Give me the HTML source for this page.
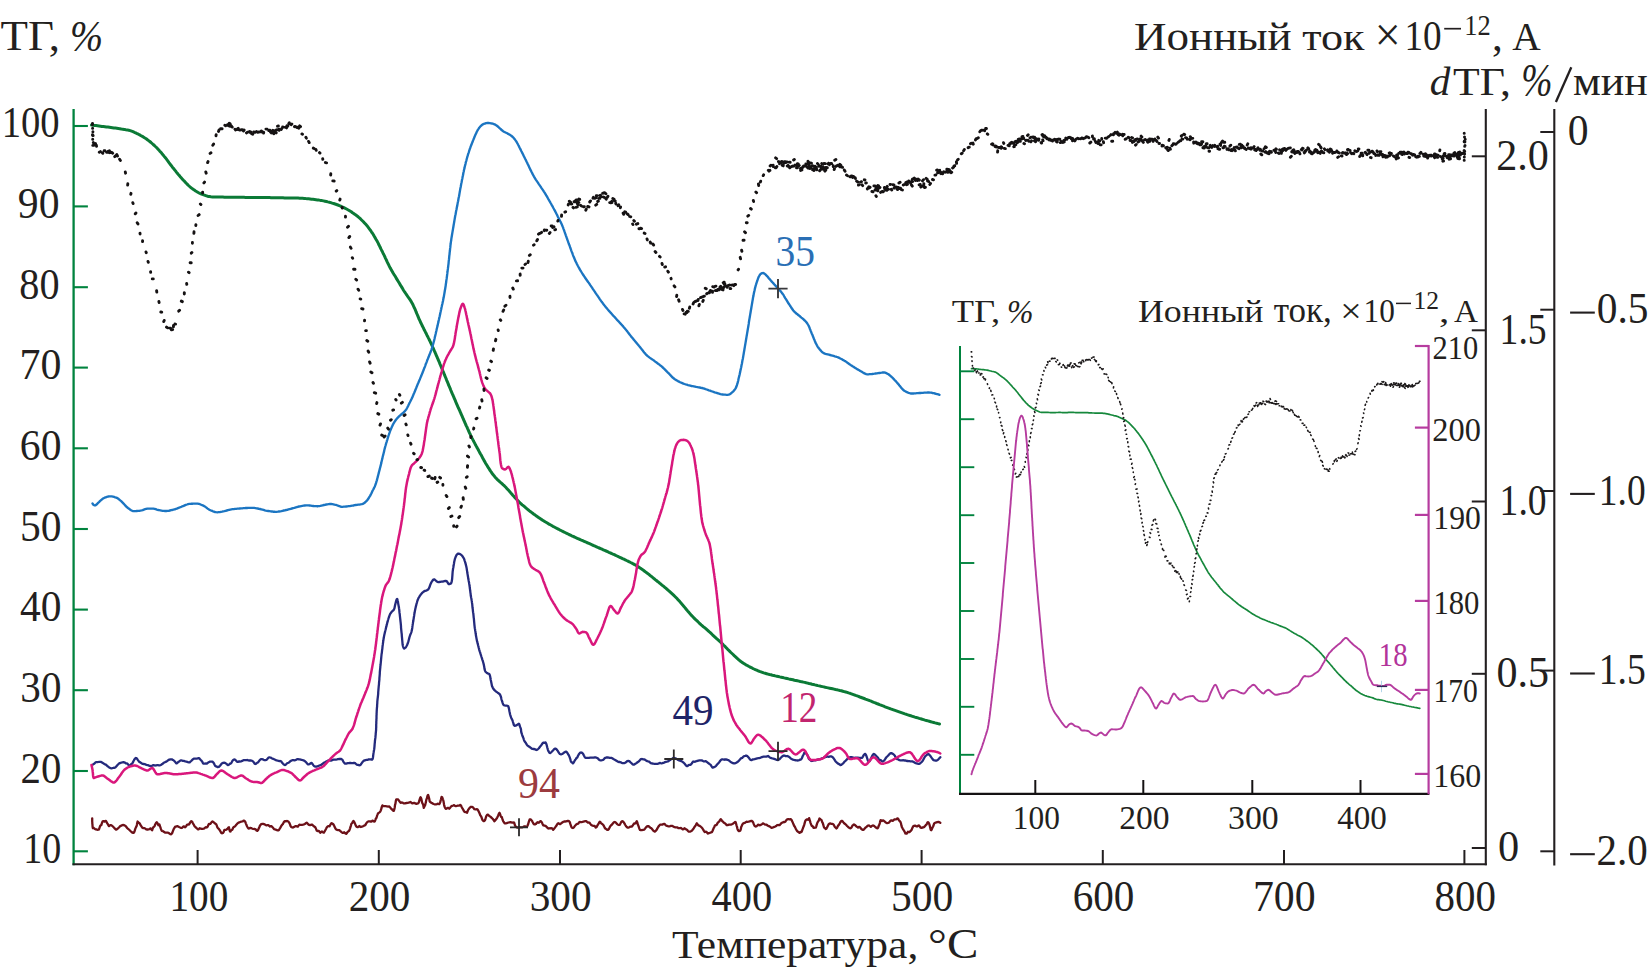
<!DOCTYPE html>
<html><head><meta charset="utf-8"><title>TG</title>
<style>html,body{margin:0;padding:0;background:#fff;}body{width:1649px;height:971px;overflow:hidden;font-family:"Liberation Serif",serif;}svg{display:block;}</style>
</head><body>
<svg width="1649" height="971" viewBox="0 0 1649 971" font-family="'Liberation Serif', serif">
<rect width="1649" height="971" fill="#ffffff"/>
<path d="M91.5 125.1L93 125.2L94.5 125.4L96 125.6L97.5 125.8L99 126L100.5 126.2L101.9 126.4L103.4 126.6L104.9 126.8L106.4 127L107.9 127.1L109.4 127.3L110.9 127.5L112.4 127.7L113.9 127.9L115.4 128.1L116.8 128.3L118.3 128.5L119.8 128.7L121.3 129L122.8 129.2L124.3 129.4L125.8 129.7L127.3 129.9L128.7 130.2L130.2 130.6L131.6 131.1L133 131.6L134.3 132.3L135.7 132.9L137.1 133.6L138.4 134.2L139.7 134.9L141.1 135.7L142.4 136.4L143.7 137.2L144.9 138L146.2 138.8L147.4 139.7L148.6 140.6L149.8 141.5L151 142.5L152.1 143.5L153.2 144.5L154.4 145.5L155.4 146.5L156.5 147.5L157.5 148.6L158.6 149.7L159.6 150.9L160.6 152L161.6 153.1L162.5 154.3L163.5 155.4L164.4 156.6L165.4 157.8L166.3 158.9L167.2 160.1L168.1 161.3L169 162.6L169.9 163.8L170.8 165L171.7 166.2L172.6 167.4L173.6 168.5L174.5 169.7L175.5 170.9L176.4 172.1L177.3 173.2L178.3 174.4L179.3 175.5L180.2 176.7L181.2 177.8L182.2 178.9L183.2 180L184.3 181.1L185.3 182.2L186.3 183.3L187.4 184.4L188.5 185.5L189.6 186.5L190.7 187.5L191.9 188.4L193.1 189.3L194.3 190.1L195.6 191L196.9 191.7L198.2 192.5L199.5 193.2L200.9 193.8L202.3 194.4L203.7 194.9L205.1 195.4L206.5 195.9L208 196.4L209.4 196.6L210.9 196.8L212.4 196.9L213.9 197L215.4 197L216.9 197.1L218.4 197.1L219.9 197.1L221.4 197.1L222.9 197.1L224.4 197.2L225.9 197.2L227.4 197.2L228.9 197.2L230.5 197.2L232 197.2L233.5 197.2L235 197.3L236.5 197.3L238 197.3L239.5 197.3L241 197.3L242.5 197.3L244 197.3L245.5 197.4L247 197.4L248.5 197.4L250 197.4L251.5 197.4L253 197.4L254.5 197.4L256 197.5L257.5 197.5L259 197.5L260.5 197.5L262 197.5L263.5 197.5L265 197.6L266.5 197.6L268 197.6L269.5 197.6L271 197.7L272.5 197.7L274 197.7L275.5 197.7L277 197.7L278.5 197.8L280 197.8L281.5 197.8L283 197.8L284.5 197.9L286 197.9L287.6 197.9L289.1 197.9L290.6 198L292.1 198L293.6 198L295.1 198.1L296.6 198.1L298.1 198.1L299.6 198.2L301.1 198.2L302.6 198.3L304.1 198.4L305.6 198.6L307.1 198.7L308.6 198.8L310.1 199L311.6 199.2L313 199.3L314.5 199.5L316 199.7L317.5 199.9L319 200.1L320.5 200.4L322 200.6L323.5 200.9L324.9 201.2L326.4 201.5L327.8 201.9L329.3 202.2L330.8 202.6L332.2 203.1L333.6 203.5L335.1 204L336.5 204.5L337.9 205L339.3 205.6L340.7 206.2L342 206.8L343.4 207.4L344.8 208.1L346.1 208.8L347.4 209.5L348.7 210.2L350 211L351.3 211.8L352.5 212.7L353.7 213.5L355 214.4L356.2 215.3L357.4 216.2L358.5 217.2L359.7 218.2L360.8 219.2L361.8 220.2L362.9 221.3L364 222.4L365 223.5L366 224.6L367 225.7L367.9 226.9L368.8 228.1L369.7 229.3L370.6 230.5L371.4 231.8L372.3 233L373.1 234.3L373.9 235.6L374.6 236.9L375.4 238.2L376.1 239.5L376.9 240.8L377.6 242.1L378.3 243.4L378.9 244.8L379.6 246.1L380.3 247.5L380.9 248.8L381.6 250.2L382.3 251.5L382.9 252.9L383.6 254.2L384.3 255.6L384.9 256.9L385.5 258.3L386.2 259.7L386.8 261L387.4 262.4L388.1 263.7L388.8 265.1L389.4 266.4L390.1 267.8L390.9 269.1L391.6 270.4L392.4 271.7L393.1 273L393.9 274.3L394.7 275.5L395.5 276.8L396.2 278.1L397 279.4L397.8 280.7L398.6 282L399.4 283.3L400.1 284.6L400.9 285.8L401.7 287.1L402.5 288.4L403.2 289.7L404 291L404.8 292.2L405.7 293.5L406.5 294.7L407.4 296L408.2 297.2L409.1 298.4L410 299.7L410.8 300.9L411.6 302.2L412.3 303.5L413 304.8L413.6 306.2L414.2 307.5L414.9 308.9L415.5 310.3L416 311.7L416.6 313.1L417.2 314.5L417.8 315.9L418.4 317.3L418.9 318.7L419.6 320L420.2 321.4L420.8 322.8L421.5 324.1L422.1 325.5L422.8 326.8L423.5 328.2L424.1 329.5L424.8 330.8L425.5 332.2L426.2 333.5L426.8 334.9L427.5 336.2L428.2 337.6L428.9 338.9L429.5 340.3L430.2 341.6L430.8 343L431.5 344.3L432.1 345.7L432.7 347.1L433.3 348.4L433.9 349.8L434.5 351.2L435.1 352.5L435.7 353.9L436.3 355.3L436.9 356.7L437.5 358.1L438.1 359.5L438.7 360.8L439.3 362.2L439.8 363.6L440.4 365L441 366.4L441.6 367.8L442.2 369.2L442.7 370.5L443.3 371.9L443.9 373.3L444.4 374.7L445 376.1L445.6 377.5L446.2 378.9L446.7 380.3L447.3 381.7L447.9 383.1L448.4 384.5L449 385.8L449.6 387.2L450.2 388.6L450.7 390L451.3 391.4L451.9 392.8L452.5 394.2L453.1 395.5L453.7 396.9L454.3 398.3L454.9 399.7L455.5 401.1L456 402.4L456.6 403.8L457.2 405.2L457.8 406.6L458.4 408L459.1 409.3L459.7 410.7L460.3 412.1L460.9 413.5L461.5 414.8L462.1 416.2L462.7 417.6L463.3 419L463.9 420.3L464.5 421.7L465.1 423.1L465.7 424.5L466.3 425.8L467 427.2L467.6 428.6L468.2 429.9L468.8 431.3L469.4 432.7L470.1 434L470.7 435.4L471.4 436.7L472 438.1L472.7 439.4L473.4 440.8L474.1 442.1L474.8 443.4L475.5 444.8L476.2 446.1L476.9 447.4L477.7 448.7L478.4 450L479.1 451.4L479.8 452.7L480.5 454L481.3 455.3L482 456.6L482.7 458L483.4 459.3L484.1 460.6L484.9 461.9L485.6 463.2L486.4 464.5L487.2 465.8L488 467.1L488.8 468.3L489.6 469.6L490.4 470.9L491.3 472.1L492.1 473.3L493 474.6L494 475.7L494.9 476.9L495.9 478L496.9 479.1L498 480.1L499.1 481.1L500.2 482.1L501.4 483.1L502.5 484.1L503.6 485.2L504.7 486.2L505.8 487.3L506.8 488.4L507.8 489.5L508.8 490.6L509.8 491.7L510.8 492.9L511.8 494L512.8 495.2L513.8 496.3L514.8 497.4L515.8 498.5L516.8 499.6L517.8 500.7L518.9 501.7L520 502.8L521.1 503.8L522.2 504.8L523.3 505.7L524.5 506.7L525.6 507.7L526.8 508.7L528 509.6L529.1 510.6L530.3 511.5L531.5 512.4L532.7 513.3L533.9 514.2L535.2 515.1L536.4 516L537.6 516.9L538.9 517.7L540.1 518.5L541.3 519.4L542.6 520.2L543.9 521L545.1 521.8L546.4 522.5L547.7 523.3L549 524.1L550.3 524.8L551.6 525.5L552.9 526.3L554.3 527L555.6 527.7L556.9 528.4L558.3 529.1L559.6 529.8L561 530.5L562.3 531.2L563.6 531.8L565 532.5L566.3 533.2L567.7 533.8L569 534.5L570.4 535.1L571.7 535.8L573.1 536.4L574.5 537L575.8 537.7L577.2 538.3L578.6 538.9L580 539.5L581.3 540.1L582.7 540.7L584.1 541.3L585.5 541.9L586.8 542.5L588.2 543.1L589.6 543.7L591 544.3L592.3 545L593.7 545.6L595.1 546.2L596.5 546.8L597.8 547.4L599.2 548L600.6 548.6L602 549.2L603.3 549.8L604.7 550.4L606.1 551L607.5 551.6L608.8 552.3L610.2 552.9L611.6 553.5L612.9 554.1L614.3 554.7L615.7 555.4L617 556L618.4 556.7L619.8 557.3L621.1 557.9L622.5 558.6L623.9 559.2L625.2 559.8L626.6 560.5L627.9 561.1L629.3 561.8L630.6 562.5L632 563.2L633.3 563.9L634.6 564.6L635.9 565.3L637.2 566.1L638.4 566.9L639.7 567.7L640.9 568.5L642.2 569.4L643.4 570.3L644.6 571.2L645.8 572.1L647 573L648.2 573.9L649.4 574.8L650.6 575.8L651.7 576.7L652.9 577.7L654.1 578.6L655.2 579.6L656.4 580.5L657.6 581.5L658.8 582.4L659.9 583.4L661.1 584.3L662.3 585.3L663.4 586.2L664.6 587.2L665.8 588.1L666.9 589.1L668 590.1L669.2 591.1L670.3 592.1L671.4 593.1L672.5 594.1L673.6 595.1L674.7 596.2L675.7 597.2L676.8 598.3L677.8 599.4L678.8 600.5L679.8 601.6L680.8 602.8L681.8 603.9L682.7 605.1L683.7 606.2L684.7 607.4L685.6 608.5L686.6 609.7L687.6 610.9L688.6 612L689.5 613.1L690.5 614.3L691.5 615.4L692.6 616.5L693.6 617.6L694.6 618.6L695.7 619.7L696.8 620.7L697.9 621.7L699 622.8L700.1 623.8L701.2 624.8L702.4 625.8L703.5 626.8L704.6 627.7L705.8 628.7L706.9 629.7L708 630.7L709.1 631.7L710.3 632.7L711.4 633.7L712.5 634.8L713.6 635.8L714.7 636.8L715.8 637.8L716.9 638.8L718.1 639.8L719.2 640.8L720.3 641.8L721.3 642.9L722.4 643.9L723.5 645L724.6 646L725.6 647.1L726.7 648.2L727.7 649.3L728.8 650.3L729.8 651.4L730.9 652.5L732 653.5L733.1 654.5L734.2 655.6L735.3 656.6L736.4 657.6L737.5 658.7L738.6 659.7L739.8 660.6L740.9 661.5L742.1 662.4L743.4 663.2L744.7 664L745.9 664.8L747.3 665.5L748.6 666.3L749.9 667L751.3 667.6L752.6 668.3L754 669L755.3 669.6L756.7 670.2L758.1 670.8L759.5 671.4L760.9 671.9L762.3 672.4L763.7 672.9L765.2 673.3L766.6 673.7L768 674.1L769.5 674.5L771 674.8L772.4 675.2L773.9 675.5L775.3 675.9L776.8 676.2L778.3 676.5L779.8 676.9L781.2 677.2L782.7 677.5L784.2 677.9L785.7 678.2L787.1 678.5L788.6 678.9L790 679.2L791.5 679.5L793 679.8L794.4 680.2L795.9 680.5L797.4 680.8L798.9 681.1L800.3 681.5L801.8 681.8L803.3 682.1L804.7 682.4L806.2 682.8L807.6 683.1L809.1 683.5L810.6 683.8L812 684.2L813.5 684.5L815 684.9L816.4 685.2L817.9 685.6L819.3 685.9L820.8 686.3L822.3 686.6L823.7 686.9L825.2 687.3L826.7 687.6L828.1 687.9L829.6 688.2L831.1 688.5L832.6 688.8L834 689.1L835.5 689.5L837 689.8L838.4 690.1L839.9 690.5L841.4 690.8L842.8 691.2L844.2 691.6L845.7 692L847.1 692.4L848.5 692.9L850 693.3L851.4 693.8L852.8 694.3L854.2 694.8L855.6 695.4L857.1 695.9L858.5 696.4L859.9 697L861.3 697.5L862.7 698L864.1 698.5L865.5 699.1L866.9 699.6L868.3 700.1L869.7 700.7L871.1 701.2L872.5 701.8L873.9 702.4L875.3 702.9L876.7 703.5L878.1 704L879.5 704.6L880.9 705.1L882.3 705.7L883.7 706.2L885.1 706.8L886.5 707.3L887.9 707.8L889.3 708.3L890.7 708.9L892.1 709.4L893.5 709.9L895 710.4L896.4 710.9L897.8 711.4L899.2 711.9L900.6 712.4L902.1 712.9L903.5 713.4L904.9 713.9L906.3 714.3L907.8 714.8L909.2 715.3L910.6 715.7L912 716.2L913.5 716.6L914.9 717.1L916.3 717.5L917.8 717.9L919.2 718.4L920.7 718.8L922.1 719.2L923.5 719.6L925 720.1L926.4 720.5L927.9 720.9L929.3 721.3L930.8 721.7L932.2 722.1L933.7 722.5L935.1 722.9L936.6 723.2L938 723.6L939.5 724" fill="none" stroke="#0b7a36" stroke-width="3.0" stroke-linejoin="round" stroke-linecap="round"/>
<path d="M92.5 503.5L93.4 504.7L94.4 505.4L95.3 505.4L96.2 504.8L97.2 503.8L98.1 502.9L99 502.1L99.9 501.2L100.8 500.4L101.7 499.6L102.6 498.8L103.6 498.2L104.6 497.7L105.7 497.3L106.9 496.9L108.1 496.5L109.3 496.3L110.5 496.3L111.7 496.4L112.9 496.6L114.1 496.9L115.2 497.3L116.3 497.6L117.4 498.1L118.3 498.8L119.3 499.6L120.2 500.4L121.2 501.2L122.1 502.1L122.9 502.9L123.8 503.8L124.6 504.7L125.4 505.6L126.2 506.5L127.1 507.3L128 508L129 508.7L130 509.5L131.1 510.2L132.2 510.8L133.3 511.1L134.4 511.2L135.6 511.1L136.8 511L138 510.9L139.2 510.8L140.4 510.6L141.6 510.4L142.7 510.1L143.9 509.6L145.1 509.2L146.2 508.9L147.4 508.6L148.6 508.6L149.8 508.6L151 508.6L152.2 508.6L153.4 508.6L154.5 508.8L155.7 509.2L156.8 509.6L158 510L159.2 510.2L160.3 510.4L161.5 510.6L162.7 510.8L163.9 510.9L165.1 511L166.3 511L167.5 510.9L168.7 510.8L169.9 510.5L171.1 510.2L172.3 510L173.4 509.6L174.6 509.3L175.7 509L176.8 508.6L178 508.1L179.1 507.7L180.2 507.2L181.3 506.8L182.4 506.3L183.6 505.9L184.7 505.4L185.8 504.9L187 504.5L188.1 504.1L189.3 503.9L190.4 503.8L191.6 503.7L192.8 503.7L194.1 503.6L195.3 503.6L196.5 503.6L197.6 503.6L198.8 503.9L200 504.2L201.1 504.7L202.2 505.2L203.3 505.6L204.4 506.2L205.4 506.9L206.4 507.6L207.3 508.4L208.3 509.1L209.3 509.7L210.4 510.2L211.5 510.7L212.7 511.2L213.8 511.7L215 512L216.1 512.2L217.3 512.3L218.5 512.2L219.7 512.1L220.9 511.8L222.1 511.6L223.2 511.3L224.4 511.1L225.6 510.8L226.8 510.5L227.9 510.2L229.1 509.9L230.3 509.6L231.4 509.4L232.6 509.2L233.8 509.1L235 508.9L236.2 508.8L237.4 508.7L238.6 508.6L239.8 508.5L241 508.4L242.2 508.3L243.4 508.2L244.6 508.1L245.8 508L247 508L248.2 507.9L249.4 507.9L250.6 507.8L251.8 507.8L253 507.8L254.2 507.9L255.4 508.1L256.6 508.3L257.8 508.5L258.9 508.8L260.1 509L261.3 509.3L262.4 509.6L263.6 509.9L264.8 510.3L265.9 510.6L267.1 510.8L268.3 511L269.5 511.2L270.7 511.4L271.9 511.5L273.1 511.7L274.3 511.7L275.5 511.8L276.7 511.8L277.8 511.7L279 511.5L280.2 511.3L281.4 511.1L282.6 510.8L283.8 510.5L284.9 510.3L286.1 510L287.3 509.8L288.4 509.4L289.6 509.1L290.8 508.8L291.9 508.5L293.1 508.2L294.2 507.9L295.4 507.5L296.6 507.2L297.7 506.8L298.9 506.5L300 506.3L301.2 506.1L302.4 505.9L303.6 505.7L304.8 505.5L306 505.4L307.2 505.3L308.4 505.3L309.6 505.5L310.8 505.7L312 505.9L313.2 506L314.4 506.1L315.6 506.1L316.8 506.2L318 506.2L319.1 506.1L320.3 505.9L321.5 505.6L322.7 505.3L323.9 505L325 504.8L326.2 504.5L327.4 504.3L328.6 504.1L329.8 504L331 504L332.2 504.2L333.4 504.4L334.5 504.7L335.7 504.9L336.9 505.2L338 505.7L339.2 506.1L340.3 506.5L341.5 506.8L342.6 506.8L343.8 506.7L345 506.6L346.2 506.5L347.4 506.4L348.6 506.2L349.8 506.1L351 505.9L352.2 505.7L353.4 505.5L354.6 505.2L355.8 505L357 504.9L358.2 504.7L359.4 504.6L360.6 504.4L361.8 504.2L362.8 503.9L363.9 503.3L364.9 502.5L365.8 501.7L366.6 500.9L367.4 500L368.1 499L368.8 498L369.4 496.9L370.1 495.9L370.6 494.9L371.2 493.8L371.7 492.7L372.2 491.6L372.7 490.5L373.3 489.5L373.8 488.4L374.4 487.3L374.9 486.2L375.3 485.1L375.7 484L376.1 482.9L376.4 481.7L376.8 480.6L377.1 479.4L377.4 478.3L377.7 477.1L378 475.9L378.3 474.8L378.6 473.6L378.9 472.4L379.2 471.2L379.5 470.1L379.8 468.9L380.1 467.7L380.4 466.6L380.7 465.4L381 464.2L381.3 463.1L381.5 461.9L381.8 460.7L382.1 459.5L382.4 458.4L382.6 457.2L382.9 456L383.2 454.9L383.5 453.7L383.8 452.5L384.1 451.4L384.3 450.2L384.6 449L384.9 447.9L385.2 446.7L385.6 445.5L385.9 444.4L386.2 443.2L386.6 442.1L386.9 440.9L387.3 439.8L387.6 438.6L388 437.5L388.3 436.3L388.7 435.2L389.1 434L389.5 432.9L389.9 431.7L390.3 430.6L390.8 429.5L391.2 428.4L391.7 427.3L392.2 426.2L392.7 425.1L393.2 424.1L393.8 423L394.5 422L395.1 421L395.8 420L396.6 419L397.3 418.1L398.1 417.3L399 416.4L399.9 415.6L400.8 414.8L401.7 414L402.7 413.3L403.5 412.5L404.4 411.6L405.2 410.7L406 409.8L406.6 408.8L407.2 407.7L407.7 406.7L408.3 405.6L408.8 404.5L409.3 403.4L409.9 402.3L410.4 401.3L410.9 400.2L411.5 399.1L412 398L412.5 396.9L413 395.8L413.4 394.7L413.9 393.6L414.4 392.5L414.8 391.4L415.3 390.3L415.7 389.2L416.2 388L416.6 386.9L417.1 385.8L417.5 384.7L418 383.6L418.5 382.5L418.9 381.4L419.4 380.3L419.9 379.2L420.3 378.1L420.8 376.9L421.3 375.8L421.7 374.7L422.2 373.6L422.6 372.5L423 371.4L423.5 370.3L423.9 369.1L424.3 368L424.8 366.9L425.2 365.8L425.6 364.6L426 363.5L426.5 362.4L426.9 361.3L427.3 360.1L427.8 359L428.2 357.9L428.7 356.8L429.1 355.7L429.6 354.6L430 353.4L430.5 352.3L430.9 351.2L431.3 350.1L431.7 348.9L432.1 347.8L432.4 346.7L432.7 345.5L433.1 344.3L433.4 343.2L433.7 342L434 340.9L434.3 339.7L434.6 338.5L434.8 337.4L435.1 336.2L435.4 335L435.7 333.8L435.9 332.7L436.2 331.5L436.5 330.3L436.7 329.1L437 328L437.3 326.8L437.6 325.6L437.8 324.5L438.1 323.3L438.4 322.1L438.6 320.9L438.9 319.8L439.1 318.6L439.4 317.4L439.7 316.2L439.9 315.1L440.2 313.9L440.4 312.7L440.7 311.5L440.9 310.4L441.2 309.2L441.4 308L441.7 306.8L441.9 305.7L442.2 304.5L442.5 303.3L442.7 302.1L443 301L443.2 299.8L443.4 298.6L443.7 297.4L443.9 296.3L444.1 295.1L444.3 293.9L444.5 292.7L444.7 291.5L444.9 290.3L445.1 289.2L445.3 288L445.5 286.8L445.7 285.6L445.8 284.4L446 283.2L446.2 282L446.3 280.8L446.5 279.6L446.7 278.4L446.8 277.3L447 276.1L447.1 274.9L447.3 273.7L447.4 272.5L447.6 271.3L447.7 270.1L447.9 268.9L448 267.7L448.2 266.5L448.3 265.3L448.5 264.1L448.6 262.9L448.7 261.7L448.8 260.5L449 259.4L449.1 258.2L449.2 257L449.3 255.8L449.5 254.6L449.6 253.4L449.7 252.2L449.9 251L450 249.8L450.1 248.6L450.3 247.4L450.4 246.2L450.5 245L450.7 243.8L450.8 242.6L451 241.4L451.2 240.3L451.3 239.1L451.5 237.9L451.7 236.7L451.9 235.5L452.1 234.3L452.3 233.1L452.5 231.9L452.7 230.8L452.9 229.6L453.1 228.4L453.3 227.2L453.5 226L453.7 224.8L453.9 223.6L454.1 222.5L454.3 221.3L454.5 220.1L454.7 218.9L454.9 217.7L455.1 216.5L455.3 215.4L455.6 214.2L455.8 213L456 211.8L456.2 210.6L456.5 209.5L456.7 208.3L456.9 207.1L457.2 205.9L457.4 204.7L457.6 203.6L457.8 202.4L458.1 201.2L458.3 200L458.5 198.8L458.7 197.6L459 196.5L459.2 195.3L459.4 194.1L459.6 192.9L459.8 191.7L460 190.6L460.2 189.4L460.4 188.2L460.7 187L460.9 185.8L461.1 184.6L461.3 183.5L461.6 182.3L461.8 181.1L462 179.9L462.3 178.7L462.5 177.6L462.7 176.4L463 175.2L463.2 174L463.4 172.8L463.7 171.7L463.9 170.5L464.2 169.3L464.5 168.1L464.7 167L465 165.8L465.3 164.6L465.6 163.5L465.8 162.3L466.2 161.1L466.5 160L466.8 158.8L467.1 157.7L467.4 156.5L467.8 155.4L468.1 154.2L468.5 153.1L468.9 151.9L469.2 150.8L469.6 149.6L470 148.5L470.4 147.4L470.8 146.2L471.3 145.1L471.7 144L472.1 142.9L472.6 141.8L473 140.6L473.5 139.5L473.9 138.4L474.4 137.3L474.8 136.2L475.3 135.1L475.8 134L476.3 132.9L476.8 131.8L477.4 130.7L478 129.7L478.7 128.7L479.3 127.7L480.1 126.8L481 125.8L481.9 125L482.9 124.3L483.9 123.9L485 123.5L486.2 123.2L487.4 123L488.6 123L489.8 123.1L491 123.3L492.2 123.5L493.4 123.9L494.5 124.3L495.6 124.9L496.6 125.5L497.5 126.2L498.4 127L499.3 127.9L500.2 128.7L501.1 129.5L502 130.3L502.9 131L503.9 131.7L505 132.2L506.1 132.8L507.2 133.3L508.2 133.9L509.3 134.5L510.3 135.1L511.3 135.8L512.2 136.5L513.1 137.3L513.9 138.2L514.7 139.2L515.4 140.2L516.1 141.1L516.7 142.1L517.3 143.2L517.9 144.3L518.4 145.3L519 146.4L519.5 147.5L520.1 148.6L520.6 149.6L521.1 150.7L521.7 151.8L522.2 152.9L522.8 153.9L523.3 155L523.8 156.1L524.4 157.2L524.9 158.2L525.4 159.3L526 160.4L526.5 161.5L527 162.5L527.5 163.6L528.1 164.7L528.6 165.8L529.1 166.9L529.6 168L530.1 169.1L530.6 170.2L531.2 171.2L531.7 172.3L532.3 173.4L532.8 174.4L533.4 175.5L534 176.6L534.6 177.6L535.2 178.6L535.8 179.6L536.5 180.6L537.2 181.6L537.9 182.6L538.5 183.6L539.2 184.6L539.9 185.6L540.6 186.6L541.2 187.6L541.9 188.6L542.6 189.6L543.3 190.6L543.9 191.6L544.6 192.6L545.2 193.6L545.8 194.6L546.4 195.7L547 196.7L547.6 197.7L548.2 198.8L548.8 199.8L549.4 200.9L550 201.9L550.6 203L551.2 204L551.8 205.1L552.4 206.1L553 207.2L553.5 208.2L554.1 209.3L554.7 210.3L555.2 211.4L555.8 212.5L556.3 213.5L556.9 214.6L557.4 215.7L557.9 216.8L558.5 217.8L559 218.9L559.6 220L560.1 221.1L560.7 222.1L561.2 223.2L561.7 224.3L562.2 225.4L562.6 226.5L563.1 227.6L563.5 228.8L563.9 229.9L564.3 231L564.7 232.2L565.1 233.3L565.5 234.4L565.9 235.6L566.3 236.7L566.7 237.8L567.1 239L567.5 240.1L567.9 241.2L568.3 242.3L568.7 243.5L569.1 244.6L569.6 245.7L570 246.9L570.4 248L570.8 249.1L571.2 250.3L571.6 251.4L572.1 252.5L572.5 253.6L572.9 254.8L573.3 255.9L573.8 257L574.2 258.1L574.7 259.2L575.1 260.3L575.6 261.4L576.2 262.5L576.7 263.6L577.3 264.7L577.8 265.7L578.4 266.8L579 267.8L579.5 268.9L580.1 269.9L580.8 271L581.4 272L582 273L582.6 274L583.3 275L584 276L584.6 277L585.3 278L586 279L586.7 280L587.4 281L588.1 282L588.8 282.9L589.5 283.9L590.1 284.9L590.8 285.9L591.5 286.9L592.2 287.9L592.8 288.9L593.5 289.9L594.2 290.9L594.9 291.9L595.5 292.9L596.2 293.9L596.9 294.9L597.6 295.8L598.3 296.8L599 297.8L599.6 298.8L600.3 299.8L601 300.8L601.7 301.8L602.4 302.7L603.1 303.7L603.9 304.7L604.6 305.6L605.3 306.5L606.1 307.5L606.9 308.4L607.6 309.3L608.4 310.2L609.2 311.1L610 312L610.8 312.9L611.6 313.8L612.4 314.7L613.2 315.6L614.1 316.5L614.9 317.4L615.7 318.3L616.5 319.2L617.3 320.1L618.1 320.9L618.9 321.8L619.7 322.7L620.6 323.6L621.4 324.5L622.2 325.4L623 326.2L623.8 327.2L624.6 328.1L625.3 329L626.1 329.9L626.8 330.9L627.6 331.8L628.3 332.8L629 333.7L629.8 334.7L630.5 335.6L631.2 336.6L632 337.5L632.8 338.4L633.5 339.4L634.3 340.3L635.1 341.2L635.8 342.1L636.6 343L637.4 344L638.2 344.9L638.9 345.8L639.7 346.7L640.5 347.7L641.2 348.6L641.9 349.6L642.7 350.6L643.4 351.5L644.2 352.5L645 353.4L645.8 354.3L646.6 355.1L647.4 355.9L648.4 356.7L649.3 357.4L650.3 358.1L651.3 358.8L652.3 359.4L653.3 360.1L654.3 360.8L655.2 361.6L656.2 362.3L657.2 363L658.1 363.7L659.1 364.4L660 365.2L661 365.9L661.9 366.7L662.8 367.5L663.7 368.3L664.5 369.2L665.4 370L666.2 370.9L667 371.7L667.9 372.6L668.8 373.4L669.6 374.3L670.4 375.2L671.3 376.1L672.1 377L673 377.8L673.9 378.5L674.8 379.2L675.8 379.9L676.9 380.5L677.9 381.1L679 381.6L680.1 382.2L681.2 382.7L682.3 383.1L683.4 383.6L684.5 384L685.7 384.4L686.8 384.7L688 385.1L689.2 385.4L690.3 385.7L691.5 386L692.7 386.2L693.8 386.4L695 386.6L696.2 386.9L697.4 387.1L698.6 387.3L699.8 387.5L700.9 387.8L702.1 388L703.3 388.3L704.4 388.7L705.5 389.1L706.7 389.5L707.8 389.9L708.9 390.3L710.1 390.7L711.2 391.1L712.4 391.5L713.5 391.9L714.6 392.3L715.8 392.6L716.9 393L718.1 393.3L719.2 393.7L720.4 394.1L721.6 394.4L722.7 394.5L723.9 394.6L725.2 394.7L726.4 394.8L727.6 394.8L728.7 394.7L729.8 394.2L730.8 393.5L731.8 392.7L732.7 391.9L733.6 391.1L734.4 390.1L735.1 389.1L735.7 388.1L736.2 387.1L736.6 386L737 384.9L737.4 383.7L737.7 382.6L738 381.4L738.3 380.2L738.5 379L738.8 377.8L739.1 376.6L739.4 375.4L739.7 374.3L739.9 373.1L740.2 371.9L740.4 370.7L740.7 369.6L740.9 368.4L741.2 367.2L741.4 366L741.6 364.9L741.9 363.7L742.1 362.5L742.3 361.3L742.5 360.1L742.8 359L743 357.8L743.2 356.6L743.4 355.4L743.6 354.2L743.8 353L744 351.8L744.2 350.7L744.4 349.5L744.6 348.3L744.8 347.1L745 345.9L745.2 344.7L745.4 343.6L745.6 342.4L745.8 341.2L746 340L746.2 338.8L746.4 337.6L746.6 336.4L746.8 335.3L747 334.1L747.2 332.9L747.4 331.7L747.6 330.5L747.8 329.3L748 328.1L748.2 327L748.4 325.8L748.6 324.6L748.8 323.4L748.9 322.2L749.1 321L749.3 319.8L749.5 318.6L749.7 317.5L749.9 316.3L750.1 315.1L750.3 313.9L750.5 312.7L750.7 311.5L750.9 310.3L751.1 309.2L751.3 308L751.5 306.8L751.7 305.6L751.9 304.4L752.1 303.2L752.3 302L752.5 300.9L752.7 299.7L752.9 298.5L753.1 297.3L753.4 296.1L753.6 294.9L753.8 293.8L754 292.6L754.3 291.4L754.6 290.2L754.8 289.1L755.1 287.9L755.4 286.7L755.7 285.6L756.1 284.4L756.4 283.3L756.8 282.1L757.2 281L757.6 279.8L758 278.7L758.4 277.6L758.9 276.5L759.5 275.5L760.2 274.4L761.1 273.6L762.2 273.1L763.3 273L764.4 273.6L765.4 274.4L766.3 275.3L767.1 276.1L767.9 277L768.6 278L769.4 278.9L770.2 279.8L771 280.7L771.8 281.6L772.6 282.5L773.4 283.4L774.2 284.3L775.1 285.2L775.9 286.1L776.7 287L777.5 287.8L778.3 288.7L779.1 289.6L779.9 290.5L780.7 291.4L781.5 292.3L782.2 293.3L782.9 294.2L783.6 295.2L784.2 296.3L784.8 297.3L785.4 298.3L786.1 299.4L786.7 300.4L787.3 301.4L787.9 302.5L788.6 303.5L789.3 304.5L789.9 305.5L790.6 306.5L791.2 307.5L791.9 308.5L792.6 309.5L793.3 310.5L794.1 311.4L794.9 312.2L795.8 313L796.7 313.8L797.7 314.5L798.6 315.3L799.6 316L800.5 316.8L801.4 317.6L802.4 318.4L803.3 319.2L804.2 320L805.1 320.8L805.9 321.7L806.7 322.6L807.3 323.5L807.9 324.5L808.5 325.5L809 326.6L809.5 327.7L809.9 328.9L810.4 330L810.8 331.2L811.3 332.3L811.7 333.4L812.2 334.5L812.7 335.6L813.1 336.8L813.6 337.9L814 339L814.5 340.1L814.9 341.2L815.4 342.4L815.9 343.4L816.5 344.5L817 345.5L817.6 346.6L818.3 347.6L819.1 348.5L819.8 349.5L820.6 350.4L821.4 351.3L822.3 352.2L823.3 352.9L824.3 353.4L825.4 353.8L826.5 354.1L827.7 354.4L828.9 354.7L830.1 355L831.3 355.3L832.4 355.6L833.6 355.9L834.8 356.3L835.9 356.6L837 357L838.1 357.4L839.2 357.9L840.3 358.5L841.4 359L842.4 359.6L843.5 360.2L844.5 360.8L845.6 361.4L846.6 362.1L847.5 362.8L848.5 363.5L849.5 364.2L850.5 364.9L851.5 365.5L852.5 366.2L853.5 366.8L854.5 367.5L855.6 368.1L856.6 368.8L857.6 369.4L858.7 370L859.7 370.6L860.8 371.2L861.8 371.8L862.9 372.5L864 373.1L865.1 373.7L866.2 374.1L867.3 374.3L868.5 374.3L869.6 374.2L870.8 374.1L872 374L873.3 373.8L874.5 373.7L875.7 373.5L876.9 373.4L878.1 373.2L879.3 373L880.5 372.8L881.7 372.7L882.9 372.5L884 372.5L885.2 372.7L886.3 373.1L887.4 373.7L888.5 374.3L889.4 375L890.4 375.8L891.3 376.6L892.1 377.4L893 378.2L893.8 379.1L894.6 380L895.5 380.9L896.3 381.8L897.1 382.7L897.9 383.6L898.7 384.5L899.4 385.5L900.2 386.4L900.9 387.4L901.7 388.3L902.5 389.2L903.4 390L904.3 390.7L905.3 391.3L906.4 391.9L907.5 392.4L908.6 392.8L909.8 393.2L911 393.5L912.1 393.5L913.3 393.5L914.5 393.4L915.7 393.3L916.9 393.2L918.1 393.1L919.3 393L920.5 393L921.7 392.9L923 392.8L924.2 392.7L925.4 392.6L926.6 392.6L927.8 392.5L928.9 392.5L930.1 392.6L931.3 392.7L932.5 393L933.7 393.2L934.9 393.5L936 393.8L937.2 394.1L938.4 394.4L939.5 394.8" fill="none" stroke="#1b75c2" stroke-width="2.35" stroke-linejoin="round" stroke-linecap="round"/>
<path d="M92.2 765.2L93 764.5L93.7 763.9L94.5 763.4L95.2 762.7L96 762.1L96.8 762.1L97.6 762.2L98.3 762L99.1 761.8L99.9 761.8L100.7 761.9L101.5 762.2L102.3 762.6L103.2 763.2L104 763.8L104.8 764.2L105.6 764.6L106.4 765.1L107.3 766L108.1 766.6L108.9 767.2L109.8 767.8L110.6 768.2L111.4 768.3L112.3 768.2L113.1 768L113.8 767.7L114.6 767.8L115.3 767.5L116 766.7L116.8 765.9L117.5 765L118.3 764.2L119 763.5L119.8 763.1L120.7 762.8L121.6 762.5L122.5 762.3L123.3 762.2L124.2 762.4L125 762.7L125.8 763.3L126.7 763.4L127.5 763.8L128.3 764.7L129 765.4L129.8 765.5L130.4 764.9L131.1 764.2L131.7 764L132.3 763.4L132.9 762.4L133.4 761.3L134 760.2L134.6 759.2L135.2 758.4L135.8 758L136.4 758.2L137 758.7L137.6 759.6L138.3 760.6L138.9 761.4L139.6 762.1L140.4 762.6L141.2 763.1L142 763.6L142.9 763.9L143.8 764L144.7 764.1L145.6 764.5L146.4 764.9L147.3 765.1L148.2 765.2L149 765.6L149.9 765.9L150.8 766.2L151.7 766L152.6 765.4L153.5 765.1L154.4 765.4L155.4 765.5L156.3 765.3L157.2 765.1L158 765.2L158.9 765.3L159.8 765.3L160.6 765L161.5 764.6L162.3 764.1L163.1 763.4L163.9 762.7L164.8 762.3L165.6 761.9L166.4 761.4L167.3 760.9L168.1 760.3L169 759.7L169.8 759.5L170.6 759.4L171.4 759.4L172.2 759.5L172.9 759.9L173.6 760.4L174.3 760.9L175 761.7L175.7 762.7L176.4 763.4L177.1 763.1L177.9 762.4L178.7 761.7L179.5 761.2L180.3 760.6L181.2 760.3L182 760.5L182.8 760.8L183.7 760.9L184.6 761.2L185.4 761.5L186.3 761.7L187.2 761.9L188 762.2L188.9 762.4L189.7 762.3L190.4 761.7L191.2 761L191.9 760.2L192.6 759.4L193.4 758.9L194.1 758.7L195 758.6L195.9 758.6L196.8 758.6L197.7 758.4L198.5 758.1L199.2 758.1L199.9 759L200.5 759.7L201.1 760.3L201.7 761L202.3 761.7L202.9 763.1L203.5 763.7L204.3 763.7L205.1 763.6L205.9 763.5L206.9 763.6L207.8 762.9L208.7 762.2L209.7 761.7L210.5 761.6L211.3 761.6L212.1 761.6L212.8 761.9L213.4 762.6L214 763.5L214.6 764.8L215.2 765.9L215.8 766.3L216.5 766.4L217.1 766.9L217.8 767.2L218.6 767L219.3 766.5L220 765.7L220.8 764.7L221.6 763.7L222.4 763.1L223.2 762.8L224 762.7L224.8 762.9L225.7 763.3L226.5 763.9L227.4 764.8L228.2 765.1L228.9 764.7L229.7 764L230.3 763.5L231 763.3L231.7 762.3L232.3 761.1L233 760.1L233.7 759.6L234.5 759.5L235.3 759.9L236.1 760.7L237 761.6L237.9 761.9L238.7 761.4L239.6 761.5L240.4 761.5L241.3 761.3L242.1 760.9L243 760.4L243.8 760.2L244.7 760.2L245.6 760.2L246.5 760.1L247.4 760L248.3 760.3L249.3 760.5L250.2 760.5L251 760.5L251.8 760.7L252.5 761L253.2 761.6L253.9 762.5L254.6 763.7L255.3 764L256 763.8L256.7 763.1L257.4 762.6L258.1 762.4L258.8 761.4L259.5 760.4L260.3 759.5L261.1 759.2L261.9 759.2L262.8 759.4L263.7 759.8L264.6 760.1L265.5 760.2L266.3 760L267.1 759.3L267.8 758.4L268.6 757.5L269.3 757.3L270.1 757.5L270.9 757.7L271.7 758.2L272.6 758.6L273.4 758.9L274.2 759.3L275.1 759.7L275.9 760.1L276.8 760.4L277.8 760.7L278.7 760.9L279.5 761.2L280.3 761L281.1 761.3L281.7 762.1L282.4 763L283.1 763.8L283.7 764.4L284.4 764.9L285.1 765L285.7 764.7L286.4 764L287.1 763.3L287.8 763L288.5 762.7L289.3 762.3L290 761.5L290.8 760.9L291.7 760.5L292.5 760.2L293.4 760.1L294.4 760.3L295.3 760.2L296.2 759.7L297.1 759.2L298 759.1L298.9 759.3L299.8 759.4L300.7 759.6L301.6 759.8L302.5 760L303.3 760.3L304.1 760.6L304.9 761.2L305.6 761.8L306.3 762.6L307.1 763.5L307.8 764.3L308.6 764.4L309.5 764.2L310.4 763.5L311.2 762.9L311.9 763.1L312.6 764.1L313.3 765.1L313.9 765.9L314.6 766.4L315.3 766.5L316.2 766.6L317 766.5L317.9 766.2L318.8 765.8L319.8 765.4L320.7 765L321.6 764.6L322.4 764.1L323.2 763.3L324 762.8L324.8 762.3L325.5 761.9L326.3 761.4L327.1 761.1L327.9 760.7L328.7 760.4L329.6 760.4L330.5 760.5L331.4 760.6L332.3 760.1L333.2 759.7L334.1 759.6L335.1 759.7L336 759.7L336.9 759.5L337.8 759.2L338.7 759L339.6 759L340.4 758.9L341.2 759L341.9 759.4L342.6 760L343.2 761.3L343.9 762.5L344.6 763.2L345.3 763.7L346.1 763.6L347 763.3L347.8 763.1L348.8 763.1L349.7 763L350.6 763L351.5 763.1L352.4 763.2L353.3 763L354.2 762.9L355.1 763.2L356 764L356.8 764.7L357.7 764.9L358.5 765L359.2 765.3L359.9 765.2L360.6 764.7L361.2 764L361.8 763L362.5 762.1L363.2 761.3L363.9 760.7L364.7 760.4L365.6 760.1L366.5 759.9L367.4 759.8L368.3 759.5L369.3 759.3L370.4 759.4L371.3 759.5L372.1 759.6L372.4 759.3L372.7 758.7L372.9 757.8L373.1 756.6L373.2 755.3L373.4 754.1L373.5 753L373.7 752.2L373.8 751.4L373.9 750.6L374.1 749.9L374.2 749.2L374.3 748.3L374.4 747.3L374.5 746.3L374.6 744.9L374.7 743.7L374.8 742.9L374.9 742L374.9 741.2L375 740.5L375.1 739.7L375.2 739L375.3 738.3L375.4 737.7L375.5 736.4L375.6 735.3L375.7 734.6L375.7 733.8L375.8 732.8L375.9 731.9L376 730.9L376.1 729.8L376.1 729.6L376.1 728.6L376.2 727.7L376.2 726.7L376.2 725.7L376.2 724.7L376.3 723.7L376.3 722.7L376.3 721.6L376.4 720.6L376.4 719.4L376.5 718.3L376.5 717.1L376.5 715.9L376.6 714.6L376.6 713.4L376.7 712.2L376.7 711.2L376.8 710.2L376.8 709.4L376.9 708.7L376.9 708L377 707.3L377.1 706.3L377.1 705.3L377.2 704.2L377.3 703L377.3 701.9L377.4 700.8L377.5 699.8L377.6 698.9L377.7 698.1L377.8 697.3L377.9 696.5L378 695.6L378.1 694.7L378.2 693.6L378.2 692.5L378.3 691.3L378.4 690.1L378.5 688.9L378.6 687.8L378.7 686.7L378.8 685.7L378.9 684.8L379 684L379 683.1L379.1 682.2L379.2 681.3L379.3 680.3L379.4 679.3L379.4 678.3L379.5 677.2L379.6 676.1L379.7 674.9L379.8 673.7L379.8 672.6L379.9 671.4L380 670.3L380.1 669.3L380.2 668.4L380.3 667.6L380.3 666.8L380.4 666.1L380.5 665.3L380.6 664.5L380.7 663.5L380.8 662.5L380.9 661.4L381 660.3L381.1 659.2L381.2 658.1L381.3 657L381.4 656L381.5 655L381.6 654L381.8 653.1L381.9 652.1L382 651.2L382.1 650.1L382.3 649.1L382.4 648L382.5 646.9L382.6 645.8L382.8 644.7L382.9 643.6L383.1 642.5L383.2 641.4L383.4 640.3L383.5 639.3L383.7 638.3L383.9 637.3L384 636.4L384.2 635.5L384.4 634.6L384.6 633.7L384.8 632.8L385 631.9L385.2 631.1L385.4 630.2L385.7 629.3L385.9 628.3L386.1 627.4L386.4 626.4L386.6 625.4L386.9 624.4L387.1 623.4L387.4 622.4L387.7 621.4L387.9 620.4L388.2 619.5L388.5 618.5L388.8 617.5L389.2 616.5L389.5 615.5L389.9 614.6L390.4 613.6L391 612.8L391.6 611.9L392.3 611.2L393 610.6L393.7 609.9L394.1 609.2L394.4 608.4L394.6 607.5L394.8 606.6L395 605.6L395.2 604.6L395.5 603.5L395.8 602.3L396.1 601L396.5 599.8L396.8 599.1L397.1 598.9L397.4 599.4L397.6 600.3L397.9 601.5L398.1 602.8L398.3 604.1L398.5 605.2L398.7 606.2L398.9 607.2L399 608.2L399.2 609.3L399.3 610.4L399.4 611.6L399.5 612.7L399.7 613.8L399.8 614.9L399.9 615.9L400 616.8L400.1 617.7L400.2 618.6L400.3 619.5L400.4 620.4L400.5 621.3L400.6 622.2L400.7 623.2L400.8 624.2L400.9 625.2L401 626.3L401 627.3L401.1 628.4L401.2 629.4L401.3 630.4L401.4 631.4L401.5 632.3L401.6 633.2L401.7 634L401.8 634.9L401.8 635.7L401.9 636.6L402 637.6L402.1 638.6L402.2 639.8L402.3 641L402.4 642.2L402.5 643.4L402.6 644.5L402.8 645.5L403 646.3L403.3 647.2L403.7 648.1L404.2 648.5L405 648L405.8 647.3L406.3 646.5L406.7 645.8L407.1 645L407.4 644.2L407.8 643.3L408.1 642.4L408.4 641.4L408.7 640.3L409 639.1L409.3 637.9L409.6 636.8L409.9 635.8L410.2 635L410.5 634.3L410.8 633.6L411.1 632.9L411.4 632.1L411.6 631.1L411.9 630.1L412.1 628.9L412.3 627.7L412.4 626.5L412.6 625.4L412.7 624.4L412.9 623.5L413 622.7L413.1 621.9L413.3 621.1L413.4 620.3L413.5 619.4L413.7 618.5L413.8 617.5L414 616.5L414.2 615.4L414.3 614.3L414.5 613.3L414.7 612.3L414.8 611.4L415 610.4L415.2 609.5L415.4 608.6L415.6 607.7L415.8 606.7L416.1 605.7L416.3 604.7L416.6 603.6L416.9 602.6L417.2 601.5L417.5 600.5L417.9 599.5L418.3 598.6L418.8 597.6L419.4 596.7L420 595.7L420.6 594.8L421.3 593.9L422 593.1L422.8 592.3L423.6 591.7L424.3 591.2L425.1 590.9L426 590.6L426.8 590.3L427.6 589.9L428.3 589.3L428.9 588.4L429.4 587.2L429.9 586L430.3 584.7L430.8 583.6L431.3 582.5L431.8 581.7L432.4 580.8L433 580L433.6 579.5L434.2 579.3L434.9 579.7L435.7 580.5L436.5 581.3L437.4 581.9L438.3 582.1L439.2 582L440.3 581.9L441.3 581.7L442.2 581.6L443.3 581.5L444.3 581.2L445.3 581L446.2 581L446.9 581.3L447.5 582.3L448.1 583.4L448.8 584.1L449.7 584L450.7 583.6L451.1 583.2L451.3 582.7L451.6 582L451.8 581.2L451.9 580.3L452.1 579.3L452.2 578L452.3 576.7L452.4 575.3L452.5 573.9L452.6 572.5L452.7 571.3L452.9 570.1L453 569.1L453.2 568.1L453.4 567.2L453.5 566.3L453.7 565.3L453.8 564.4L454 563.5L454.1 562.6L454.3 561.6L454.5 560.7L454.7 559.8L454.9 558.9L455.2 558.1L455.5 557.3L455.8 556.5L456.2 555.7L456.8 554.7L457.6 553.9L458.3 553.6L459.1 553.7L460.1 554.1L460.9 554.7L461.7 555.3L462.3 556L462.9 556.9L463.5 557.8L464 558.8L464.4 559.8L464.7 560.8L465 561.7L465.2 562.5L465.5 563.3L465.7 564.1L465.9 564.9L466.1 565.7L466.3 566.6L466.5 567.5L466.7 568.5L466.8 569.5L467 570.6L467.2 571.7L467.3 572.8L467.5 573.9L467.7 575L467.9 576.2L468.1 577.3L468.2 578.3L468.4 579.3L468.6 580.2L468.7 581L468.9 581.9L469.1 582.8L469.2 583.7L469.4 584.7L469.5 585.8L469.7 586.9L469.8 588L470 589.2L470.1 590.3L470.3 591.5L470.4 592.6L470.6 593.7L470.7 594.8L470.8 595.8L471 596.7L471.1 597.5L471.3 598.3L471.4 598.9L471.5 599.5L471.6 600.2L471.8 601L471.9 601.9L472 602.9L472.2 604L472.3 605.2L472.4 606.4L472.5 607.5L472.7 608.7L472.8 609.7L472.9 610.7L473 611.6L473.1 612.4L473.3 613.3L473.4 614.3L473.5 615.3L473.6 616.4L473.7 617.6L473.9 618.8L474 620.1L474.1 621.3L474.2 622.4L474.3 623.5L474.4 624.6L474.5 625.5L474.6 626.5L474.7 627.4L474.8 628.2L475 629L475.1 629.9L475.2 630.7L475.4 631.5L475.5 632.4L475.6 633.3L475.8 634.3L475.9 635.3L476.1 636.3L476.3 637.4L476.5 638.4L476.7 639.4L476.9 640.4L477.1 641.4L477.4 642.4L477.6 643.4L477.9 644.4L478.1 645.3L478.4 646.3L478.6 647.3L478.9 648.3L479.1 649.3L479.4 650.3L479.7 651.3L480 652.2L480.3 653.2L480.6 654.2L480.9 655.1L481.2 656L481.5 657L481.8 657.9L482.1 658.8L482.4 659.8L482.7 660.7L483 661.7L483.3 662.8L483.6 663.9L483.9 665.1L484.1 666.2L484.3 667.3L484.4 668.3L484.6 669.1L484.8 669.9L485 670.7L485.3 671.3L485.8 672L486.6 672.7L487.5 673.3L488.6 673.7L489.3 674.1L489.7 674.8L490 675.8L490.2 676.8L490.4 677.8L490.5 678.8L490.7 679.8L490.9 680.6L491.1 681.5L491.3 682.5L491.5 683.5L491.7 684.5L491.9 685.6L492.2 686.6L492.7 687.6L493.2 688.5L493.8 689.4L494.5 690.1L495.2 690.8L496 691.5L496.9 692.1L497.7 692.7L498.6 693.3L499.5 694L500.1 694.8L500.5 695.8L500.9 696.8L501.2 697.9L501.4 699L501.7 700.1L502.1 701.1L502.4 702.1L502.7 703.1L503 704L503.4 704.7L503.9 705.2L504.6 705.4L505.6 705.6L506.6 705.7L507.7 705.8L508.2 706.2L508.6 707.2L508.9 708.4L509.2 709.8L509.4 711.2L509.7 712.4L509.9 713.5L510.1 714.5L510.4 715.4L510.7 716.3L511 717.2L511.3 718L511.7 718.9L512.2 719.8L512.6 720.7L512.9 721.8L513.3 723L513.6 724.3L514 725.3L514.5 725.8L515.2 725.8L516.2 725.4L517.2 724.8L518.2 724.1L518.9 723.7L519.2 724L519.5 724.9L519.8 725.9L520 726.8L520.4 727.5L520.7 728.4L521 729.3L521.1 731.2L521.3 732.4L521.5 733L521.7 733.5L522 734.3L522.2 735.1L522.5 736L522.8 736.8L523.2 737.6L523.5 738.4L523.8 739.5L524.2 740.7L524.7 741.5L525.1 742L525.6 742.7L526.2 743.7L526.8 744.7L527.3 745.4L528 745.9L528.6 746.4L529.3 746.7L530 747.3L530.9 747.9L531.7 748.6L532.6 748.9L533.5 749L534.3 749L535.1 749.4L535.9 749.8L536.7 750L537.4 749.6L538.1 749L538.9 748.2L539.6 747.3L540.3 746.4L541 745.5L541.7 744.6L542.3 743.6L543 742.9L543.6 742.7L544.1 742.6L544.7 742.9L545.2 742.5L545.6 742.4L546 743.2L546.4 744.2L546.8 745.5L547.2 747.2L547.6 748.6L547.9 749.8L548.3 750.9L548.8 751.8L549.2 752.5L549.7 752.9L550.2 753L550.8 752.6L551.5 752L552.2 751.3L553 750.5L553.7 749.6L554.5 748.9L555.2 748.7L555.9 748.7L556.5 749.3L557.2 750.2L557.9 751.2L558.6 752.3L559.2 753.2L559.9 754L560.6 754.3L561.4 754.3L562.1 754L562.9 753.5L563.8 752.8L564.6 752.3L565.4 751.9L566 751.7L566.6 751.9L567.1 752.5L567.6 753.3L568.1 754.3L568.6 754.9L569 755.6L569.4 756.6L569.8 757.6L570.2 758.8L570.6 760.3L571 761.6L571.5 762.2L571.9 762.2L572.4 762.9L572.9 763.4L573.4 762.9L573.9 762.1L574.5 761L575 760.2L575.6 759.3L576.1 758.5L576.7 758L577.3 757.4L577.9 756.1L578.5 754.9L579.1 753.9L579.7 753.2L580.3 752.7L580.9 752.5L581.5 752.6L582.1 752.9L582.7 753.4L583.3 754.2L583.9 755.5L584.6 756.8L585.2 757.7L585.9 757.9L586.6 757.9L587.4 757.9L588.2 757.9L589.1 757.8L590.1 757.7L591 757.7L591.9 757.7L592.9 757.7L593.8 757.7L594.7 757.4L595.5 757.4L596.3 757.7L597.2 758L598 758.5L598.8 759.5L599.6 760.1L600.5 760.3L601.3 760.3L602.1 760.2L602.9 760L603.8 759.4L604.6 758.3L605.4 757.8L606.3 757.5L607.1 757.5L607.9 757.5L608.8 757.6L609.6 757.8L610.5 757.9L611.3 757.8L612.2 758.3L613 758.8L613.8 759.3L614.7 759.7L615.6 760.2L616.4 760.7L617.3 761.3L618.2 761.9L619 762L619.9 762L620.8 762.3L621.7 762.9L622.5 763.1L623.4 763.1L624.2 763.1L625 762.9L625.9 762.3L626.7 761.6L627.5 761.1L628.2 760.9L629 761.1L629.8 761.6L630.5 762.3L631.3 763L632 763.7L632.7 764.3L633.5 764.6L634.2 764.5L635 764L635.7 763.6L636.4 763.1L637.2 762.5L637.9 762L638.7 761.5L639.4 760.7L640.1 759.9L640.9 759.2L641.7 759L642.5 759.1L643.3 759.3L644.1 759.4L644.9 759.7L645.7 760.3L646.6 760.9L647.4 761.2L648.2 761.4L649.1 761.6L649.9 762.3L650.8 763.1L651.7 763.4L652.6 763.5L653.5 763.7L654.3 763.8L655.2 763.9L656.1 763.9L657 763.9L657.9 763.8L658.8 763.4L659.7 762.9L660.6 763.2L661.5 763.4L662.4 763.2L663.3 762.9L664.2 762.6L665.1 762.1L666 761.8L666.9 761.7L667.7 761.5L668.5 761.1L669.2 760.5L670 760L670.7 759.5L671.4 759L672.1 758.7L672.9 758.2L673.7 757.9L674.6 758.1L675.4 758.3L676.3 758.8L677.2 759.4L678.1 760L679 760.3L679.8 760.7L680.6 760.8L681.4 761.1L682.1 761.6L682.8 762L683.5 762.6L684.2 763.3L684.9 764.1L685.6 764.9L686.3 765.7L687.1 766.2L687.8 765.8L688.6 765.1L689.3 764.9L690.1 764.9L690.9 764.5L691.7 763.5L692.4 762.5L693.2 761.5L694.1 761.7L694.9 761.8L695.7 761.4L696.6 761.2L697.4 760.9L698.4 760.6L699.3 760.4L700.2 760.4L701.2 760.4L702.1 760.5L703 761L703.9 761.4L704.8 761.3L705.6 761.2L706.4 761.5L707.1 762.2L707.9 762.8L708.6 763.3L709.3 763.9L710 764.4L710.7 764.9L711.3 765.9L712 766.9L712.7 767.7L713.4 767.5L714.1 767L714.7 766.8L715.4 766.4L716.1 765.8L716.7 765.1L717.3 764.3L718 763.6L718.6 762.9L719.3 762.2L719.9 761.2L720.6 760.3L721.3 759.7L722 759.4L722.7 759.3L723.5 759.5L724.2 759.8L725.1 759.4L725.9 759.3L726.8 759.6L727.6 759.9L728.5 760.2L729.4 760.9L730.3 761.6L731.2 762.2L732.1 762.7L733 763.2L733.8 763.4L734.6 763.4L735.4 763.2L736.2 762.8L737 762.3L737.7 761.8L738.5 761.1L739.3 760.3L740 759.4L740.8 758.5L741.5 758.1L742.2 757.9L743 757L743.7 756.4L744.4 756L745.2 755.8L745.9 755.6L746.6 755.7L747.3 756.1L747.9 756.7L748.6 757.5L749.3 758.4L749.9 759.3L750.7 760L751.4 760.2L752.2 759.7L753 759.4L753.8 759.3L754.6 759.2L755.5 758.9L756.4 758.6L757.3 758.3L758.2 758.2L759.1 758.1L760 757.9L760.9 757.5L761.8 757.2L762.7 756.9L763.6 756.7L764.5 756.7L765.4 756.7L766.3 756.7L767.1 756.3L768 756L768.9 756.7L769.8 757.5L770.6 757.8L771.5 758.2L772.4 758.5L773.3 758.7L774.1 758.9L775 759.2L775.8 759.5L776.6 759.8L777.4 760L778.2 760L778.9 759.6L779.7 759L780.4 758.2L781.1 757.5L781.8 756.8L782.5 756.2L783.3 755.7L784 755.5L784.8 755.7L785.6 756.1L786.4 756.2L787.2 756L788 756.3L788.9 756.8L789.7 757.4L790.6 758.3L791.4 758.9L792.3 759.3L793.1 759.6L794.1 759.9L795 760.1L796 760.4L797 760.4L797.9 760.5L798.8 760.3L799.6 759.9L800.3 759.6L800.9 759.5L801.4 759L801.9 758.1L802.4 757L802.8 755.8L803.3 755L803.7 754.2L804.1 753.2L804.6 752.5L805.1 752.3L805.6 752.7L806.1 753.4L806.6 754.2L807.1 754.9L807.7 755.6L808.2 757L808.7 758.5L809.3 759.3L809.9 759.6L810.5 760.2L811.2 760.8L811.8 761L812.6 760.8L813.4 760.5L814.3 760.1L815.2 760.4L816.1 760.1L817 759.8L818 759.5L818.9 759.4L819.9 759.3L820.8 759L821.6 758.5L822.5 758.1L823.4 757.8L824.3 757.4L825.2 757.1L826.1 756.9L827 756.7L827.9 756.7L828.7 756.8L829.5 756.6L830.3 756.4L831 756.4L831.8 756.7L832.5 757.1L833.1 757.8L833.8 758.6L834.5 759.6L835.1 760.6L835.7 761.5L836.4 762.2L837 762.8L837.7 763.3L838.3 763.8L839 764.1L839.7 764.5L840.4 765.1L841.1 764.9L841.8 764.5L842.5 763.9L843.2 763.2L843.9 762.4L844.6 761.6L845.3 761L846 760.4L846.8 759.5L847.5 758.7L848.3 758.1L849.1 757.6L849.8 757.3L850.7 757.1L851.5 757.1L852.4 757.3L853.4 757.7L854.3 757.8L855.2 757.7L856.2 757.6L857.1 757.6L858.1 757.7L858.9 757.8L859.8 757.8L860.6 757.8L861.4 757.9L862.1 757.8L862.9 756.6L863.6 755.3L864.3 754.4L864.9 754L865.4 754L865.9 754.8L866.4 755.9L866.8 757.1L867.2 758.4L867.6 759.7L868 760.7L868.5 761.3L868.9 761.5L869.4 761.3L869.9 760.7L870.4 759.8L870.9 758.8L871.4 757.6L871.9 756.4L872.5 755.5L873 754.6L873.6 754L874.3 754.1L874.9 754.6L875.6 755.3L876.3 756L877 756.7L877.8 757.5L878.5 758.7L879.3 760L880 760L880.7 760.1L881.5 760.9L882.2 761.5L882.9 761.4L883.6 761L884.3 760.4L885 759.4L885.7 758.2L886.5 757.1L887.2 756.5L887.9 755.8L888.6 755.1L889.3 754.3L890 753.6L890.7 753.2L891.4 753.1L892 753.4L892.7 753.8L893.4 754.2L894 754.8L894.7 755.5L895.3 756.6L896 758L896.6 758.9L897.3 759.2L898 759.3L898.8 759.8L899.6 760.1L900.4 760.3L901.3 760.3L902.2 760.3L903.1 760.2L904 760.3L905 760.5L905.9 760.7L906.8 761L907.7 761L908.6 761.1L909.5 761.2L910.4 761.3L911.3 761.4L912.3 761.4L913.2 761.8L914.1 762.3L915 762.8L915.8 763.1L916.7 763.4L917.5 763.7L918.3 763.8L919 763.9L919.7 763.7L920.4 763.1L921.1 762.5L921.7 761.9L922.4 761.2L923 760.3L923.6 759.1L924.2 758L924.8 757L925.4 756L926 755.6L926.6 755.1L927.3 754.5L927.9 754.1L928.6 754.2L929.2 754.7L929.9 755.4L930.6 756.3L931.2 757.2L931.9 758.2L932.6 759.1L933.3 759.9L934 760.3L934.7 760.4L935.3 760.5L936 760.6L936.7 760.5L937.4 760.2L938.2 759.6L938.9 758.8L939.6 758L940.3 757.2" fill="none" stroke="#242a7d" stroke-width="2.3" stroke-linejoin="round" stroke-linecap="round"/>
<path d="M91.5 765L91.7 766.1L92 767.2L92.2 768.2L92.4 769.3L92.6 770.4L92.7 771.7L92.9 773.1L93 774.6L93.1 775.9L93.3 777L93.5 777.7L93.8 778L94.4 777.8L95.5 777.4L96.8 776.9L98 776.5L99 776.2L100.1 775.9L101.2 775.6L102.3 775.5L103.3 775.6L104.2 776L105.1 776.7L106 777.4L106.9 778.2L107.9 778.9L108.8 779.5L109.8 780.3L110.7 781L111.7 781.7L112.6 782.2L113.5 782.5L114.4 782.4L115.2 781.9L115.9 781.2L116.7 780.2L117.4 779.2L118.2 778.1L118.9 777.2L119.6 776.3L120.2 775.4L120.9 774.5L121.5 773.5L122.1 772.6L122.8 771.7L123.5 770.8L124.2 770L125 769.3L125.8 768.7L126.7 768.1L127.7 767.5L128.7 767L129.7 766.6L130.8 766.3L131.9 766L133 765.7L134.1 765.6L135.1 765.5L136.2 765.7L137.2 766L138.2 766.5L139.2 767.1L140.2 767.6L141.2 768.1L142.2 768.6L143.3 769.1L144.3 769.6L145.4 770L146.4 770.4L147.4 770.5L148.4 770.3L149.4 769.6L150.4 768.8L151.3 768.2L152.2 768L152.9 768.4L153.7 769.3L154.3 770.4L155 771.7L155.7 772.8L156.4 773.7L157.2 774.3L158.1 774.3L159 774.2L160.1 774L161.2 773.7L162.3 773.5L163.5 773.3L164.7 773.1L165.8 773L166.9 773L168 773.2L169 773.3L170.1 773.6L171.2 773.8L172.3 774L173.4 774.2L174.5 774.3L175.6 774.3L176.7 774.3L177.8 774.2L178.9 774.1L180 774L181.1 773.9L182.2 773.8L183.3 773.7L184.4 773.6L185.5 773.5L186.6 773.3L187.7 773.2L188.8 773.1L189.9 772.9L191 772.8L192.1 772.7L193.2 772.6L194.2 772.5L195.3 772.5L196.4 772.6L197.5 772.8L198.5 773.1L199.6 773.4L200.6 773.8L201.7 774.2L202.8 774.6L203.8 774.9L204.9 775.3L205.9 775.7L207 776.2L208.1 776.7L209.2 777.2L210.2 777.5L211.2 777.8L212.2 778L213.1 777.9L213.9 777.4L214.7 776.6L215.5 775.6L216.3 774.7L217.1 773.9L218 773L218.8 772.1L219.7 771.3L220.5 770.7L221.4 770.5L222.3 770.7L223.2 771.1L224.2 771.7L225.1 772.5L226.1 773.2L227.1 773.9L228 774.5L229 775.1L230 775.7L231 776.4L231.9 777L232.9 777.5L233.9 777.9L234.9 778L235.9 777.8L237 777.4L238 776.8L239 776.2L240.1 775.8L241.1 775.5L242 775.6L243 776L243.9 776.7L244.8 777.4L245.8 778.2L246.7 778.8L247.7 779.4L248.6 780L249.6 780.6L250.6 781.2L251.6 781.6L252.6 781.8L253.7 781.9L254.8 781.9L255.9 781.9L257 782L258.1 782.2L259.2 782.5L260.3 782.9L261.3 783L262.2 782.8L263.1 782.1L263.9 781.2L264.7 780.3L265.5 779.5L266.3 778.7L267.1 778L267.9 777.2L268.8 776.5L269.6 775.8L270.5 775.2L271.4 774.6L272.4 774.1L273.4 773.6L274.4 773.2L275.5 772.7L276.5 772.3L277.5 771.8L278.5 771.3L279.5 770.8L280.5 770.4L281.6 770.1L282.6 770L283.7 770.1L284.8 770.3L285.9 770.7L286.9 771L288 771.3L289 771.8L290 772.3L291 772.8L291.9 773.4L292.7 774.1L293.4 774.9L294.2 775.7L295 776.5L295.8 777.3L296.7 778.1L297.5 779L298.4 779.8L299.3 780.3L300.2 780.5L301 780.1L301.8 779.4L302.6 778.4L303.5 777.5L304.3 776.7L305.1 776L306 775.3L306.8 774.5L307.6 773.8L308.5 773.2L309.4 772.6L310.4 772.1L311.4 771.6L312.4 771.2L313.4 770.7L314.4 770.3L315.4 769.8L316.5 769.4L317.5 769L318.6 768.6L319.6 768.2L320.6 767.8L321.6 767.3L322.5 766.8L323.4 766.2L324.2 765.5L325 764.7L325.8 763.9L326.5 763L327.3 762.2L328.1 761.4L328.8 760.6L329.6 759.8L330.3 759L331.1 758.2L331.9 757.4L332.6 756.7L333.4 755.9L334.2 755.1L335 754.4L335.8 753.6L336.7 753L337.7 752.3L338.6 751.7L339.5 751L340.2 750.3L340.8 749.4L341.3 748.5L341.8 747.5L342.3 746.4L342.8 745.4L343.3 744.4L343.8 743.4L344.2 742.4L344.7 741.4L345.1 740.4L345.6 739.4L346.1 738.4L346.6 737.5L347.1 736.5L347.6 735.5L348.1 734.5L348.6 733.6L349.2 732.7L350 731.8L350.7 731L351.5 730.2L352.2 729.3L352.7 728.4L353.1 727.4L353.5 726.4L353.9 725.4L354.2 724.4L354.5 723.3L354.8 722.2L355.1 721.1L355.4 720L355.7 718.9L356 717.9L356.4 716.8L356.7 715.8L357.1 714.7L357.4 713.7L357.7 712.7L358.1 711.6L358.4 710.6L358.8 709.5L359.1 708.5L359.5 707.4L359.9 706.4L360.2 705.4L360.6 704.3L361 703.3L361.5 702.3L361.9 701.3L362.3 700.3L362.7 699.3L363.2 698.2L363.6 697.2L364 696.2L364.4 695.2L364.8 694.2L365.2 693.1L365.7 692.1L366.1 691.1L366.5 690.1L366.9 689L367.3 688L367.7 687L368.1 685.9L368.4 684.9L368.7 683.9L369 682.8L369.3 681.7L369.5 680.7L369.8 679.6L370 678.5L370.2 677.4L370.4 676.4L370.6 675.3L370.8 674.2L371.1 673.1L371.3 672L371.5 670.9L371.7 669.9L371.9 668.8L372.1 667.7L372.3 666.6L372.5 665.5L372.7 664.4L372.9 663.4L373.1 662.3L373.3 661.2L373.5 660.1L373.7 659L373.9 657.9L374.1 656.9L374.2 655.8L374.4 654.7L374.6 653.6L374.8 652.5L374.9 651.4L375.1 650.3L375.3 649.2L375.4 648.2L375.5 647.1L375.7 646L375.8 644.9L376 643.8L376.1 642.7L376.2 641.6L376.4 640.5L376.5 639.4L376.6 638.3L376.8 637.2L376.9 636.1L377 635L377.1 633.9L377.3 632.9L377.4 631.8L377.5 630.7L377.7 629.6L377.8 628.5L377.9 627.4L378.1 626.3L378.2 625.2L378.3 624.1L378.5 623L378.6 621.9L378.7 620.8L378.9 619.7L379 618.6L379.1 617.6L379.3 616.5L379.4 615.4L379.6 614.3L379.7 613.2L379.9 612.1L380 611L380.1 609.9L380.3 608.8L380.4 607.7L380.6 606.6L380.7 605.5L380.9 604.5L381.1 603.4L381.2 602.3L381.4 601.2L381.6 600.1L381.8 599L382 598L382.2 596.9L382.5 595.8L382.8 594.7L383 593.7L383.3 592.6L383.6 591.5L384 590.5L384.3 589.4L384.6 588.4L385 587.3L385.4 586.3L385.8 585.3L386.4 584.4L387 583.5L387.8 582.6L388.4 581.7L388.9 580.8L389.3 579.8L389.7 578.8L390 577.7L390.3 576.7L390.6 575.6L390.9 574.5L391.2 573.4L391.4 572.3L391.7 571.3L392 570.2L392.2 569.1L392.5 568L392.7 567L393 565.9L393.2 564.8L393.4 563.7L393.6 562.7L393.9 561.6L394.1 560.5L394.3 559.4L394.5 558.3L394.7 557.3L395 556.2L395.2 555.1L395.4 554L395.6 552.9L395.8 551.9L396.1 550.8L396.3 549.7L396.5 548.6L396.7 547.6L396.9 546.5L397.1 545.4L397.4 544.3L397.6 543.2L397.8 542.2L398 541.1L398.2 540L398.4 538.9L398.6 537.8L398.8 536.7L399 535.7L399.3 534.6L399.5 533.5L399.7 532.4L399.9 531.3L400.1 530.3L400.3 529.2L400.5 528.1L400.7 527L400.9 525.9L401.1 524.8L401.3 523.8L401.4 522.7L401.6 521.6L401.8 520.5L402 519.4L402.1 518.3L402.3 517.2L402.4 516.1L402.6 515.1L402.8 514L402.9 512.9L403.1 511.8L403.2 510.7L403.4 509.6L403.5 508.5L403.7 507.4L403.8 506.3L404 505.2L404.1 504.2L404.2 503.1L404.4 502L404.5 500.9L404.6 499.8L404.7 498.7L404.9 497.6L405 496.5L405.1 495.4L405.2 494.3L405.3 493.2L405.5 492.1L405.6 491L405.7 489.9L405.9 488.8L406 487.7L406.2 486.7L406.4 485.6L406.6 484.5L406.8 483.4L407 482.3L407.2 481.3L407.5 480.2L407.7 479.1L408 478L408.2 477L408.5 475.9L408.8 474.8L409.1 473.8L409.3 472.7L409.6 471.6L409.9 470.5L410.2 469.4L410.5 468.3L410.9 467.3L411.3 466.4L411.8 465.5L412.6 464.7L413.4 463.9L414.3 463.2L415.1 462.4L415.9 461.7L416.7 460.9L417.5 460.1L418.2 459.3L418.9 458.5L419.6 457.6L420.2 456.6L420.8 455.7L421.3 454.7L421.8 453.7L422.1 452.7L422.4 451.7L422.7 450.6L422.9 449.6L423.1 448.5L423.3 447.4L423.5 446.3L423.7 445.2L423.9 444.1L424 443L424.2 441.9L424.4 440.8L424.6 439.7L424.7 438.6L424.9 437.5L425 436.4L425.2 435.3L425.3 434.2L425.5 433.1L425.6 432.1L425.8 431L425.9 429.9L426.1 428.8L426.2 427.7L426.4 426.6L426.6 425.5L426.7 424.4L426.9 423.4L427.1 422.3L427.4 421.2L427.6 420.1L427.9 419.1L428.2 418L428.5 416.9L428.8 415.9L429.1 414.8L429.4 413.8L429.7 412.7L430 411.6L430.3 410.6L430.6 409.5L431 408.5L431.3 407.4L431.7 406.4L432 405.4L432.4 404.3L432.8 403.3L433.1 402.2L433.5 401.2L433.8 400.1L434.2 399.1L434.5 398L434.8 397L435.1 395.9L435.4 394.9L435.7 393.8L436 392.7L436.2 391.7L436.5 390.6L436.8 389.6L437.1 388.5L437.4 387.4L437.6 386.4L437.9 385.3L438.2 384.2L438.5 383.2L438.8 382.1L439.1 381L439.4 380L439.6 378.9L439.9 377.9L440.2 376.8L440.5 375.7L440.8 374.7L441.1 373.6L441.4 372.5L441.7 371.5L442 370.4L442.3 369.4L442.6 368.3L442.9 367.3L443.3 366.2L443.6 365.2L443.9 364.1L444.3 363.1L444.7 362L445.1 361L445.5 360L446 359L446.4 358L446.9 357L447.4 356L447.9 355.1L448.5 354.1L449 353.2L449.6 352.2L450.1 351.2L450.7 350.3L451.3 349.3L451.9 348.4L452.5 347.4L452.9 346.5L453.3 345.5L453.6 344.4L453.9 343.4L454.1 342.3L454.3 341.3L454.5 340.2L454.7 339.1L454.9 338L455 336.9L455.2 335.8L455.4 334.7L455.5 333.6L455.7 332.5L455.9 331.4L456.1 330.3L456.3 329.2L456.5 328.1L456.7 327L456.8 326L457 324.9L457.2 323.8L457.4 322.7L457.6 321.6L457.8 320.5L458 319.5L458.2 318.4L458.4 317.3L458.7 316.2L458.9 315.1L459.1 314L459.3 312.9L459.6 311.9L459.8 310.8L460.1 309.7L460.4 308.7L460.8 307.6L461.3 306.3L461.8 305L462.3 304.1L462.8 303.8L463.3 304.2L463.8 305.1L464.2 306.4L464.6 307.7L465 308.9L465.3 310L465.5 311L465.8 312.1L466 313.2L466.2 314.3L466.5 315.3L466.7 316.4L466.9 317.5L467.1 318.6L467.4 319.7L467.6 320.7L467.8 321.8L468.1 322.9L468.3 324L468.5 325L468.8 326.1L469 327.2L469.3 328.3L469.5 329.3L469.7 330.4L470 331.5L470.2 332.6L470.4 333.6L470.7 334.7L470.9 335.8L471.1 336.9L471.3 337.9L471.5 339L471.8 340.1L472 341.2L472.2 342.3L472.4 343.3L472.6 344.4L472.9 345.5L473.1 346.6L473.3 347.7L473.5 348.7L473.8 349.8L474 350.9L474.3 352L474.5 353L474.8 354.1L475 355.2L475.3 356.2L475.6 357.3L475.8 358.4L476.1 359.4L476.4 360.5L476.7 361.6L477 362.6L477.3 363.7L477.6 364.7L477.9 365.8L478.1 366.9L478.4 367.9L478.7 369L479 370.1L479.3 371.1L479.6 372.2L479.8 373.3L480.1 374.4L480.3 375.5L480.6 376.5L480.8 377.6L481.1 378.7L481.4 379.8L481.7 380.8L482 381.9L482.3 382.9L482.7 383.9L483.1 384.9L483.5 385.9L484 386.9L484.6 387.9L485.2 388.8L485.9 389.6L486.7 390.4L487.5 391.1L488.4 391.9L489.2 392.6L490 393.3L490.6 394.2L491.1 395.2L491.5 396.2L491.8 397.3L492.1 398.4L492.3 399.4L492.6 400.5L492.8 401.6L492.9 402.6L493.1 403.7L493.3 404.8L493.4 405.9L493.6 407L493.7 408.1L493.9 409.2L494 410.3L494.2 411.4L494.3 412.5L494.4 413.6L494.6 414.7L494.8 415.8L494.9 416.9L495.1 418L495.2 419.1L495.3 420.2L495.5 421.2L495.6 422.3L495.8 423.4L495.9 424.5L496 425.6L496.2 426.7L496.3 427.8L496.5 428.9L496.6 430L496.7 431.1L496.9 432.2L497 433.3L497.2 434.3L497.3 435.4L497.5 436.5L497.6 437.6L497.7 438.7L497.9 439.8L498 440.9L498.2 442L498.3 443.1L498.4 444.2L498.6 445.3L498.7 446.4L498.9 447.5L499 448.5L499.2 449.6L499.3 450.7L499.5 451.8L499.6 452.9L499.8 454.1L499.9 455.3L500 456.5L500.1 457.7L500.2 459L500.3 460.2L500.5 461.4L500.6 462.6L500.8 463.7L501 464.8L501.2 465.7L501.4 466.6L501.7 467.4L502 468.1L502.8 468.7L504 469.3L505.1 469.5L506 469L506.9 468L507.7 467.1L508.4 466.8L509.1 467.4L509.7 468.6L510.2 469.8L510.6 470.8L511 471.8L511.3 472.9L511.6 473.9L511.9 475L512.2 476.1L512.4 477.1L512.7 478.2L513 479.3L513.2 480.3L513.5 481.4L513.7 482.5L514 483.6L514.2 484.6L514.4 485.7L514.7 486.8L514.9 487.9L515.1 489L515.3 490L515.5 491.1L515.7 492.2L515.9 493.3L516.1 494.4L516.3 495.4L516.5 496.5L516.7 497.6L516.9 498.7L517.1 499.8L517.3 500.9L517.5 501.9L517.7 503L517.9 504.1L518.1 505.2L518.3 506.3L518.4 507.4L518.6 508.5L518.8 509.5L519 510.6L519.2 511.7L519.4 512.8L519.6 513.9L519.8 515L520 516L520.1 517.1L520.3 518.2L520.5 519.3L520.7 520.4L520.9 521.5L521.1 522.6L521.3 523.6L521.5 524.7L521.7 525.8L521.9 526.9L522.1 528L522.3 529L522.5 530.1L522.7 531.2L522.9 532.3L523.2 533.4L523.4 534.4L523.6 535.5L523.8 536.6L524.1 537.7L524.3 538.8L524.5 539.8L524.7 540.9L525 542L525.2 543.1L525.4 544.1L525.6 545.2L525.9 546.3L526.1 547.4L526.3 548.5L526.5 549.5L526.7 550.6L526.9 551.7L527.1 552.8L527.4 553.9L527.6 554.9L527.8 556L528.1 557.1L528.3 558.2L528.6 559.2L528.9 560.4L529.1 561.5L529.4 562.6L529.8 563.7L530.2 564.7L530.6 565.6L531.1 566.4L531.8 567.2L532.7 567.9L533.6 568.6L534.6 569.2L535.5 569.8L536.5 570.4L537.6 570.9L538.5 571.5L539.3 572.1L540 572.9L540.5 573.7L541 574.6L541.5 575.6L541.9 576.7L542.3 577.8L542.7 578.9L543.1 580L543.4 581.1L543.8 582.1L544.3 583.1L544.7 584.2L545.1 585.2L545.4 586.2L545.8 587.3L546.2 588.3L546.6 589.3L547 590.4L547.4 591.4L547.8 592.4L548.3 593.4L548.7 594.4L549.2 595.4L549.7 596.3L550.2 597.3L550.7 598.3L551.3 599.3L551.8 600.2L552.4 601.2L553 602.1L553.5 603.1L554.1 604L554.7 604.9L555.2 605.9L555.8 606.8L556.4 607.8L556.9 608.7L557.5 609.7L558.1 610.6L558.7 611.6L559.3 612.5L559.9 613.4L560.6 614.3L561.3 615.1L562 616L562.7 616.8L563.5 617.5L564.3 618.3L565.1 619L566 619.7L566.9 620.4L567.8 621L568.7 621.5L569.7 622.1L570.7 622.6L571.6 623.2L572.4 623.9L573.2 624.7L573.9 625.5L574.5 626.4L575.2 627.3L575.8 628.3L576.5 629.2L577.1 630.4L577.6 631.6L578.2 632.6L578.9 633.3L579.6 633.5L580.5 633L581.5 632.3L582.6 631.8L583.7 631.9L584.9 632.1L585.8 632.3L586.5 632.8L587.2 633.6L587.7 634.6L588.2 635.7L588.7 636.9L589.2 638L589.8 639L590.3 640.1L590.9 641.4L591.5 642.6L592 643.7L592.6 644.4L593.2 644.8L593.8 644.6L594.4 644.1L594.9 643.2L595.5 642.1L596.1 640.9L596.7 639.6L597.3 638.5L597.8 637.5L598.3 636.5L598.8 635.5L599.3 634.5L599.8 633.5L600.2 632.5L600.7 631.5L601.1 630.5L601.6 629.5L602 628.5L602.4 627.5L602.8 626.5L603.2 625.4L603.5 624.4L603.9 623.4L604.3 622.3L604.6 621.3L605 620.2L605.3 619.2L605.7 618.1L606.1 617.1L606.5 616.1L606.9 615L607.3 613.7L607.7 612.4L608.1 611.1L608.5 609.8L608.9 608.6L609.3 607.5L609.8 606.7L610.3 606.2L610.8 606L611.4 606.4L612.1 607.2L612.8 608.3L613.5 609.4L614.3 610.3L615.1 611.3L615.9 612.3L616.7 613.1L617.4 613.5L618.1 613.3L618.6 612.6L619.2 611.6L619.7 610.4L620.2 609.1L620.8 607.9L621.3 606.9L621.8 606L622.3 605L622.8 604L623.3 603L623.9 602.1L624.4 601.1L625 600.2L625.7 599.3L626.4 598.5L627.1 597.6L627.8 596.8L628.5 595.9L629.2 595L629.9 594.2L630.6 593.3L631.3 592.4L631.8 591.5L632.2 590.5L632.5 589.5L632.9 588.5L633.2 587.4L633.4 586.4L633.7 585.3L633.9 584.2L634.1 583.1L634.3 582L634.5 580.9L634.8 579.8L635 578.7L635.2 577.6L635.4 576.5L635.6 575.4L635.8 574.3L636 573.2L636.2 572.1L636.3 571L636.5 569.9L636.7 568.8L636.8 567.7L637 566.7L637.2 565.6L637.4 564.5L637.7 563.4L637.9 562.4L638.2 561.3L638.5 560.3L638.9 559.3L639.4 558.2L639.9 557.2L640.4 556.3L641 555.4L641.7 554.6L642.6 553.9L643.5 553.2L644.3 552.5L645 551.7L645.5 550.8L646 549.8L646.5 548.8L647 547.8L647.4 546.8L647.8 545.7L648.3 544.7L648.7 543.6L649.2 542.6L649.6 541.6L650.1 540.6L650.6 539.6L651 538.6L651.5 537.6L652 536.6L652.4 535.6L652.8 534.6L653.3 533.6L653.7 532.6L654.1 531.6L654.5 530.5L654.9 529.5L655.2 528.5L655.6 527.4L656 526.4L656.4 525.3L656.7 524.3L657.1 523.3L657.4 522.2L657.8 521.2L658.2 520.2L658.5 519.1L658.9 518.1L659.2 517L659.6 516L659.9 514.9L660.3 513.9L660.6 512.8L661 511.8L661.3 510.7L661.6 509.7L662 508.6L662.3 507.6L662.6 506.5L662.9 505.5L663.2 504.4L663.5 503.4L663.8 502.3L664.1 501.3L664.4 500.2L664.7 499.1L665 498.1L665.3 497L665.6 496L665.9 494.9L666.3 493.8L666.6 492.8L666.9 491.7L667.2 490.7L667.4 489.6L667.7 488.5L668 487.5L668.2 486.4L668.4 485.3L668.7 484.2L668.9 483.2L669.1 482.1L669.3 481L669.4 479.9L669.6 478.8L669.8 477.7L670 476.6L670.1 475.6L670.3 474.5L670.5 473.4L670.6 472.3L670.8 471.2L671 470.1L671.2 469L671.3 467.9L671.5 466.9L671.7 465.8L671.9 464.7L672.1 463.6L672.2 462.5L672.4 461.4L672.6 460.3L672.8 459.2L673 458.1L673.1 457.1L673.3 456L673.5 454.9L673.8 453.8L674 452.7L674.2 451.7L674.5 450.6L674.7 449.5L675 448.5L675.4 447.4L675.7 446.4L676.1 445.4L676.6 444.4L677.1 443.4L677.8 442.4L678.5 441.6L679.3 440.9L680.3 440.3L681.3 440.1L682.4 439.9L683.5 439.8L684.6 439.9L685.7 440.2L686.7 440.6L687.7 441.2L688.4 442L689.1 442.8L689.7 443.7L690.2 444.8L690.7 445.8L691.1 446.8L691.6 447.8L692 448.8L692.4 449.9L692.7 450.9L693 452L693.3 453L693.5 454.1L693.8 455.2L694 456.2L694.2 457.3L694.4 458.4L694.6 459.5L694.7 460.6L694.9 461.7L695 462.8L695.2 463.9L695.4 465L695.5 466L695.7 467.1L695.8 468.2L696 469.3L696.2 470.4L696.3 471.5L696.5 472.6L696.7 473.7L696.8 474.8L697 475.8L697.1 476.9L697.3 478L697.4 479.1L697.6 480.2L697.7 481.3L697.9 482.4L698 483.5L698.1 484.6L698.3 485.7L698.4 486.8L698.5 487.9L698.6 489L698.7 490L698.8 491.1L698.9 492.2L699 493.3L699.1 494.4L699.2 495.5L699.3 496.6L699.4 497.7L699.5 498.8L699.6 499.9L699.7 501L699.8 502.1L699.9 503.2L700 504.3L700.1 505.4L700.3 506.5L700.4 507.6L700.5 508.7L700.6 509.8L700.7 510.9L700.8 512L700.9 513.1L701.1 514.2L701.2 515.3L701.3 516.4L701.5 517.5L701.6 518.5L701.8 519.6L702 520.7L702.1 521.8L702.4 522.9L702.6 523.9L702.9 525L703.2 526.1L703.5 527.1L703.8 528.2L704.1 529.2L704.4 530.3L704.8 531.3L705.1 532.4L705.5 533.4L705.8 534.5L706.3 535.5L706.7 536.5L707.2 537.5L707.6 538.5L708.1 539.5L708.5 540.6L708.9 541.6L709.3 542.6L709.5 543.7L709.8 544.7L710 545.8L710.2 546.9L710.4 547.9L710.6 549L710.8 550.1L710.9 551.2L711.1 552.3L711.2 553.4L711.4 554.5L711.5 555.6L711.7 556.7L711.8 557.8L711.9 558.9L712.1 560L712.2 561.1L712.4 562.2L712.5 563.3L712.7 564.3L712.9 565.4L713 566.5L713.2 567.6L713.4 568.7L713.5 569.8L713.7 570.9L713.8 572L714 573.1L714.2 574.1L714.3 575.2L714.5 576.3L714.6 577.4L714.8 578.5L714.9 579.6L715.1 580.7L715.2 581.8L715.4 582.9L715.5 584L715.7 585L715.8 586.1L716 587.2L716.1 588.3L716.2 589.4L716.4 590.5L716.5 591.6L716.6 592.7L716.7 593.8L716.9 594.9L717 596L717.1 597.1L717.2 598.2L717.3 599.3L717.5 600.4L717.6 601.4L717.7 602.5L717.8 603.6L717.9 604.7L718 605.8L718.2 606.9L718.3 608L718.4 609.1L718.5 610.2L718.6 611.3L718.7 612.4L718.8 613.5L719 614.6L719.1 615.7L719.2 616.8L719.3 617.9L719.4 619L719.5 620.1L719.6 621.2L719.7 622.3L719.8 623.4L719.9 624.4L720 625.5L720.2 626.6L720.3 627.7L720.4 628.8L720.5 629.9L720.6 631L720.7 632.1L720.8 633.2L720.9 634.3L721 635.4L721.1 636.5L721.2 637.6L721.3 638.7L721.4 639.8L721.5 640.9L721.6 642L721.7 643.1L721.8 644.2L721.9 645.3L722 646.4L722.1 647.5L722.3 648.6L722.4 649.7L722.5 650.8L722.6 651.8L722.7 652.9L722.8 654L722.9 655.1L723 656.2L723.1 657.3L723.2 658.4L723.3 659.5L723.4 660.6L723.5 661.7L723.7 662.8L723.8 663.9L723.9 665L724 666.1L724.1 667.2L724.2 668.3L724.3 669.4L724.4 670.5L724.6 671.6L724.7 672.7L724.8 673.8L724.9 674.9L725 675.9L725.1 677L725.2 678.1L725.3 679.2L725.4 680.3L725.6 681.4L725.7 682.5L725.8 683.6L725.9 684.7L726 685.8L726.2 686.9L726.3 688L726.4 689.1L726.6 690.2L726.7 691.3L726.8 692.4L727 693.4L727.2 694.5L727.3 695.6L727.5 696.7L727.7 697.8L727.9 698.9L728.1 700L728.3 701.1L728.5 702.1L728.7 703.2L728.9 704.3L729.1 705.4L729.4 706.4L729.6 707.5L729.9 708.6L730.1 709.7L730.4 710.7L730.7 711.8L731 712.9L731.3 713.9L731.6 715L732 716L732.4 717L732.8 718L733.2 719.1L733.7 720.1L734.2 721.1L734.7 722L735.2 723L735.8 723.9L736.3 724.9L737 725.8L737.6 726.7L738.3 727.6L739 728.4L739.7 729.3L740.3 730.2L741 731L741.7 731.9L742.4 732.7L743.1 733.6L743.8 734.4L744.5 735.3L745.2 736.2L745.9 737.2L746.5 738.4L747.2 739.6L747.8 740.7L748.4 741.8L749.1 742.6L749.7 743.2L750.3 743.5L751 743.3L751.6 742.7L752.2 741.7L752.9 740.6L753.5 739.4L754.2 738.4L754.9 737.5L755.7 736.5L756.5 735.6L757.3 734.9L758.2 734.7L759 734.9L759.9 735.3L760.8 735.9L761.7 736.7L762.7 737.5L763.6 738.4L764.4 739.3L765.3 740.1L766.1 740.8L766.8 741.7L767.5 742.5L768.2 743.5L768.9 744.4L769.6 745.3L770.3 746.2L771 747.1L771.7 747.9L772.5 748.6L773.3 749.3L774.2 749.8L775.1 750.3L776.1 750.8L777.2 751.2L778.3 751.6L779.4 751.9L780.5 752.1L781.5 752.2L782.5 752L783.5 751.5L784.5 750.8L785.5 750L786.5 749.4L787.4 748.9L788.4 748.8L789.3 749.1L790.2 749.8L791 750.7L791.9 751.6L792.8 752.6L793.6 753.4L794.5 754.1L795.4 754.4L796.3 754.3L797.3 753.8L798.2 753.1L799.2 752.3L800.2 751.4L801.1 750.6L802 750L802.9 749.7L803.7 749.8L804.4 750.3L805.1 751L805.8 752L806.4 753.2L807 754.4L807.7 755.7L808.3 756.9L809 758.1L809.7 759L810.4 759.7L811.2 760.1L812.1 760.1L813.1 760.1L814.1 760L815.3 759.9L816.5 759.8L817.7 759.6L818.8 759.5L819.9 759.3L820.9 759.1L821.9 758.8L822.8 758.4L823.7 757.8L824.5 757L825.3 756.2L826.1 755.4L827 754.5L827.8 753.7L828.6 752.9L829.5 752.2L830.4 751.6L831.4 751L832.4 750.4L833.4 749.8L834.4 749.3L835.5 748.8L836.5 748.3L837.5 748.1L838.5 747.9L839.5 748L840.4 748.3L841.4 748.9L842.3 749.6L843.2 750.4L844.1 751.2L844.9 752.1L845.6 752.9L846.3 753.8L846.9 755L847.5 756.2L848.1 757.3L848.7 758.2L849.4 758.9L850.1 759.1L851.1 759L852.1 758.9L853.3 758.6L854.5 758.4L855.6 758.3L856.7 758.2L857.6 758.4L858.6 758.9L859.5 759.7L860.3 760.6L861.2 761.6L862 762.6L862.9 763.5L863.7 764.2L864.5 764.7L865.4 764.8L866.2 764.5L867 763.9L867.9 763L868.7 762L869.5 760.9L870.3 759.9L871.1 758.9L871.9 758.1L872.7 757.5L873.6 757.3L874.4 757.5L875.3 758L876.1 758.8L877 759.7L877.8 760.7L878.7 761.7L879.6 762.5L880.5 763.3L881.4 763.7L882.4 763.8L883.3 763.7L884.4 763.4L885.4 763.1L886.5 762.7L887.6 762.3L888.7 761.8L889.7 761.3L890.7 760.9L891.7 760.5L892.7 760L893.7 759.4L894.6 758.9L895.6 758.3L896.5 757.8L897.5 757.2L898.4 756.6L899.4 756.1L900.4 755.6L901.4 755.2L902.4 754.7L903.5 754.2L904.6 753.6L905.7 753.2L906.7 752.7L907.7 752.4L908.7 752.2L909.6 752.2L910.4 752.5L911.3 753.2L912.1 754.1L912.8 755.2L913.6 756.3L914.3 757.5L915 758.6L915.8 759.6L916.5 760.4L917.2 760.9L918 761L918.7 760.7L919.4 760.1L920.1 759.3L920.8 758.2L921.4 757.1L922.2 756L922.9 755L923.7 754.1L924.5 753.4L925.4 752.8L926.4 752.3L927.5 751.7L928.5 751.3L929.6 751.1L930.6 751.1L931.7 751.1L932.7 751.2L933.8 751.3L934.9 751.4L935.9 751.7L937 752L938.1 752.4L939.2 752.9L940.3 753.5" fill="none" stroke="#d9177c" stroke-width="2.5" stroke-linejoin="round" stroke-linecap="round"/>
<path d="M92.2 818.3L92.2 819.4L92.2 820.4L92.2 821.4L92.3 822.4L92.3 823.3L92.4 824.2L92.5 825L92.5 825.9L92.6 826.6L92.7 827.4L92.9 828.1L93.4 827.7L94.2 828.4L95 829L95.8 829.4L96.5 829.4L97.1 829.7L97.7 829.8L98.3 829.7L98.9 829.5L99.5 827.8L100.1 826L100.7 825.4L101.3 825.2L101.9 823.2L102.6 821.3L103.2 821.2L103.8 821.2L104.5 821.6L105.2 821.1L105.9 820.9L106.6 822.1L107.3 823.4L108.1 824.7L108.8 826.1L109.6 825.8L110.3 825.1L111.1 825.1L111.9 825.7L112.7 826.3L113.6 827.2L114.4 828.1L115.2 828.9L116 829.6L116.8 829.3L117.6 828.8L118.4 828L119.2 827.2L120 826.3L120.8 825.9L121.6 825.5L122.4 825.1L123.1 825L123.9 825.1L124.7 825.5L125.6 826L126.4 827L127.2 828.1L128.1 828.8L128.9 829.5L129.7 830.3L130.4 831L131.2 831.7L131.9 832.3L132.5 832.7L133.1 832.9L133.6 832.8L134.1 832.4L134.5 831.5L134.9 830.2L135.3 828.7L135.6 828L135.9 827.5L136.2 826.8L136.6 826.1L136.9 824.8L137.2 823L137.6 821.5L138.1 822.1L138.5 822.7L139.1 822.9L139.6 823.4L140.2 824.4L140.9 825.7L141.6 826.7L142.2 827.6L143 828.1L143.7 828.2L144.5 828.1L145.3 828.7L146.2 829.4L147.1 829.5L148.1 829.5L149 829.3L149.9 828.8L150.7 828.4L151.5 829.8L152.2 830.2L152.8 828.2L153.4 827.1L154 826.7L154.6 826L155.1 824.7L155.7 823.5L156.2 822.7L156.8 822.3L157.3 822.9L157.9 824L158.4 825.3L158.9 824.6L159.4 824.5L159.9 825.9L160.4 827.3L160.9 828.9L161.5 830.4L162 830.9L162.7 831.2L163.4 831.4L164.2 832.1L165 832.6L165.9 832.6L166.9 832.7L167.8 832.7L168.7 833L169.5 833.6L170.3 834.2L171 834.3L171.6 833.9L172.2 833L172.8 831.4L173.4 829.8L174 828.6L174.6 827.6L175.2 826.7L175.9 826.6L176.6 826.4L177.4 826.2L178.2 826.5L179.1 827L180.1 827.5L181 827.8L181.9 828L182.8 827.2L183.6 826.3L184.4 826.6L185.2 827.3L186 826.5L186.8 825.1L187.6 824.6L188.3 824.5L189.1 824.4L189.8 823.2L190.5 821.9L191.1 821.2L191.8 821.3L192.3 822L192.9 823.3L193.4 824.2L193.9 824.9L194.3 825.8L194.8 826.4L195.3 826.7L195.7 827.4L196.3 827.9L196.8 828.3L197.5 829L198.2 829.4L199 828.9L199.8 828.2L200.8 828.7L201.7 828.9L202.7 828.8L203.6 828.6L204.5 828.3L205.3 827.5L206.1 827.2L206.8 827.5L207.6 826.7L208.3 825.1L209 823.8L209.7 824L210.4 823.8L211.1 822.8L211.8 822L212.5 821.5L213.1 821.8L213.8 822.4L214.4 822.9L215 823.5L215.6 823.9L216.2 824.2L216.8 825.6L217.4 827.4L217.9 828.1L218.5 828.6L219.1 829.3L219.7 830.2L220.3 831.2L220.9 832.3L221.6 833.2L222.2 833.3L222.9 833L223.7 831.8L224.4 829.9L225.2 829.8L226 829.8L226.7 829.4L227.3 828.9L227.9 828.2L228.4 827.5L228.9 827.3L229.2 828.5L229.5 830.1L229.8 831L230.1 831.6L230.5 831.5L230.9 830.6L231.4 830.2L231.9 830L232.4 829.4L232.9 828.3L233.4 827.3L234 826.8L234.6 826.6L235.3 826L236 825.1L236.8 824.2L237.6 823.3L238.5 822.6L239.4 822.3L240.3 822L241.2 821.7L242 821.5L242.8 821.3L243.5 820.7L244.2 820.7L244.8 821.1L245.4 822.1L245.9 823.6L246.5 825.1L247 826.2L247.6 827.3L248.2 828.2L248.8 828.6L249.5 828.3L250.3 827.9L251.2 828.1L252.1 828.5L253 828.8L253.9 829L254.8 829L255.7 829.4L256.5 830.5L257.3 830.8L258 830.2L258.6 828.8L259.3 827.2L259.9 825.7L260.5 824.9L261.1 824.2L261.8 824L262.5 823.9L263.2 823.9L264 824.1L264.8 824.5L265.7 825L266.5 825.4L267.4 825.2L268.3 825.1L269.2 825.9L270 826.5L270.8 826.2L271.6 826.2L272.5 827.2L273.3 828.1L274 829.1L274.8 829.3L275.6 829.5L276.3 829.9L277 830.2L277.7 830.4L278.4 830.4L279.1 829.8L279.7 828.7L280.4 827.6L281 826.5L281.6 825.4L282.2 824.7L282.8 824.2L283.4 823L284 821.9L284.6 821.1L285.2 821.1L285.8 821.3L286.4 821.1L287.1 821L287.7 821.2L288.3 821.6L288.9 822.3L289.4 823L290 824.4L290.6 826.1L291.3 827L291.9 827.3L292.6 827.5L293.2 827.4L293.9 827L294.7 826.6L295.4 826.1L296.2 826.2L297 826.5L297.9 826.5L298.7 825.3L299.5 824.7L300.4 824.8L301.2 824.8L302.1 824.8L303 824.7L303.9 824.4L304.8 824L305.7 823.3L306.7 822.7L307.6 823.5L308.4 824.4L309.2 824.9L310 825.1L310.8 824.8L311.6 824.6L312.3 824.7L313.1 825.6L313.8 826.3L314.6 826.8L315.3 827.3L316 828.9L316.8 830.7L317.5 831L318.2 831L318.9 830.9L319.6 831.8L320.3 832.7L321 832.3L321.8 831.5L322.5 831.7L323.2 832.6L323.9 832.6L324.6 831.5L325.3 830.2L326.1 828.7L326.8 827.3L327.5 826.7L328.2 826.1L328.9 826.2L329.6 826.3L330.2 825L330.9 823.8L331.6 823.1L332.2 823.5L332.9 824L333.5 824.5L334.1 825.6L334.7 827.1L335.4 828.5L336.1 829.4L336.9 829.8L337.6 830L338.5 830.1L339.3 830.2L340.1 830.9L341 831.6L341.8 832.3L342.6 832.9L343.4 832.8L344.2 832.3L344.9 833L345.6 833.5L346.2 833.9L346.8 833.3L347.3 832.2L347.8 831.7L348.3 831.4L348.8 831.1L349.2 830.5L349.7 829.4L350.1 828.3L350.5 826.9L351 825.3L351.4 823.8L351.9 823.3L352.4 822.7L352.9 821.6L353.4 820.9L354 821.6L354.6 822.7L355.2 824.1L355.8 825.6L356.5 826.7L357.2 827.1L357.9 827.2L358.6 826.6L359.3 826L360.1 826.7L360.9 827L361.8 826.7L362.6 826.4L363.5 826L364.4 825.5L365.3 825.1L366.1 823.6L367 822.3L367.8 821.7L368.7 821.3L369.7 821.4L370.6 821.5L371.6 821.5L372.5 820.6L373.3 821L374.1 821.6L374.8 821.4L375.3 820.1L375.7 818.8L376.1 818.4L376.5 817.8L376.8 816.7L377.1 815.6L377.4 814.9L377.7 814.1L378.1 813.4L378.5 813L379.1 812.6L379.7 812.1L380.3 811.5L380.7 810.6L381.1 809.5L381.5 808.2L381.9 806.5L382.4 805.4L383 805.9L383.8 806.2L384.7 806.2L385.8 806.2L386.7 806.3L387.6 806.5L388.5 806.6L389.3 806.4L390.2 807.4L391 808.5L391.7 809.3L392.4 809.8L393 810.3L393.4 810.9L393.8 810.8L394.1 810L394.4 808.9L394.7 807.5L394.9 805.8L395.1 804.5L395.4 803.9L395.6 802.5L395.9 800.6L396.2 799.6L396.6 799.4L397 799.3L397.6 799.3L398.2 799.6L399 800.7L399.8 801.9L400.6 802.9L401.5 802.5L402.3 802.6L403.2 803.1L404 803.4L404.9 803.4L405.8 803.1L406.7 803L407.6 802.9L408.6 802.6L409.5 802.3L410.4 802L411.3 802.7L412.2 803.4L413.2 803.1L414.1 802.9L415 803.2L415.8 803.7L416.5 803.9L417.1 803.7L417.7 803.5L418.2 803.2L418.7 802.6L419.2 801.2L419.6 799.5L420.1 798L420.5 797.3L420.9 797.8L421.3 798.7L421.7 800.4L422.1 802.6L422.5 803.5L422.8 803.9L423.2 804.9L423.5 806.6L423.8 807.9L424.2 807L424.5 805.9L424.8 805.7L425.1 805.3L425.3 804.4L425.6 803.3L425.9 802.1L426.1 800.8L426.4 799.6L426.7 798.7L426.9 798.5L427.2 797.1L427.5 795.9L427.8 795.2L428.1 795L428.4 795.7L428.7 796.8L429.1 798.2L429.4 799.8L429.7 801.5L430.1 801.9L430.5 802.1L430.9 802.5L431.4 802.9L432 803.1L432.8 803.6L433.7 804L434.8 804.3L435.9 804.4L436.9 804.1L437.7 803.7L438.4 803.8L438.9 804.2L439.4 804.1L439.8 803.3L440.2 802.4L440.6 800.7L441 799.2L441.3 797.9L441.6 796.9L442 797L442.3 797.6L442.6 798.1L442.8 798.9L443 799.6L443.3 800.4L443.5 801.3L443.7 802.5L443.9 803.6L444.1 805L444.4 806.2L444.7 807L445 807.6L445.3 808.1L445.7 808.8L446.1 808.8L446.7 808.4L447.5 807.9L448.3 808L449.2 808.7L450.2 807.7L451.2 806.3L452.2 805.9L453.2 805.5L454.1 805.1L455 805.8L455.9 806.1L456.8 805.9L457.6 805.7L458.4 805.6L459.2 805.7L459.8 805.2L460.4 804.9L461 805.6L461.5 806.7L462.1 807.8L462.6 808.6L463.1 809.5L463.6 810.5L464.2 811.4L464.7 812L465.3 812.2L465.9 812L466.5 812.4L467.1 812.7L467.7 811L468.3 809.6L469 808.7L469.6 807.9L470.3 807.3L471 806.8L471.8 806.8L472.6 807.1L473.5 808.1L474.4 809.2L475.3 809.4L476.2 809.3L477 809.1L477.6 809.5L478.2 810.6L478.8 811.8L479.3 812.8L479.8 813.9L480.2 815.1L480.7 815.8L481.1 816.5L481.5 817.1L481.9 818.5L482.4 819.8L482.8 820.4L483.2 820.8L483.6 821.1L484 821L484.5 820.9L484.9 820.4L485.3 819.5L485.7 818L486.2 816.4L486.6 815.6L487.1 814.9L487.5 814.6L488.1 814.7L488.6 815.2L489.3 816L490 816.4L490.7 816.9L491.4 817.6L492.2 818.4L492.9 819L493.6 820L494.3 821.2L494.9 820.8L495.5 820.1L496 819.2L496.6 818.6L497.1 817.8L497.6 816.7L498.1 815.7L498.6 814.4L499.1 813.2L499.5 812.8L500 813.9L500.4 815L500.8 816.2L501.2 816.9L501.5 816.8L501.9 817.3L502.3 818.7L502.7 820L503.1 820.9L503.5 821.7L504 822.5L504.5 823.1L505.1 823.4L505.8 823.3L506.6 823.1L507.5 822.8L508.5 822.5L509.4 822.3L510.4 822.1L511.3 822.3L512.1 822.7L512.8 822.5L513.5 822.5L514.2 822.7L514.9 825.1L515.6 826.4L516.3 827L517 827.5L517.7 827.7L518.5 827.4L519.3 827.2L520.1 827.3L521.1 827.3L522.1 827.3L523.1 827L524 826.5L525 826.4L525.8 826.7L526.5 826.9L527.1 826.5L527.5 825.7L528 824.6L528.4 823.2L528.8 821.9L529.2 820.6L529.6 819.6L530.1 819.3L530.6 819.4L531.2 820L532 820.8L532.7 822.2L533.5 823.6L534.3 824.4L535.1 824.3L535.9 824L536.6 823L537.4 822.2L538.1 822.5L538.8 822.8L539.5 821.9L540.2 821.2L540.9 821.2L541.5 822L542.1 822.9L542.7 824.3L543.3 825.3L543.9 825.5L544.6 825.6L545.3 825.8L546 826.3L546.8 827.1L547.6 827.9L548.4 828.5L549.3 828.3L550.1 828.2L550.9 828.3L551.7 828.2L552.4 828.6L553.2 829.8L553.9 829L554.6 828.1L555.3 827.2L556 826.2L556.7 825.3L557.5 823.9L558.2 823.2L558.9 823.6L559.7 824.1L560.5 824L561.4 823.2L562.3 822.5L563.2 821.8L564.2 821.5L565.1 821.5L566 821.4L566.9 821.1L567.7 820.9L568.5 820.9L569.2 821.3L569.8 822.2L570.4 824.2L571 825.8L571.6 827.4L572.2 827.8L572.9 828L573.5 827.7L574.2 827L574.8 826L575.5 825.3L576.2 824.5L576.8 824.1L577.5 823.8L578.3 823.6L579 822.5L579.8 821.9L580.7 822.1L581.6 822.1L582.5 821.9L583.4 821.6L584.4 821.4L585.3 821.2L586.2 821.1L587 821.9L587.9 822.6L588.7 822.5L589.5 822.7L590.3 823.9L591.1 824.9L591.9 825.3L592.7 825.6L593.5 825.8L594.2 825.8L594.9 826.2L595.6 827.5L596.3 827.4L596.9 826.5L597.5 825.3L598.1 824.4L598.7 823.4L599.2 822.5L599.8 821.7L600.3 822L600.9 822.9L601.5 823.6L602 823.8L602.5 824.2L603 824.7L603.5 825.3L604.1 826.3L604.6 827.6L605.1 828.4L605.7 828.7L606.3 829.1L606.9 829.6L607.5 829.9L608.2 829.8L608.9 829L609.6 827.6L610.3 826.2L611.1 825.3L611.8 824.8L612.6 823.8L613.3 822.9L614 822.2L614.8 822L615.5 822.3L616.2 823L616.9 823.9L617.6 824.5L618.3 824.8L619 825L619.7 824.8L620.3 823.8L620.9 822.7L621.5 821.7L622.2 821.2L622.8 821.3L623.4 821.9L624.1 822.9L624.7 823.9L625.3 825L625.9 826L626.6 826.9L627.2 827.4L627.9 827.7L628.6 827.6L629.3 827.2L630.1 826.7L630.9 826.7L631.7 826.7L632.5 825.8L633.3 824.6L634.1 823.5L634.9 823.6L635.6 823.2L636.2 822.1L636.8 821.2L637.4 822.7L637.8 824.5L638.3 825.5L638.7 826.7L639.1 827.9L639.5 829L640 829.9L640.5 830L641 830.2L641.7 830.1L642.4 830L643.2 829.8L644.1 829.7L645 828.7L646 827.3L647 826.4L647.9 826.1L648.8 826.2L649.7 827.2L650.5 827.9L651.2 828.1L651.8 828.7L652.4 829.4L653 830.2L653.6 830.9L654.3 831.4L654.9 831.6L655.6 831.1L656.3 830.3L657 829.2L657.7 827.8L658.3 826.8L659.1 825.7L659.8 824.9L660.5 824.7L661.2 824.6L661.9 824.6L662.6 824.5L663.4 824L664.1 823.8L664.8 824.1L665.5 825L666.3 825.7L667 825.9L667.8 826.2L668.5 826.3L669.3 826.3L670.1 826.1L671 825.8L671.9 825.9L672.8 826.2L673.7 826.7L674.6 827.2L675.5 827.4L676.5 827.4L677.4 827.3L678.3 828.2L679.2 828.2L680.1 828.1L680.9 828L681.8 828.7L682.7 829.4L683.6 829.1L684.4 828.3L685.3 828.8L686.1 829.4L687 829.8L687.8 830.8L688.5 831.5L689.3 831.6L690 831.6L690.7 831.4L691.3 831L692 830.5L692.6 829.8L693.2 829L693.8 828.1L694.4 827.1L695 826.3L695.7 825.3L696.3 824.1L696.9 823.3L697.6 824.3L698.3 825.4L699 825.6L699.7 825.9L700.4 826.4L701.1 827L701.8 827.6L702.5 828.5L703.2 829.6L703.9 830.9L704.6 832L705.3 831.9L706 831.7L706.7 832.1L707.4 833L708 833.5L708.7 833.3L709.3 833L710 832.8L710.6 832.5L711.2 832.3L711.9 832.1L712.5 831L713.1 829.5L713.7 828.1L714.3 826.9L714.9 825.6L715.6 825.2L716.2 825.2L716.8 824.7L717.4 823.2L718.1 822.4L718.7 821.9L719.4 821.3L720 820.1L720.7 819.1L721.4 819.8L722.1 821L722.9 821.6L723.6 822.4L724.4 822.9L725.1 823.5L725.9 824.1L726.7 825.2L727.5 825.2L728.3 824.9L729.1 824.6L729.9 824.7L730.8 824.6L731.6 824.3L732.5 824L733.3 823.4L734 822.8L734.6 822.4L735.2 821.9L735.7 822.2L736.1 823.7L736.5 825.3L737 826.8L737.3 828.3L737.7 829.6L738.1 830.4L738.5 830.9L739 831.1L739.4 830.9L739.9 830.9L740.3 830.6L740.8 829.2L741.2 827L741.7 826L742.1 825L742.6 824.2L743.1 823.5L743.7 823.1L744.3 823L744.9 822.8L745.7 822.2L746.6 821.7L747.5 821.8L748.5 821.7L749.5 821.4L750.4 821.1L751.2 820.9L751.9 821L752.5 821.4L753.1 822.4L753.6 823.7L754.2 825L754.7 826L755.3 826.4L755.9 826.5L756.6 826.2L757.3 825.5L758 824.7L758.8 824.9L759.7 825.3L760.5 825L761.3 824.7L762.1 824.1L762.9 823.4L763.6 823.6L764.3 824.1L765.1 824.7L765.8 824.7L766.5 824.7L767.3 825.4L768.1 825.8L768.9 826.1L769.7 826.5L770.6 827.1L771.5 827.8L772.5 827.7L773.4 827.3L774.3 826.9L775.3 826.5L776.2 826L777 825.2L777.9 825L778.7 825.1L779.6 825.1L780.4 824.3L781.2 823.2L782 822.8L782.9 822.4L783.7 822L784.5 822.1L785.2 821.8L786 820.6L786.7 819.7L787.4 819.3L788.1 819.1L788.8 819.1L789.4 819.3L790.1 819.4L790.7 819.2L791.3 819.7L791.9 820.7L792.5 821.9L793 823.1L793.6 824.5L794.1 825.7L794.7 826.5L795.2 827.6L795.7 828.6L796.2 829.5L796.7 830.4L797.2 831.2L797.7 831.6L798.2 831.6L798.7 832.3L799.2 832.8L799.7 832.8L800.2 832L800.6 831.9L801.1 832L801.6 832L802 830.8L802.4 829.6L802.9 828.3L803.3 827.2L803.8 826.1L804.2 824.9L804.6 823.4L805 821.9L805.5 820.5L805.9 820.1L806.4 819.8L806.8 819.5L807.3 819.4L807.7 819.4L808.2 819.8L808.7 819.3L809.1 818.2L809.6 819.7L810.1 821.4L810.6 823.1L811.1 824.4L811.6 825.7L812.1 826.2L812.6 826.1L813.1 826.9L813.5 827.9L814 827.9L814.5 827.7L814.9 827.6L815.3 827.7L815.8 827.6L816.2 826.6L816.6 825.1L817 823.8L817.4 822.7L817.8 821.9L818.2 821.3L818.7 820.8L819.1 819.5L819.5 818.5L819.9 818.7L820.3 819.3L820.7 819.5L821.1 819.7L821.5 820.1L821.9 821.2L822.3 822.4L822.7 822.8L823.1 824.1L823.6 825.9L824 827.2L824.4 827.8L824.9 828.1L825.4 828.7L825.8 829L826.4 828.7L826.9 827.8L827.4 826.7L828 825.5L828.6 824.4L829.2 823.8L829.8 823.5L830.5 823.5L831.1 823.8L831.9 823.8L832.6 823.8L833.4 824.4L834.2 825.7L834.9 827L835.7 827.8L836.4 828.5L837.1 827.9L837.7 826.4L838.2 825.5L838.8 825L839.3 824.2L839.8 823.3L840.3 822.2L840.9 821.4L841.5 820.9L842.1 821L842.7 821.5L843.4 822.4L844.1 823.3L844.8 823.8L845.5 824.3L846.2 825L846.9 825.8L847.7 826.5L848.4 827.3L849.2 827.8L849.9 828.2L850.7 828.3L851.5 827.5L852.4 825.7L853.2 825L854 824.4L854.8 824.9L855.6 825.6L856.4 826.4L857.3 826.9L858.1 827.6L858.9 827L859.7 826.9L860.6 828L861.4 829L862.2 829.6L863 829.9L863.9 829.4L864.7 828.5L865.6 827.5L866.5 826.8L867.3 826.1L868.2 825.6L869.1 825.5L869.9 826.2L870.8 826.9L871.6 826.2L872.4 825.6L873.2 825.5L874 825.8L874.8 826.5L875.5 827.2L876.3 827.7L877 828.2L877.6 828.3L878.1 827.6L878.5 826.5L879 825.2L879.4 824.5L879.8 823.1L880.2 821.3L880.6 820.2L881.1 820.3L881.6 820.6L882.1 821L882.8 820.4L883.6 820.7L884.5 821.4L885.4 822.2L886.3 822.8L887.1 823.2L888 823L888.8 822.7L889.7 821.8L890.5 820.8L891.4 820.3L892.3 820.8L893.1 820.6L893.9 819.8L894.7 819.4L895.4 819.3L896.1 819.4L896.8 818.9L897.4 818.3L897.9 818.5L898.5 819.4L899 820.4L899.5 820.8L900 821.4L900.5 822L901 823.5L901.4 825.4L901.9 827.2L902.4 828L902.8 828.8L903.3 829.5L903.8 830.4L904.3 831.2L904.9 832.3L905.4 833.5L906 833.7L906.6 833.7L907.3 832.8L908 831.7L908.7 832L909.4 832.2L910.2 831.4L911 830.6L911.7 829.7L912.5 827.6L913.3 826.2L914.2 825.9L915 825.7L915.8 825.9L916.6 826.4L917.4 826.4L918.2 825.6L919 825.5L919.9 826.6L920.7 827.7L921.5 827.9L922.2 827.5L923 827.5L923.7 827.2L924.4 826.7L925.1 825.9L925.7 825.2L926.4 824.6L927 823.6L927.5 822.5L928 822.1L928.4 822.4L928.8 823.1L929.2 823.8L929.5 824.7L929.8 825.9L930.1 827.1L930.4 828.6L930.8 829.9L931.2 830.3L931.7 829.5L932.1 828.4L932.6 827.3L933.1 826.5L933.7 824.8L934.3 823.3L934.9 822.8L935.6 822.7L936.4 822.4L937.3 822.1L938.3 821.9L939.3 822.2L940.3 822.8" fill="none" stroke="#6d1118" stroke-width="2.3" stroke-linejoin="round" stroke-linecap="round"/>
<path d="M92.5 123.4l-0.01 0.74M92.5 134.6l0.01 0.66M93.8 145.3l-1.03 0.07M96.3 145.1l0.23 1.22M99.3 152.3l1.08 -0.68M102.3 152.8l0.49 0.53M104.1 150.7l0.76 0.01M106.5 152.3l1.24 -0.06M108 151.3l1.40 -0.51M109.4 152.7l1.44 -0.38M112 152.5l0.69 0.72M115.2 156l-0.47 0.64M116.8 154.6l0.68 1.40M119.6 159.2l0.82 1.25M125.3 172l0.25 1.17M127.8 183.8l-0.15 1.28M131 193.3l-0.23 1.02M132.8 202.7l0.31 0.90M135.9 213l-0.65 0.84M137.2 222.7l0.81 1.31M140 233.2l0.07 0.78M142.6 240.7l-0.05 0.93M146 251.9l0.29 0.79M148 261.4l0.28 0.87M150.6 271.6l0.05 0.79M153.3 278.9l-1.04 -0.00M156.6 290.8l0.19 1.28M158.9 301.5l0.20 1.05M160.8 312l0.91 0.21M164.2 320.4l-0.45 1.18M166.5 327.1l0.80 0.64M169.7 328.1l0.94 0.09M171.4 329.9l1.24 -0.29M173.4 326.8l0.12 -1.35M175.6 324.1l-0.66 -0.05M178.7 311.1l0.88 -0.90M181.3 301.1l1.05 0.54M184.3 294l0.04 -1.41M186.8 284.4l-0.17 -1.03M189.1 272.7l-0.64 -0.50M190.1 262.7l1.12 0.09M191.3 253.1l0.59 -0.60M192.4 243.3l0.01 -0.87M193.9 233.3l0.12 -1.52M195.8 225.5l0.10 -0.88M198.1 215.5l1.06 -0.91M200.9 204.5l-0.54 -0.53M202.6 193.1l0.02 -0.99M203.9 182.9l0.67 -0.81M206.2 173.2l-0.40 -1.26M207.6 162.6l0.44 -0.97M210.1 153.4l0.87 -0.56M212.8 145.3l0.81 -1.31M216 135.7l0.15 -0.99M218.5 131.4l0.52 -1.41M220.6 128.6l1.51 0.15M224.8 125.2l0.96 0.59M227.7 124.6l0.70 1.21M229.2 123.3l0.88 0.52M230.1 126.3l0.74 -0.96M231.6 126.3l0.68 0.78M235 129.2l0.66 0.80M237.1 129.4l1.08 -1.08M238.9 129.6l1.01 0.50M241.5 129.8l0.68 -0.00M243.5 131.1l0.62 -1.06M246.4 132.9l1.02 -0.58M249 131.7l0.71 0.55M249.8 131.6l0.90 0.23M251.6 133.7l1.18 0.54M253.7 131.9l1.16 0.46M256.4 131.6l1.24 0.65M258.8 132l1.23 -0.10M261.4 131l0.81 1.02M263.7 132.3l-0.11 0.84M265.9 129.1l1.20 -0.01M268.8 130.6l1.13 -0.44M270.4 131.8l0.89 1.11M272.4 130.8l0.47 -0.47M273.3 133.4l0.63 0.40M274 131l1.27 0.28M275.3 132.3l0.97 0.58M275.9 130.2l1.45 -0.47M277.5 126.2l0.89 -0.17M279 130.4l0.21 -1.25M281.3 129.4l0.41 -0.80M282.6 127l1.11 0.08M285.6 127.3l0.90 0.57M286.9 125.8l0.83 0.47M288.8 123.6l0.50 -0.80M289.2 123.8l1.25 0.30M291.1 124.8l0.75 -0.80M294.5 126.7l0.61 -0.25M295.9 126.8l1.14 0.74M297.7 127.3l1.00 0.97M299.6 125.9l0.95 0.75M301.9 133.9l0.65 0.32M305.9 137.3l0.44 0.81M308.6 141.4l0.61 1.20M313.3 148.1l0.82 0.40M315.9 149.5l0.29 0.82M319.5 152.6l0.50 0.43M322.7 158.7l0.12 0.70M325.4 162.6l1.19 0.29M330.8 173.8l-0.13 1.17M332.8 180.9l1.38 0.12M336.2 191.1l0.67 -0.55M340.1 199.1l-0.29 0.94M342.1 207.3l0.18 0.80M345.5 216.3l-0.03 0.87M348.5 226.3l-0.96 0.92M349.7 236.5l-0.84 1.07M350.4 247.1l0.70 1.24M352.3 257.7l0.38 0.54M355 269.3l-1.40 -0.11M355.8 279.3l0.80 0.78M358 289.2l0.72 1.02M360.1 298.9l0.70 0.16M361.6 308.7l1.39 0.29M364.6 320.1l-0.08 0.75M366.4 330.6l-0.75 0.03M366.8 340.6l0.99 0.62M368.1 351.1l0.66 1.10M369.6 361.9l0.53 1.27M370.8 372l1.18 0.74M373 382.5l0.42 0.77M374.3 392.7l1.37 0.47M376.9 402.6l-0.27 0.98M377.8 413.6l1.03 0.52M380.5 423.9l-0.50 1.15M381.7 435.1l0.95 0.44M384.1 437l1.01 -1.00M388.5 429.1l-0.76 -0.94M390.5 420.2l0.75 -0.54M392.8 410.2l0.77 -0.30M396.1 400.1l-0.36 -0.60M399.4 394.5l0.45 0.79M402.4 402.4l-1.05 0.72M405.1 414.8l-1.02 0.69M405.9 424.1l0.36 0.72M407.8 434.9l0.22 0.71M410.6 443.2l0.38 0.94M413.6 453.3l0.57 0.50M417 459.8l0.59 -0.37M420.8 467.5l0.80 0.22M424.1 470.2l0.64 0.24M427.9 476.6l1.39 -0.56M431.6 478.1l0.62 0.28M435.1 477.5l-0.35 1.33M437.1 482.4l0.68 -0.35M439.7 477.4l0.86 0.61M442.9 484.5l0.01 0.84M446.2 495.5l0.73 1.07M449.3 507.6l-0.89 0.89M451.9 516l-1.06 0.54M453.7 525.6l0.03 0.74M456.5 526.9l0.59 -0.78M458.7 517.7l0.95 -1.23M460.9 507.3l0.51 -1.12M463.3 499.3l-0.19 -1.51M465.8 488.3l-0.58 -1.28M466.4 477.3l0.78 -0.57M467.4 467.2l0.18 -1.48M468.6 457l-1.15 -0.97M469.4 446.9l-0.51 -0.97M470.8 437.5l0.12 -1.12M473.6 429l0.22 -0.94M476.1 418.8l0.97 -0.59M479.5 408.1l0.27 -1.06M482 401l-0.24 -1.27M484 390.5l-0.09 -1.53M487.1 378.4l-1.02 -0.62M489.4 370.4l-0.67 -0.36M491.5 361.6l-0.68 -0.51M493.2 350.4l0.26 -1.42M495.5 340.8l0.35 -1.46M498.3 330.6l-0.19 -0.69M500.8 320.4l-0.53 -0.64M503 311.3l0.70 -1.35M504.9 306.2l1.07 -0.93M510 297.5l-0.05 -1.22M513.3 289.1l-0.56 -1.07M516.4 280.9l1.21 -0.09M520.2 275.3l-0.07 -1.32M521.8 268.1l1.26 0.00M525 264.5l0.53 -0.47M528 262.5l0.26 -1.33M529.4 255.4l0.90 -0.62M533.5 245.1l0.67 -0.43M536.8 240.8l0.71 -1.30M538.5 234.2l1.00 -0.79M540.5 233.2l1.12 -0.88M544.2 230.7l0.18 -0.73M545.9 230.3l0.92 -0.01M549.3 233.4l0.76 -0.80M551.1 226l0.96 -0.01M552.7 227.6l1.36 -0.75M554.8 229.8l0.77 -0.20M557.8 221.1l0.22 -0.69M561.5 216.4l0.13 -1.45M564.9 212.1l0.73 -0.36M568.2 204.9l0.43 -0.97M569.3 201.2l1.26 0.88M571.2 204l0.67 -0.09M573 207.4l0.53 0.46M574 201.8l1.23 0.06M575 200.8l0.79 -0.22M575.7 201.5l0.99 -0.57M575.9 207.3l1.45 -0.38M576.3 200l1.42 0.02M577.4 203.8l0.59 0.93M577.8 203.1l1.05 -0.68M578.9 199l0.81 0.37M580.6 205.3l0.81 0.76M583.4 206.8l0.97 -0.03M585.8 210.2l0.47 -1.04M587.7 206.5l1.35 0.41M589.7 202l0.81 -1.06M593 198.2l0.39 -0.87M595 198.3l1.16 -0.61M595.7 205.1l1.02 -0.73M596.3 195.6l0.91 0.04M597.7 201.4l0.68 -0.32M598.8 198.4l1.12 -0.08M599.8 195.6l0.65 -0.37M600.6 196.2l0.76 0.34M602.6 193.3l1.27 -0.48M603.6 197.1l0.68 0.21M604.8 192.7l1.10 1.04M605.6 198.4l0.64 0.85M607.2 197.5l0.76 -1.27M609.7 202.6l1.26 0.23M611.7 201.5l0.26 1.12M612.8 198.5l1.26 0.69M614.1 200.4l1.12 0.65M615.7 203.1l0.21 0.93M618.7 204.8l-0.67 0.97M620.6 206.9l-0.20 0.83M623.1 213.1l0.50 1.22M624.7 211.7l0.93 0.45M627 213.7l1.11 1.00M629.7 216.5l1.09 0.37M632.6 223.9l0.40 0.70M633.8 220.6l0.63 0.68M636.4 224.2l1.43 -0.61M638.9 228.7l0.91 0.00M640.5 228.2l1.13 0.39M644.2 233.1l0.85 0.37M647 238.9l0.30 1.04M650.2 242.1l0.42 0.98M652.9 244l0.77 1.01M655.1 251.5l0.84 0.97M659.5 256.4l0.67 0.60M662 263.5l0.30 1.06M664.7 267.1l0.86 -0.28M667.8 271.2l0.61 0.93M671 278.3l0.16 0.64M674.1 285.9l0.83 1.07M676.8 295.3l-0.22 1.25M678.6 299.8l0.50 1.45M682.5 309.4l0.42 1.09M684.1 313.9l1.19 0.30M686.2 312.3l0.80 0.26M687.3 311.3l1.03 0.09M689.4 308.3l0.32 -1.30M693.1 304l0.48 -1.24M694.9 301.6l1.26 -0.54M697.9 300.5l0.32 -1.02M698.9 305.8l0.46 -1.41M700.6 297.6l1.41 -0.63M702.8 301.4l0.50 -1.15M703.6 296.4l0.77 -0.28M705.2 288.2l1.06 0.63M706.7 293.8l0.89 -0.63M709.4 292.8l0.09 -0.89M709.8 291.8l0.62 -1.39M712.5 292.4l0.01 -1.18M712.7 286.7l1.43 0.37M714.9 286.4l1.06 -0.23M715.3 290.6l1.37 -0.36M717.2 290.6l0.69 -1.20M718.2 289.4l1.08 0.42M719.9 287.2l0.85 -0.90M721.1 288.7l0.45 -1.21M722.1 289.6l1.00 0.32M723 287.7l0.75 -0.17M723.2 282.7l1.04 -0.54M724.2 284.4l0.63 -0.51M725.7 286.1l1.51 -0.03M727.2 287.3l0.19 -0.73M728.6 285.3l0.81 -0.26M730.1 288.5l0.72 0.10M731.4 285.1l1.21 -0.03M733.9 285.6l-0.60 -0.58M734.9 284.5l0.79 0.03M738.1 269.9l0.42 -0.65M740.6 258.8l-0.40 -1.46M741.9 251.4l-0.29 -1.28M743 240.3l1.10 -0.10M745.5 232.7l-0.94 -0.97M746.3 222.7l0.95 0.04M747.8 216.1l0.89 -0.66M750.5 208.5l0.81 0.60M753.6 201.5l-0.28 -1.07M756.6 192.8l-0.74 -0.77M758.7 185.5l-0.29 -1.53M760.4 182l0.30 -0.88M763.2 175.6l0.40 -0.76M769 171.1l-0.72 -0.82M769.3 170.7l0.64 -0.33M770.1 166l0.72 -0.81M773.2 166.6l-0.04 -1.42M775.2 167.8l0.96 -0.59M775.6 157.9l1.01 0.72M776.1 167.8l0.78 -1.32M778.4 161.6l1.27 0.37M779.4 163.7l0.64 -0.51M780.2 162.1l0.89 0.48M781.8 162.4l0.01 -0.93M782.1 165.2l1.15 0.67M783.6 162.6l0.41 0.68M784.3 161.6l1.10 0.02M786 162.5l1.11 -0.60M787.2 165.9l0.76 0.45M788 165.3l0.68 0.87M789.2 162.1l1.00 0.13M789.7 167.8l1.05 -0.83M791.1 166.8l0.91 -0.44M792.6 166.2l1.26 -0.19M793.6 160l0.78 -0.51M795.1 165.1l0.80 0.33M796.5 167.9l0.93 -0.02M797.4 163.7l0.89 0.17M798.5 166.1l0.77 -0.64M800.5 168.4l0.14 0.87M800.6 170.4l1.35 -0.56M802.3 167.7l0.72 -0.52M802.8 166.9l0.67 -0.87M804.3 165.9l1.08 0.13M805.6 165.5l0.47 -0.49M805.8 164l1.50 -0.00M807.2 167.2l0.96 0.90M808 161.3l0.76 1.09M808.7 164.7l0.60 1.19M809.9 168.4l0.63 -0.65M810.7 163l0.83 0.10M812 166.1l0.71 -0.36M812.6 169.8l0.61 -0.84M813.9 169.1l0.14 1.38M814.4 166.3l0.91 0.33M815.3 166.4l0.97 0.98M816.8 169.8l-0.30 -1.10M817.5 163.5l0.50 0.70M818.8 165.5l0.12 0.78M819.6 170.8l0.90 -1.09M821 166.1l0.12 1.53M821.7 163.5l1.38 0.64M823.1 169.2l0.80 -0.38M823.4 167.3l1.36 0.52M824.1 163.5l1.42 0.13M824.9 171.2l0.86 -1.15M825.9 167.4l1.41 0.37M828.3 164l0.20 -0.73M829.3 164.6l0.69 -0.68M830.7 163.5l0.96 0.05M833.2 165.8l0.05 0.98M834.2 169.6l0.28 -0.74M834.7 160.2l1.23 -0.77M836 166.4l0.82 -0.72M836.5 166l1.13 -0.61M839.3 166.2l0.51 0.50M839.8 164.2l1.06 1.04M841.3 166.8l1.24 0.53M844.3 170.1l0.74 1.24M846.5 175.1l0.86 0.53M849.8 176.8l0.77 0.04M851.3 175.9l1.23 0.34M852.8 177.5l0.73 -1.05M855.2 177.7l0.24 0.75M856.6 181.1l1.23 0.88M858.4 185.1l0.83 -0.40M860.6 182l0.92 -0.34M862.1 184.9l0.58 0.70M864.3 179.8l0.70 0.17M865.7 183.1l0.68 -0.21M868.1 187.8l-0.74 1.12M868.8 186.8l0.51 1.06M869.2 187.9l0.96 -0.66M871.9 191.5l1.19 0.23M873.9 185.9l0.89 0.04M875.1 189.8l0.76 0.28M875.4 186.2l0.79 1.24M875.9 195.7l0.47 0.77M875.9 186.7l1.03 0.43M876.7 189.8l1.14 0.98M877.8 185.4l0.72 0.42M878.7 188.2l1.30 -0.78M880.6 192.4l0.71 -0.51M882.2 191.5l1.18 0.26M884.4 187.5l0.29 1.37M885.7 190.1l1.23 0.15M886.7 187.3l0.57 -0.90M887.9 189.2l0.64 0.19M890 184.5l0.64 -0.15M891.7 190.1l-0.48 -0.87M893 184.7l0.99 0.12M894 188.2l0.79 -1.08M896 186.9l0.95 0.21M897 189.1l0.57 0.44M897.4 187.7l1.04 -0.20M898.9 183.1l1.23 -0.76M899.5 188.6l1.10 -0.42M901.4 189.6l1.07 0.40M903.3 185.1l0.94 -0.53M905.8 182.7l0.82 -0.73M906.5 184.7l0.92 -0.38M908.8 182.1l-0.14 -1.05M910.6 183.2l-0.47 -0.93M911.4 184.9l0.90 1.27M912 180.4l0.59 1.10M912.5 179l1.23 -0.52M914.2 178l0.82 0.98M915.5 180.5l0.87 -0.84M917 179.2l0.48 1.40M918.2 179.1l1.17 0.99M919.1 184.8l1.22 -0.40M920.8 187.1l0.91 -0.57M922.5 180.9l0.98 -1.21M923.6 185.2l0.27 -1.41M924.5 187.5l0.89 -0.25M926.1 178.3l1.19 0.97M927.5 180.9l1.19 0.69M929.8 184.5l0.72 -1.09M932.5 179.5l1.02 0.34M934.9 175.1l0.91 -0.12M936.6 170.2l0.71 -0.17M937.6 172.9l1.18 -0.40M938.4 170.7l1.38 -0.37M940.8 173.7l0.36 -1.41M942.7 173.8l0.46 -1.21M943.7 171.7l0.77 0.40M945.7 172.1l0.62 -0.45M946.8 169.1l1.36 0.30M947.7 172.2l1.12 -0.17M948.4 169.9l0.98 -0.17M949.6 171.9l1.32 -0.08M951.2 172.8l0.53 -0.49M952.6 167.9l0.89 -0.56M954 165.9l0.74 -0.11M956.6 163.3l-0.22 -1.50M957.6 159.8l0.65 -0.57M961.3 153.8l0.88 -0.55M963.6 150.7l0.74 -1.15M968.1 147.7l1.17 -0.51M970.5 143.8l0.77 -0.48M973.3 144.2l-0.40 -1.13M975.4 139.9l0.67 -1.13M977.1 138.5l1.24 -0.70M979.8 131.8l0.70 -1.02M981.3 130.3l0.92 -0.07M983.7 130.2l1.05 0.48M985.6 128.4l0.85 0.11M987.3 133.9l0.52 0.43M991.6 144.3l0.92 -0.59M992.9 144.1l0.32 0.86M995.2 146.8l0.65 -0.70M995.8 146.1l1.21 0.91M997.7 150.8l-0.14 1.25M998.8 147.5l0.99 -0.14M1000 147.6l1.24 -0.88M1001.3 148.3l0.41 -1.15M1003.8 143.4l-0.29 -0.70M1004.2 148.4l1.13 0.22M1008 145.4l1.28 0.36M1009.7 143.7l0.93 -0.22M1011 142.6l0.67 -0.24M1012.6 143.2l0.96 -0.26M1013.7 146.7l0.68 -0.05M1014.5 145.3l1.35 -0.64M1015 141.6l1.40 -0.42M1017 142.1l0.67 0.44M1018.3 139.1l1.54 -0.17M1018.8 141.4l1.54 -0.09M1019.5 139.7l1.21 -0.37M1022 136.6l0.95 -0.20M1022.8 138.7l0.97 -0.36M1023.9 143.5l0.58 0.33M1025.6 140.5l0.71 -0.18M1028.2 134.7l-0.69 0.73M1028 140.2l0.75 1.10M1030 137.9l0.95 -0.71M1030.8 141.8l0.73 -0.94M1032 137.1l1.25 -0.15M1033.4 137.7l1.30 -0.39M1034.4 140.9l1.21 0.81M1035.3 139.7l1.25 0.20M1036.6 138.7l0.55 0.86M1038.7 140.4l0.19 -1.52M1041.1 142.6l0.50 0.48M1042 134.8l0.57 -0.36M1042.7 139.9l0.34 0.83M1042.8 136l1.13 -0.35M1043.8 136.9l0.96 -1.07M1045.3 137.2l0.83 -0.02M1046.8 138.7l0.71 -0.16M1048.8 139.7l0.73 -0.65M1050.4 140.3l0.64 -0.23M1052.7 140.3l-0.19 0.74M1053.8 139.7l0.79 -0.42M1054.6 140.1l1.28 -0.56M1056.6 141.8l0.70 0.19M1057.4 139.4l1.27 -0.37M1058.8 139.1l1.10 0.18M1060.2 142.6l1.23 -0.20M1061.3 141.4l1.21 0.72M1063 142.5l1.17 -0.48M1063.8 140.4l0.77 -0.16M1065.8 138.1l1.10 1.07M1068.4 137.5l1.17 -0.19M1069.8 137.5l1.37 0.34M1071.2 138.7l1.39 -0.19M1072.5 140.8l0.20 -0.80M1074.2 140.1l0.66 0.83M1075.7 139.6l0.58 -0.65M1077.7 138.2l1.16 0.64M1080.6 138.8l1.02 -0.70M1082.1 138l0.93 0.62M1084.2 138.3l1.14 -0.64M1086.4 136.7l1.46 0.47M1088.3 137.2l0.57 0.54M1089.8 143l1.09 -0.88M1092.4 135.9l0.08 1.01M1093.6 139.1l0.76 -0.35M1095.2 141l0.64 1.41M1097 142.4l1.05 0.03M1097.8 143.6l0.83 -0.00M1098.7 140.4l0.93 0.69M1100.1 144.7l1.08 0.16M1101.7 139.2l0.07 -0.81M1103.6 142.8l-0.21 -1.09M1105.3 138.1l1.30 0.24M1107.9 137.2l0.83 -0.66M1110.5 135.2l0.49 -0.62M1111.6 141.3l1.18 -0.06M1113.6 133.6l-0.18 1.31M1114.2 133.4l0.89 -1.08M1116.4 133.3l0.94 -1.15M1118.2 134.7l0.83 0.43M1119.1 133.9l1.24 0.60M1122.3 134.3l0.44 1.45M1123.5 134.5l0.68 -0.02M1125.2 139.3l0.91 -0.46M1128.2 137.2l0.98 0.62M1130 140.5l0.87 -0.03M1131.8 137.6l0.74 0.19M1132.4 142.4l0.91 -0.64M1133.5 141l0.47 0.61M1135.2 139.6l0.49 0.50M1135.5 145.1l0.68 -0.62M1136.6 139.2l0.83 -0.27M1138.1 142l0.89 -0.44M1139.3 140.6l1.26 -0.61M1139.9 139.1l1.06 0.33M1141.1 136.1l0.78 0.86M1142.1 140.5l0.43 0.90M1142.8 141.7l0.52 0.66M1144.6 139.7l0.72 -0.14M1147.2 141.2l0.61 1.11M1148 140l1.31 -0.29M1148.7 141.7l1.20 -0.26M1149.5 139l1.19 0.21M1151.6 139.1l0.79 0.03M1152.8 140.3l0.34 1.09M1154.8 138.9l0.10 0.98M1156 140.3l1.02 1.17M1157.8 137.1l0.70 0.95M1158.9 143.5l0.66 -0.01M1162.2 145.1l-0.18 0.89M1162.7 145.4l0.72 0.26M1165.7 147.8l0.88 -0.35M1166.7 148.5l0.65 -1.27M1167.8 150.1l0.50 0.41M1168.9 140.4l0.34 -0.94M1170 148.2l0.40 1.01M1171.8 145.8l1.02 -1.07M1173.3 143.7l1.54 0.20M1175.5 144.3l0.69 -0.20M1177.9 142.5l0.76 -0.63M1180.1 140.7l0.81 0.06M1181.3 136l0.74 -0.57M1182 139l0.84 0.10M1183.8 134.2l0.93 0.37M1185.5 137.7l0.94 0.28M1186.7 137.9l0.51 1.32M1189.5 139.3l0.65 0.47M1190.3 136.7l0.45 0.58M1191.8 138.3l1.03 0.03M1193.6 142l0.11 1.18M1195.9 142.1l0.70 1.14M1197.4 143.9l0.17 -0.87M1198 143.1l1.10 0.29M1200 144l-0.12 0.90M1201.1 144.6l0.48 -0.74M1201.6 141.6l1.31 0.14M1202.9 147.8l1.30 0.21M1203.8 146.7l1.29 -0.72M1205.7 147l0.19 -0.98M1206.2 143.8l0.96 -0.05M1207.7 147.7l1.26 0.09M1209 151.2l0.65 0.04M1210.2 145.4l0.74 0.89M1211.8 147.6l0.00 -1.21M1212.6 145.6l0.50 0.42M1214.8 145.3l-0.46 1.12M1216.7 146.7l1.00 -0.54M1218 148.8l1.02 0.51M1219.1 148.8l0.52 0.42M1220 144.2l0.67 1.19M1220.8 143.8l0.45 -1.13M1221.8 141.9l0.77 -0.81M1222.9 147.7l0.76 0.03M1223.9 142.4l0.85 -0.13M1224.3 146.3l0.91 0.10M1226.9 148.7l0.14 0.70M1228.3 148.8l0.41 0.96M1229.9 146.1l0.85 -0.93M1230.9 150.5l0.57 -1.06M1232.2 150.6l1.11 -0.76M1233.7 148.7l0.51 -1.21M1234.9 149.9l0.48 0.92M1235.8 147.1l1.38 -0.14M1237.7 148l1.38 0.63M1239.3 144.4l1.07 -0.23M1241 146.7l0.53 1.08M1241.9 145.1l0.11 0.85M1242.2 146.2l0.88 0.26M1244.4 148.4l0.22 -0.65M1245.4 148.9l0.71 0.64M1247.2 145l0.58 -1.23M1248.3 148.1l0.81 0.37M1249.2 148.3l1.32 0.68M1251 147.7l0.32 1.43M1254.1 146.6l-0.86 1.04M1254.7 149.9l1.37 0.66M1255.3 149.5l1.47 0.24M1257.9 147.7l0.55 1.17M1260.1 150.3l0.34 -0.93M1260.8 154l1.00 0.80M1262.1 150.8l0.76 0.28M1264.1 148.6l0.64 -0.45M1265.1 152.1l0.64 -0.51M1265.3 146.7l1.05 0.72M1266.4 152.5l1.12 0.49M1267.5 153.2l0.86 -0.83M1268.1 153l1.00 0.70M1269.5 151.3l0.98 0.62M1271 151.5l0.45 0.72M1273.9 150.2l0.58 0.52M1275.1 151l0.64 1.37M1275.9 148.8l0.49 0.53M1278.3 153l0.80 0.53M1279.6 149.8l1.02 0.85M1281.3 153.4l0.24 -1.11M1281.7 151.4l1.20 -0.92M1282.1 149.6l1.43 -0.01M1282.6 149l1.33 -0.51M1284.2 148.4l1.31 0.64M1285.9 150.4l0.64 -0.75M1288.2 148.3l-0.51 0.44M1289.2 148.1l1.17 -0.22M1290.4 157.2l0.94 -0.96M1291.7 151.8l0.82 0.19M1292.7 150.5l1.12 -0.77M1294 152.4l0.97 1.10M1295.8 151.8l1.16 -0.11M1297.3 152.5l0.75 -0.61M1298 151.4l1.11 0.55M1299.6 153l0.35 0.82M1301.3 149.6l0.79 0.49M1302.5 148.3l0.69 0.07M1304.2 152.3l0.23 0.61M1305.2 151.9l0.08 -0.86M1306.1 150.5l0.46 -0.58M1307.8 147.9l0.80 0.76M1309.6 150.7l-0.10 1.36M1311 153.2l0.10 -1.30M1311.4 153.6l0.84 0.25M1312.3 153.3l1.07 -0.57M1314 152.3l0.51 -0.41M1314.7 150.3l0.98 -0.84M1316.9 150.1l0.05 1.17M1317.7 152.6l0.90 -0.65M1318.6 144.4l0.57 0.38M1319.6 153l0.60 0.40M1320.5 146.7l0.70 1.25M1321.3 151.2l0.65 0.20M1323.1 152.6l0.74 0.11M1324.4 148.9l0.58 0.72M1327.5 149.8l0.30 1.25M1330 151.3l-0.59 0.91M1330.3 149l0.87 0.45M1331.3 150.3l0.58 0.83M1332.6 153.2l0.73 -1.01M1333.9 152.7l0.97 -0.21M1336.9 150.9l0.55 1.32M1337.7 157.4l0.79 -0.52M1338.2 152.4l1.17 0.57M1341.2 155.9l0.82 0.19M1342.4 153l0.41 -0.54M1344.4 153.2l0.72 -0.30M1346 153.1l1.15 -0.03M1346.5 154.5l1.06 -0.85M1347.5 149.7l0.79 -0.30M1349.1 150.2l0.98 0.22M1350.6 152.6l1.10 1.06M1353.2 153.2l0.60 0.56M1354.8 150.7l0.75 0.51M1356.9 151.5l1.07 -0.92M1358.3 148.9l0.68 0.03M1359.7 156.5l0.58 -1.07M1361.1 153.2l1.14 -0.01M1362.7 155l0.04 0.92M1365.2 152.2l0.41 0.90M1367.1 153.9l-0.08 0.78M1367.8 150.3l1.12 0.00M1369.1 153.3l0.75 -0.93M1370.5 157.5l0.64 0.23M1371.5 151.6l0.90 -0.41M1372.4 152.2l0.93 0.28M1374 153.6l0.66 0.08M1375.7 155.5l1.21 -0.48M1377 150.9l0.35 0.81M1378 155.3l0.78 -0.55M1379.1 155.3l0.37 -0.82M1379.9 151.8l1.05 -0.01M1381.4 154.5l1.21 -0.03M1382.9 156.6l0.71 -0.71M1384.4 155.5l1.37 0.12M1385.6 157.3l0.71 -0.24M1387.4 157.1l0.64 -1.08M1389.2 153l0.60 -0.27M1389.6 155.7l0.93 -0.94M1391.1 154.2l0.28 -0.79M1393.4 156l0.84 0.52M1395.7 157.5l0.57 1.41M1396.7 154.9l0.86 0.36M1397.7 157.1l0.79 0.89M1398.7 153.4l0.80 -0.27M1400.1 152.2l1.48 0.02M1401.7 154.3l0.80 0.19M1402.9 152.4l0.91 -0.42M1405.1 153.1l-0.58 1.00M1406.5 153.5l1.01 0.09M1407.9 152.2l1.01 0.27M1409 157.3l0.69 0.25M1410.6 153.7l0.73 0.01M1412.5 155.2l0.83 -0.19M1413.4 154.4l1.30 0.44M1415.6 156.7l0.70 -0.06M1416.6 157.2l1.25 -0.30M1417.5 157l0.95 -0.17M1418.1 156.2l1.33 0.15M1419.9 153.5l1.01 -1.13M1422.9 154.2l0.64 0.17M1423.8 156l1.38 0.46M1424.9 154.2l0.56 -0.45M1425.4 154l1.06 0.63M1427.4 156.8l0.19 1.31M1429.1 155.3l0.37 0.78M1430.9 155.1l0.56 0.84M1432.3 155.6l0.87 0.00M1434.3 157.1l0.50 0.63M1434.5 153.9l0.98 0.29M1435.5 155.4l0.75 0.92M1436.6 157.2l0.98 0.20M1437.4 154.9l0.74 0.42M1439.9 149.9l-0.17 0.94M1440.5 156.5l1.16 0.53M1442.2 158.7l0.93 -0.29M1442.8 161.2l0.74 -0.21M1443.5 155.7l1.09 -0.47M1444.2 153.7l0.72 -0.21M1445 155.8l0.85 0.13M1446.8 156.4l0.78 0.01M1447.2 157.7l1.30 -0.72M1448.6 154.7l1.17 0.03M1449.2 159.2l1.35 -0.45M1450.7 156.1l1.05 -0.18M1451.5 155l1.51 -0.03M1452.7 155.6l1.40 0.40M1454 153.2l0.76 -0.66M1455.9 155.3l0.56 -0.73M1456.5 154.8l0.46 -0.83M1457.3 157.2l1.16 -0.99M1457.8 158.5l1.21 0.04M1458.3 152.6l1.42 -0.63M1459.5 158.9l-0.28 -1.31M1459.4 154.7l1.02 0.20M1460.4 153.2l0.73 -0.01M1462.7 153.4l1.20 -0.53M1464.2 141.8l0.74 0.17" fill="none" stroke="#151213" stroke-width="2.9" stroke-linecap="round"/>
<path d="M92.3 124.5h0.01M92.6 128.2h0.01M92.9 131.8h0.01M93.1 135.6h0.01M92.7 139.2h0.01M93.3 142.6h0.01M95.5 143.4h0.01M1464.2 133.2h0.01M1464.5 136.9h0.01M1465.2 139.3h0.01M1464.3 141.3h0.01M1465 145.4h0.01M1464.7 146.3h0.01M1464.1 150.6h0.01M1464.7 151.2h0.01M1464.6 154.1h0.01M1464.3 157.1h0.01M1464.2 160.3h0.01" fill="none" stroke="#151213" stroke-width="3.0" stroke-linecap="round"/>
<path d="M971.5 368.7L972.7 368.7L973.9 368.8L975.1 368.8L976.3 368.9L977.5 369L978.7 369.2L979.9 369.3L981.1 369.5L982.3 369.6L983.5 369.7L984.7 369.8L985.9 370L987.1 370.1L988.3 370.4L989.5 370.7L990.7 371L991.8 371.3L993 371.5L994.1 371.8L995.2 372.1L996.2 372.6L997.3 373.3L998.3 374L999.3 374.8L1000.3 375.6L1001.2 376.3L1002.2 377L1003.1 377.6L1004.1 378.3L1005 379.1L1005.9 379.9L1006.8 380.7L1007.7 381.6L1008.6 382.5L1009.4 383.4L1010.2 384.3L1011.1 385.2L1011.9 386.1L1012.6 387L1013.4 387.8L1014.2 388.7L1015 389.5L1015.8 390.4L1016.5 391.3L1017.3 392.2L1018.1 393.2L1018.8 394.2L1019.6 395.2L1020.4 396.2L1021.1 397.1L1021.9 398.1L1022.7 399.1L1023.5 400.1L1024.3 401L1025.1 401.9L1025.9 402.8L1026.8 403.6L1027.6 404.5L1028.5 405.3L1029.4 406L1030.3 406.8L1031.3 407.5L1032.2 408.2L1033.2 408.8L1034.2 409.4L1035.3 410L1036.4 410.5L1037.5 411L1038.6 411.5L1039.7 412L1040.9 412.3L1042.1 412.4L1043.3 412.4L1044.4 412.4L1045.6 412.3L1046.8 412.4L1048 412.4L1049.2 412.5L1050.5 412.6L1051.7 412.6L1052.9 412.6L1054.1 412.6L1055.3 412.6L1056.5 412.5L1057.7 412.5L1058.9 412.4L1060.1 412.4L1061.3 412.5L1062.5 412.6L1063.7 412.6L1064.9 412.7L1066.1 412.7L1067.3 412.6L1068.6 412.4L1069.8 412.3L1071 412.3L1072.2 412.3L1073.4 412.4L1074.6 412.5L1075.8 412.6L1077 412.7L1078.2 412.7L1079.4 412.7L1080.6 412.7L1081.8 412.6L1083 412.6L1084.2 412.6L1085.4 412.6L1086.6 412.7L1087.8 412.7L1089 412.8L1090.2 412.8L1091.4 412.9L1092.6 413L1093.8 413L1095 413.1L1096.2 413.1L1097.4 413.1L1098.6 413.1L1099.8 413.1L1101 413.1L1102.2 413.2L1103.4 413.3L1104.6 413.4L1105.8 413.6L1107 413.8L1108.2 414.1L1109.4 414.4L1110.5 414.7L1111.7 415L1112.9 415.3L1114 415.6L1115.2 415.8L1116.4 416.1L1117.5 416.5L1118.6 416.9L1119.7 417.4L1120.8 417.9L1121.9 418.4L1123 418.9L1124.1 419.5L1125.2 420L1126.2 420.7L1127.1 421.4L1128.1 422.1L1129 422.9L1129.9 423.8L1130.7 424.7L1131.6 425.6L1132.4 426.5L1133.3 427.3L1134.1 428.2L1134.9 429.1L1135.6 430.1L1136.4 431L1137.1 431.9L1137.9 432.9L1138.6 433.8L1139.3 434.8L1140 435.7L1140.7 436.7L1141.4 437.7L1142.1 438.7L1142.8 439.7L1143.4 440.7L1144.1 441.7L1144.7 442.7L1145.3 443.8L1146 444.8L1146.5 445.8L1147.1 446.8L1147.7 447.9L1148.2 448.9L1148.8 450L1149.3 451L1149.9 452.1L1150.4 453.1L1150.9 454.2L1151.5 455.2L1152 456.3L1152.6 457.3L1153.1 458.4L1153.7 459.5L1154.2 460.5L1154.7 461.6L1155.3 462.7L1155.8 463.8L1156.4 464.9L1156.9 466L1157.4 467.1L1158 468.3L1158.5 469.4L1159 470.5L1159.5 471.7L1160.1 472.8L1160.6 473.9L1161.1 475L1161.6 476.2L1162.2 477.3L1162.7 478.4L1163.2 479.4L1163.7 480.5L1164.3 481.6L1164.8 482.6L1165.3 483.7L1165.8 484.7L1166.4 485.8L1166.9 486.8L1167.4 487.9L1168 489L1168.5 490.1L1169 491.2L1169.6 492.3L1170.1 493.4L1170.6 494.4L1171.2 495.5L1171.7 496.6L1172.3 497.6L1172.8 498.7L1173.3 499.7L1173.9 500.8L1174.4 501.8L1175 502.9L1175.5 503.9L1176.1 505L1176.6 506.1L1177.2 507.2L1177.7 508.3L1178.3 509.4L1178.8 510.5L1179.3 511.6L1179.9 512.7L1180.4 513.8L1180.9 514.9L1181.4 516L1181.9 517.1L1182.4 518.2L1182.9 519.3L1183.4 520.4L1183.9 521.4L1184.3 522.5L1184.8 523.6L1185.3 524.7L1185.7 525.8L1186.2 526.8L1186.7 527.9L1187.1 529L1187.6 530.1L1188.1 531.2L1188.5 532.3L1189 533.4L1189.5 534.5L1190 535.6L1190.4 536.7L1190.9 537.8L1191.3 538.9L1191.8 540L1192.2 541.1L1192.7 542.2L1193.2 543.4L1193.6 544.5L1194.1 545.6L1194.6 546.7L1195.1 547.8L1195.6 548.9L1196.1 550L1196.6 551.1L1197.1 552.2L1197.7 553.3L1198.2 554.4L1198.8 555.5L1199.4 556.5L1200 557.6L1200.6 558.7L1201.2 559.8L1201.7 560.8L1202.3 561.9L1202.9 563L1203.5 564L1204.1 565.1L1204.7 566.2L1205.2 567.2L1205.8 568.3L1206.4 569.3L1207 570.3L1207.6 571.4L1208.2 572.4L1208.9 573.4L1209.5 574.3L1210.2 575.3L1210.9 576.2L1211.6 577.2L1212.3 578.1L1213.1 579L1213.8 580L1214.6 580.9L1215.3 581.8L1216.1 582.7L1216.8 583.7L1217.6 584.6L1218.3 585.6L1219.1 586.6L1219.8 587.6L1220.6 588.5L1221.4 589.4L1222.2 590.3L1223 591.2L1223.8 592.1L1224.7 592.9L1225.6 593.7L1226.5 594.4L1227.4 595.2L1228.3 595.9L1229.3 596.7L1230.2 597.4L1231.1 598.2L1232.1 599L1233 599.8L1233.9 600.6L1234.9 601.4L1235.8 602.2L1236.8 603L1237.8 603.8L1238.7 604.6L1239.7 605.3L1240.7 606L1241.7 606.7L1242.6 607.3L1243.6 608L1244.6 608.6L1245.6 609.2L1246.6 609.8L1247.6 610.5L1248.6 611.2L1249.6 611.9L1250.6 612.6L1251.6 613.3L1252.6 613.9L1253.6 614.5L1254.6 615.1L1255.7 615.7L1256.7 616.2L1257.8 616.8L1258.9 617.3L1260 617.9L1261.1 618.4L1262.2 618.9L1263.3 619.4L1264.4 619.8L1265.5 620.3L1266.7 620.7L1267.8 621.2L1268.9 621.6L1270 622.1L1271.1 622.5L1272.3 622.9L1273.4 623.3L1274.5 623.7L1275.6 624L1276.8 624.5L1277.9 624.9L1279 625.4L1280.1 625.9L1281.3 626.4L1282.4 626.8L1283.5 627.2L1284.6 627.6L1285.6 628.1L1286.7 628.6L1287.8 629.3L1288.9 629.9L1289.9 630.6L1291 631.3L1292 631.9L1293.1 632.6L1294.1 633.2L1295.2 633.8L1296.2 634.3L1297.3 634.9L1298.3 635.4L1299.4 635.9L1300.4 636.5L1301.4 637.1L1302.4 637.7L1303.4 638.4L1304.4 639.1L1305.4 639.8L1306.3 640.5L1307.3 641.2L1308.2 641.9L1309.2 642.7L1310.1 643.4L1311 644.2L1312 644.9L1312.9 645.7L1313.8 646.5L1314.7 647.4L1315.6 648.2L1316.5 649L1317.4 649.8L1318.2 650.6L1319.1 651.4L1319.9 652.3L1320.7 653.1L1321.5 654L1322.3 655L1323.1 655.9L1323.9 656.9L1324.7 657.9L1325.5 658.9L1326.3 659.9L1327.1 660.8L1327.9 661.7L1328.7 662.5L1329.5 663.4L1330.2 664.3L1331 665.2L1331.8 666.1L1332.5 667L1333.3 668L1334.1 668.9L1334.9 669.9L1335.7 670.8L1336.5 671.7L1337.3 672.6L1338.1 673.5L1338.9 674.3L1339.7 675.1L1340.5 676L1341.4 676.8L1342.2 677.7L1343.1 678.6L1343.9 679.5L1344.8 680.3L1345.6 681.2L1346.5 682L1347.4 682.8L1348.3 683.5L1349.1 684.3L1350 685.1L1351 685.8L1351.9 686.7L1352.8 687.5L1353.7 688.3L1354.7 689.2L1355.6 690L1356.6 690.7L1357.6 691.4L1358.5 692.1L1359.5 692.7L1360.5 693.4L1361.6 693.9L1362.6 694.5L1363.7 695L1364.8 695.5L1366 695.9L1367.1 696.3L1368.2 696.6L1369.3 696.9L1370.5 697.2L1371.6 697.5L1372.8 697.9L1374 698.4L1375.1 698.9L1376.3 699.3L1377.5 699.6L1378.6 699.7L1379.8 699.8L1381 700L1382.1 700.2L1383.3 700.5L1384.5 700.8L1385.7 701.2L1386.8 701.5L1388 701.8L1389.2 702L1390.4 702.3L1391.5 702.5L1392.7 702.8L1393.9 703.1L1395.1 703.3L1396.2 703.6L1397.4 703.8L1398.6 704L1399.8 704.1L1401 704.3L1402.1 704.6L1403.3 704.9L1404.5 705.2L1405.7 705.5L1406.9 705.8L1408 706L1409.2 706.3L1410.4 706.5L1411.6 706.8L1412.7 707L1413.9 707.2L1415.1 707.5L1416.3 707.7L1417.4 707.9L1418.6 708.2L1419.8 708.4" fill="none" stroke="#16883c" stroke-width="1.7" stroke-linejoin="round" stroke-linecap="round"/>
<path d="M971.7 351.9l-0.50 -0.01M971.5 356.5l0.49 0.44M972 360.7l0.05 0.67M972.4 365.5l0.11 0.46M973.1 368.1l0.46 -0.04M975.3 369.9l-0.62 0.51M976.2 371.7l0.32 1.01M977.4 370.9l0.22 0.42M978.6 373l0.60 -0.01M980.2 374.9l0.45 0.12M980.9 373.6l1.02 0.20M983.3 376.8l-0.29 0.45M983.8 378.7l0.79 -0.13M985.5 379.2l-0.19 0.79M987.4 383.8l0.15 0.61M989.5 387.9l-0.18 0.42M990.8 390.4l0.19 1.01M991.9 395l0.85 -0.18M994.2 398.3l0.15 0.46M995 402.2l0.53 0.68M996.6 406.1l-0.03 0.78M997.2 409.2l0.51 0.37M998.6 412.5l-0.01 0.47M1000 417.5l-0.47 0.24M1000.8 422l-0.12 0.72M1001.3 425.5l0.75 0.58M1002.3 429.7l0.52 0.89M1003.7 432.8l-0.31 0.89M1004.7 436.5l-0.00 1.04M1005.8 440.7l0.27 0.86M1006.6 444.7l0.39 0.74M1008 449.2l0.15 0.60M1009.1 453.3l0.45 0.75M1011.1 457.4l-0.70 0.40M1011.8 460.4l-0.53 0.05M1013 464.7l-0.33 0.43M1013.9 468.9l0.58 0.63M1015.8 473.3l-0.57 0.64M1016.4 477.1l0.96 -0.28M1018.7 476.5l0.20 -0.59M1019.5 474.5l1.04 0.20M1021 472.6l0.14 -0.56M1022.8 469.6l0.50 -0.39M1024.6 467.2l-0.30 -0.74M1025.3 462.1l-0.04 -0.47M1026.3 457.7l-0.23 -0.47M1027 454.4l-0.04 -0.84M1027.9 450.1l-0.19 -1.01M1028.9 445.8l-0.70 -0.72M1029.3 441.6l0.04 -0.73M1030.3 437.7l-0.01 -1.02M1030.7 433.4l0.32 -0.90M1031.5 428.5l0.54 0.09M1032.3 424.7l0.49 -0.68M1033.3 420.5l0.16 -0.53M1034 416.3l-0.11 -0.52M1034.9 412.5l-0.35 -1.01M1035.3 407.9l0.72 -0.65M1036.6 403.7l-0.25 -0.47M1037.5 399.8l-0.22 -0.94M1038.5 395l-0.55 -0.61M1038.7 390l0.55 0.45M1040 386.6l0.48 -0.46M1040.7 383.5l0.53 -0.73M1041.8 380l-0.47 -0.94M1042.5 374.7l0.51 0.16M1044 371.2l-0.12 -0.72M1045.7 367.9l-0.35 -0.62M1046.7 365.1l0.83 -0.34M1048 362.7l-0.34 -0.91M1049.3 361.3l0.68 -0.18M1051.4 359l0.37 -0.69M1052.8 358.2l0.09 0.49M1054.3 358.4l0.79 -0.00M1055.8 361.5l0.49 0.44M1057.2 359.9l0.40 0.30M1058.4 364.6l0.98 -0.09M1059.8 363.1l0.22 0.43M1061.2 367.1l0.49 0.01M1062.9 365.1l0.37 -0.40M1064.4 365.9l0.32 0.48M1064.8 367.5l0.66 0.30M1066.4 368.1l0.64 -0.30M1067.4 365.9l0.29 -0.81M1068.3 366l0.49 -0.82M1068.7 366l1.02 0.18M1069.8 364.7l0.43 -0.63M1070.5 363.1l0.56 -0.20M1071.7 367.8l-0.05 -0.85M1072.5 365.7l0.41 0.23M1073.5 367.4l0.85 -0.56M1074.1 363.7l0.97 0.13M1074.6 364.1l0.56 0.23M1075.8 365.4l0.54 0.09M1077.3 366.4l1.01 0.11M1078.7 362.9l0.88 -0.49M1079.1 367l0.79 -0.37M1080.7 363.1l0.41 0.74M1081.2 361.8l0.41 0.95M1082.1 360.2l1.03 0.19M1083.4 361.8l0.43 -0.13M1085.7 360.6l-0.14 -0.60M1086.1 359.7l0.52 -0.05M1088 360.2l-0.01 -0.74M1088.8 359.5l0.89 -0.02M1090.1 359.9l0.22 0.41M1091.5 358.1l0.46 -0.01M1093.1 357.1l1.03 -0.13M1094.4 359.4l0.40 0.32M1095.4 360.7l0.34 0.61M1096.4 360.9l-0.12 0.74M1098.2 364.9l0.74 -0.53M1099.7 367.6l0.62 -0.14M1101.5 368.7l0.72 0.64M1103.2 368.8l-0.58 0.62M1104.1 373.9l0.93 0.13M1106.3 374.2l0.46 0.20M1108.1 377.3l0.13 0.47M1108.7 380.4l0.57 0.72M1110.4 381.8l0.42 0.28M1111.9 382.9l0.04 0.70M1113.6 386.9l-0.15 0.97M1114.8 391.1l0.48 0.38M1116.5 393.5l0.11 0.91M1117.8 397.5l0.27 0.91M1119.7 401.6l0.16 0.82M1120.4 403.9l0.34 0.76M1122 408.7l-0.19 0.54M1122.7 413l0.17 1.06M1123.7 417.7l-0.52 0.31M1124.5 420.8l-0.75 0.68M1124.9 425.1l0.29 1.02M1125.9 429.8l-0.66 0.60M1126.6 434.3l-0.52 0.01M1127.3 438.5l-0.59 0.24M1127.8 441.7l0.01 0.95M1128.2 446.5l0.57 0.39M1128.8 451.2l0.71 0.61M1129.9 455l-0.03 0.84M1130.3 459.3l0.86 -0.19M1132 463.3l-0.42 0.95M1132.3 467.7l0.36 0.62M1133.3 472l-0.02 0.54M1134.3 476.6l-0.56 0.77M1134.6 479.3l0.35 0.50M1135.2 484.3l0.25 -0.49M1137 488.9l-0.99 0.35M1137 493.4l0.62 0.04M1138 497.1l0.23 0.57M1138.9 501.2l-0.36 0.60M1139.4 505.2l0.13 0.91M1140.1 510.1l0.10 0.72M1140.9 513.6l-0.10 0.80M1141.1 518l0.66 0.75M1142.2 522.4l-0.22 0.55M1142.8 526.4l0.29 0.42M1143.4 530.6l0.32 0.52M1144 534.4l0.36 1.01M1145.1 539.4l-0.24 0.40M1145.9 542.6l-0.43 0.52M1146.8 545.4l0.32 -0.95M1147.4 542.4l0.43 -0.51M1150 537.4l-0.63 -0.28M1150 532.7l0.60 0.61M1151.2 529.4l0.73 0.15M1152 525.2l0.73 -0.52M1153.3 520.9l0.42 -0.96M1155.1 519.1l0.45 0.70M1156.8 523.9l-0.91 -0.33M1157.1 528.2l0.86 0.23M1157.8 532l0.79 -0.01M1159.2 535.4l-0.43 0.21M1159.8 539.8l0.45 0.43M1161.2 544.1l0.24 0.54M1162.5 548.6l-0.07 0.50M1163.3 550.2l0.47 0.32M1165.1 556.2l-0.11 0.96M1165.9 556l0.38 0.33M1167.1 560.9l0.81 -0.19M1169.3 563l-0.01 0.95M1170.9 563l-0.36 0.85M1172.2 565.5l0.34 0.47M1173.3 567.4l0.80 0.19M1174.8 571.1l0.95 -0.40M1176.4 571.4l-0.08 0.95M1177.9 571.9l-0.44 0.75M1179 573.7l0.19 0.44M1180.4 576.4l-0.03 1.07M1181 578.3l0.61 0.79M1183 580.7l0.18 0.54M1184 584.9l0.45 0.41M1185.6 590l0.82 0.38M1187.2 594.1l-0.71 0.50M1188.3 598.2l-0.77 0.71M1189.3 601.6l0.11 -0.53M1189.9 596.5l0.76 0.04M1190.6 592.3l0.24 -0.59M1191.3 588.4l-0.13 -0.94M1192.1 584.3l-0.32 -0.68M1192.2 579.8l0.47 -0.22M1192.9 576.3l0.25 -1.03M1193.8 571.6l-0.26 -0.41M1194.1 567l0.27 -0.45M1194.6 563.2l0.61 -0.71M1195.2 558.7l0.57 -0.73M1196.1 553.9l0.25 -0.48M1196.6 549.8l0.39 -0.88M1197.4 546l0.01 -0.73M1197.9 541.2l0.32 -0.45M1198.8 538.5l-0.31 -1.01M1199.8 534.6l-0.23 -0.62M1200.2 531.1l0.74 -0.72M1201.9 526.6l0.63 -0.34M1202.9 523.2l0.45 -0.69M1203.9 520.5l0.79 -0.43M1205.8 516.4l0.50 -0.10M1207.2 512.8l0.67 0.25M1208.6 508.9l-0.18 -0.81M1209.1 504.3l0.91 -0.32M1210.1 500.3l0.77 0.05M1211.6 495.6l-0.54 -0.05M1212.3 492.1l-0.17 -0.97M1213 487.1l-0.06 -0.48M1213.7 482.8l-0.46 -0.86M1213.8 478.4l0.47 -0.54M1214.9 474.3l1.00 -0.03M1215.9 473.1l0.91 -0.54M1217.6 470l0.59 -0.50M1219.9 465.6l0.13 -0.59M1221.8 462.1l0.42 -0.88M1223.5 460.2l0.38 -0.73M1224.3 457.3l0.31 -0.62M1225.3 454l0.73 -0.36M1228 449l0.30 -0.48M1228.9 445l0.89 -0.22M1230.7 442.2l0.32 -0.92M1232 438.2l0.56 -0.42M1233.5 434.2l0.60 -0.28M1234.8 432.4l0.39 -0.84M1236.4 427.9l0.52 -0.21M1238.3 425.6l-0.21 -0.63M1239.5 424.6l0.42 -0.36M1241.2 421.6l-0.12 -1.01M1242.4 422l0.05 -0.95M1243.4 419.2l0.56 -0.50M1244.8 417.5l0.69 0.00M1246.1 417.4l0.97 -0.42M1248 414.4l0.58 -0.35M1249 411.8l0.64 -0.01M1251.4 410.2l0.67 -0.31M1252.4 409.1l0.38 -0.64M1254.7 406.4l-0.71 -0.70M1255.2 405.7l0.64 -0.48M1256.2 403l0.52 -0.36M1257.7 406.5l-0.19 -1.06M1257.9 405.1l0.75 -0.17M1259.3 403.2l0.45 0.48M1260.2 402.8l0.55 0.09M1261 403.9l0.69 0.51M1261.7 404.2l0.37 -0.39M1262.3 403.2l0.49 0.02M1263 401.2l0.77 0.41M1264.6 404l0.88 0.55M1266.1 401.1l0.70 0.17M1266.9 402.1l0.64 -0.03M1267.5 401.5l1.00 0.15M1268.3 401.2l0.92 0.16M1269.2 402.8l1.05 -0.13M1270.1 398.6l0.36 0.93M1270.9 402.8l0.61 0.27M1271.6 402.7l0.58 -0.13M1272.5 403.2l0.75 0.09M1273.8 403.6l0.89 -0.08M1275 401.2l0.50 -0.38M1275.3 403.9l0.63 0.61M1275.6 400.9l0.92 0.55M1276.5 403.6l0.67 0.42M1277.9 403.8l0.78 0.02M1279.2 405.8l0.60 -0.06M1281.7 406.2l-0.36 0.49M1282.8 407l0.68 -0.51M1284.3 408.2l0.00 0.80M1285.2 409.1l0.58 0.17M1286.4 409l0.55 -0.21M1287.9 409.4l0.41 0.64M1289 411l1.00 -0.00M1290.9 409.5l0.19 0.51M1292.3 410.3l0.31 0.68M1293.1 412.3l0.18 0.41M1294.4 414.3l0.36 0.84M1295.9 415.7l0.56 0.40M1297.4 416.8l0.69 0.17M1298.5 416.4l0.61 0.66M1300.2 419.8l0.59 0.24M1302.2 423.4l0.88 -0.13M1303.8 425.2l0.95 -0.06M1306.2 427.1l0.28 0.50M1307.7 430.4l0.44 0.89M1309.3 432.3l0.87 0.10M1310.7 434.9l0.42 0.62M1312.6 439.1l0.77 0.38M1313.8 440.8l0.21 0.50M1315.3 445.8l0.10 0.60M1316.3 448.2l0.71 0.28M1318.1 451.6l0.11 0.96M1319.7 455.6l-0.36 0.99M1320.7 460.4l0.34 0.31M1322.1 461.3l0.32 0.98M1322.7 465.3l0.52 0.75M1324.4 468.7l0.56 0.22M1326.4 469.5l0.26 -0.54M1327.6 469.7l0.61 0.44M1328.2 471.1l1.02 0.08M1329.8 469.1l-0.13 -0.44M1332.9 464.1l0.26 -0.39M1334.4 461.6l-0.11 -1.06M1335.5 459.8l0.62 -0.83M1336.9 461.3l0.29 -0.72M1338.4 457.7l0.43 0.24M1340.3 458.4l0.96 -0.19M1341.2 457.2l0.32 0.57M1342.7 456.8l-0.11 -0.98M1343 457l0.80 -0.13M1344.9 457.9l0.18 -0.73M1345.6 455.1l0.35 -0.45M1347.1 456.5l-0.27 -0.69M1348.1 452.9l0.71 0.35M1349 455.1l0.74 -0.08M1350.7 453.8l0.50 -0.10M1351.7 453.8l0.55 0.14M1352.4 452.7l-0.00 -0.53M1353.4 454.1l0.78 0.40M1354.3 454.8l0.77 -0.06M1355.1 451.4l0.71 -0.32M1356.6 449.2l0.47 -0.48M1357.9 443.6l0.21 -0.77M1359.1 439.4l-0.48 -0.90M1359.3 435.7l0.02 -0.93M1359.9 430.8l0.51 -0.06M1361.1 426.4l-0.35 -0.59M1361.8 422.1l0.16 -0.81M1362.6 418l0.50 -0.39M1363.8 413.5l-0.27 -0.53M1364.5 409.6l0.18 -0.50M1365.2 405.3l0.29 -0.96M1366.8 402l-0.09 -0.44M1368.2 398l0.36 -0.46M1370.3 394.1l-0.20 -0.76M1372 391.2l-0.18 -0.71M1373.1 389.8l0.34 0.49M1374.7 386.8l0.43 -0.26M1376.7 385l0.17 -0.64M1378 383.9l-0.11 -0.50M1379.8 384l0.41 0.28M1380.7 383.6l0.63 -0.14M1381.4 383.8l0.76 0.50M1382 381.6l0.88 0.59M1383.5 381.9l0.33 -0.39M1384.2 384.4l0.75 0.31M1385.2 384.5l0.19 -0.54M1385.6 382.6l0.24 0.56M1386 385.4l0.87 -0.23M1386.7 384.5l0.51 0.48M1389.2 385.1l0.43 -0.56M1390.8 385.5l-0.33 0.76M1390.9 383.9l0.41 -0.25M1391.2 384.9l0.83 -0.55M1391.9 384.7l0.70 0.51M1393 387.2l0.40 -0.48M1393.6 383l0.48 -0.28M1393.8 384.5l0.80 0.17M1395.2 383.7l0.02 0.57M1395.5 384.6l0.18 0.42M1395.7 383.3l0.90 -0.18M1396.8 385.5l0.45 -0.24M1397.5 385l0.55 0.47M1398.8 384.4l-0.45 -0.91M1399.1 385.2l0.39 -0.58M1399.4 387.2l0.51 -0.54M1399.6 384.4l0.77 -0.35M1400.2 385l0.64 -0.07M1401 383.1l0.38 0.28M1401.3 385.3l0.61 0.19M1401.9 386.2l0.87 0.40M1403.2 385.1l0.67 0.18M1404.3 387.2l-0.47 -0.49M1404.3 384.4l0.51 -0.15M1404.9 388l0.25 0.44M1404.9 383.5l0.58 0.79M1405.5 384.7l0.36 0.51M1405.8 386.3l0.57 -0.46M1406.1 386.3l1.06 -0.12M1406.9 385.8l0.99 -0.02M1407.9 387.4l0.45 -0.24M1408.9 384.8l0.33 0.31M1409.1 385.8l1.02 -0.17M1410 386.3l0.68 0.44M1411 386.7l0.71 -0.15M1411.8 385.5l0.41 -0.92M1412.7 387l-0.00 -0.82M1413.1 385.5l0.22 0.72M1414.4 385.8l0.73 -0.75M1415.7 383.5l0.62 -0.08M1417 383.5l0.91 -0.20M1418.6 382.9l0.48 -0.31M1419.4 381.3l0.61 -0.11" fill="none" stroke="#1d1a1b" stroke-width="1.6" stroke-linecap="round"/>
<path d="M971.5 774.3L971.7 773.2L972 772.2L972.3 771.1L972.7 770.1L973.1 769L973.5 768L973.9 767L974.3 766L974.7 765L975.1 763.9L975.6 762.9L976 761.9L976.4 760.9L976.8 759.8L977.2 758.8L977.6 757.8L978 756.8L978.4 755.7L978.8 754.7L979.3 753.7L979.7 752.7L980.1 751.7L980.5 750.6L980.9 749.6L981.3 748.6L981.7 747.6L982 746.5L982.4 745.5L982.7 744.4L983.1 743.4L983.4 742.3L983.8 741.3L984.1 740.2L984.4 739.2L984.8 738.1L985.1 737.1L985.4 736L985.8 735L986.1 733.9L986.5 732.9L986.8 731.8L987.1 730.8L987.4 729.7L987.7 728.7L987.9 727.6L988.1 726.5L988.3 725.4L988.5 724.4L988.6 723.3L988.8 722.2L989 721.1L989.1 720L989.3 718.9L989.4 717.8L989.6 716.7L989.7 715.6L989.9 714.5L990 713.4L990.1 712.4L990.2 711.3L990.4 710.2L990.5 709.1L990.6 708L990.8 706.9L990.9 705.8L991 704.7L991.2 703.6L991.3 702.5L991.4 701.4L991.6 700.3L991.7 699.2L991.8 698.1L992 697L992.1 695.9L992.2 694.8L992.3 693.7L992.5 692.7L992.6 691.6L992.7 690.5L992.8 689.4L993 688.3L993.1 687.2L993.2 686.1L993.3 685L993.4 683.9L993.6 682.8L993.7 681.7L993.8 680.6L993.9 679.5L994 678.4L994.2 677.3L994.3 676.2L994.4 675.1L994.5 674L994.7 673L994.8 671.9L994.9 670.8L995 669.7L995.2 668.6L995.3 667.5L995.4 666.4L995.6 665.3L995.7 664.2L995.8 663.1L996 662L996.1 660.9L996.2 659.8L996.4 658.7L996.5 657.6L996.6 656.6L996.8 655.5L996.9 654.4L997 653.3L997.2 652.2L997.3 651.1L997.4 650L997.5 648.9L997.7 647.8L997.8 646.7L997.9 645.6L998.1 644.5L998.2 643.4L998.3 642.3L998.4 641.2L998.6 640.1L998.7 639.1L998.8 638L998.9 636.9L999 635.8L999.1 634.7L999.2 633.6L999.4 632.5L999.5 631.4L999.6 630.3L999.7 629.2L999.8 628.1L999.9 627L1000 625.9L1000.1 624.8L1000.2 623.7L1000.3 622.6L1000.4 621.5L1000.5 620.4L1000.6 619.3L1000.7 618.2L1000.8 617.1L1000.9 616L1001 614.9L1001.1 613.8L1001.2 612.7L1001.3 611.6L1001.4 610.6L1001.5 609.5L1001.6 608.4L1001.7 607.3L1001.8 606.2L1001.9 605.1L1002 604L1002.1 602.9L1002.2 601.8L1002.3 600.7L1002.4 599.6L1002.5 598.5L1002.6 597.4L1002.7 596.3L1002.8 595.2L1002.8 594.1L1002.9 593L1003 591.9L1003.1 590.8L1003.2 589.7L1003.3 588.6L1003.4 587.5L1003.5 586.4L1003.6 585.3L1003.7 584.2L1003.8 583.1L1003.9 582L1004 580.9L1004.1 579.8L1004.2 578.7L1004.3 577.6L1004.4 576.5L1004.5 575.5L1004.6 574.4L1004.7 573.3L1004.8 572.2L1004.9 571.1L1005 570L1005.1 568.9L1005.2 567.8L1005.2 566.7L1005.3 565.6L1005.4 564.5L1005.5 563.4L1005.6 562.3L1005.7 561.2L1005.8 560.1L1005.9 559L1006 557.9L1006.1 556.8L1006.2 555.7L1006.3 554.6L1006.4 553.5L1006.5 552.4L1006.6 551.3L1006.7 550.2L1006.8 549.1L1006.9 548L1007 546.9L1007.1 545.8L1007.2 544.7L1007.3 543.6L1007.4 542.5L1007.5 541.4L1007.6 540.3L1007.6 539.2L1007.7 538.2L1007.8 537.1L1007.9 536L1008 534.9L1008.1 533.8L1008.2 532.7L1008.3 531.6L1008.4 530.5L1008.5 529.4L1008.6 528.3L1008.7 527.2L1008.8 526.1L1008.9 525L1009 523.9L1009.1 522.8L1009.2 521.7L1009.2 520.6L1009.3 519.5L1009.4 518.4L1009.5 517.3L1009.6 516.2L1009.7 515.1L1009.8 514L1009.9 512.9L1010 511.8L1010 510.7L1010.1 509.6L1010.2 508.5L1010.3 507.4L1010.4 506.3L1010.5 505.2L1010.6 504.1L1010.7 503L1010.7 501.9L1010.8 500.8L1010.9 499.7L1011 498.6L1011.1 497.5L1011.2 496.4L1011.3 495.4L1011.3 494.3L1011.4 493.2L1011.5 492.1L1011.6 491L1011.7 489.9L1011.8 488.8L1011.9 487.7L1012 486.6L1012 485.5L1012.1 484.4L1012.2 483.3L1012.3 482.2L1012.4 481.1L1012.5 480L1012.6 478.9L1012.7 477.8L1012.8 476.7L1012.9 475.6L1013 474.5L1013.1 473.4L1013.2 472.3L1013.3 471.2L1013.4 470.1L1013.5 469L1013.6 467.9L1013.7 466.8L1013.8 465.7L1013.9 464.6L1014 463.5L1014.1 462.4L1014.2 461.3L1014.3 460.2L1014.4 459.1L1014.5 458.1L1014.6 457L1014.7 455.9L1014.8 454.8L1014.9 453.7L1015 452.6L1015.1 451.5L1015.2 450.4L1015.3 449.3L1015.4 448.2L1015.5 447.1L1015.6 446L1015.7 444.9L1015.8 443.8L1015.9 442.7L1016 441.6L1016.2 440.5L1016.3 439.4L1016.4 438.3L1016.5 437.2L1016.7 436.1L1016.8 435L1016.9 433.9L1017.1 432.9L1017.2 431.8L1017.4 430.7L1017.6 429.6L1017.7 428.5L1017.9 427.4L1018.1 426.3L1018.2 425.2L1018.4 424.1L1018.6 423L1018.9 422L1019.1 420.9L1019.4 419.8L1019.7 418.7L1020.2 417.4L1020.8 416.3L1021.3 415.6L1021.8 415.7L1022.4 416.5L1022.9 417.7L1023.3 419L1023.7 420.1L1024 421.1L1024.2 422.2L1024.5 423.3L1024.7 424.3L1024.9 425.4L1025.1 426.5L1025.2 427.6L1025.4 428.7L1025.5 429.8L1025.7 430.9L1025.8 432L1025.9 433.1L1026 434.2L1026.1 435.3L1026.2 436.4L1026.3 437.5L1026.4 438.6L1026.5 439.7L1026.6 440.8L1026.7 441.9L1026.8 443L1026.9 444.1L1027 445.2L1027 446.3L1027.1 447.4L1027.2 448.5L1027.3 449.5L1027.4 450.6L1027.5 451.7L1027.6 452.8L1027.7 453.9L1027.8 455L1027.9 456.1L1027.9 457.2L1028 458.3L1028.1 459.4L1028.2 460.5L1028.3 461.6L1028.4 462.7L1028.5 463.8L1028.6 464.9L1028.7 466L1028.8 467.1L1028.9 468.2L1028.9 469.3L1029 470.4L1029.1 471.5L1029.2 472.6L1029.3 473.7L1029.4 474.8L1029.5 475.9L1029.6 477L1029.7 478.1L1029.8 479.2L1029.9 480.3L1030 481.4L1030 482.5L1030.1 483.6L1030.2 484.7L1030.3 485.8L1030.4 486.9L1030.4 488L1030.5 489.1L1030.6 490.2L1030.6 491.3L1030.7 492.4L1030.8 493.5L1030.8 494.6L1030.9 495.7L1031 496.8L1031 497.9L1031.1 499L1031.1 500.1L1031.2 501.2L1031.3 502.3L1031.3 503.4L1031.4 504.5L1031.4 505.6L1031.5 506.7L1031.5 507.8L1031.6 508.9L1031.7 510L1031.7 511.1L1031.8 512.2L1031.8 513.3L1031.9 514.4L1032 515.4L1032 516.5L1032.1 517.6L1032.2 518.7L1032.2 519.8L1032.3 520.9L1032.4 522L1032.4 523.1L1032.5 524.2L1032.5 525.3L1032.6 526.4L1032.7 527.5L1032.7 528.6L1032.8 529.7L1032.9 530.8L1032.9 531.9L1033 533L1033.1 534.1L1033.1 535.2L1033.2 536.3L1033.3 537.4L1033.3 538.5L1033.4 539.6L1033.5 540.7L1033.6 541.8L1033.6 542.9L1033.7 544L1033.8 545.1L1033.8 546.2L1033.9 547.3L1034 548.4L1034.1 549.5L1034.1 550.6L1034.2 551.7L1034.3 552.8L1034.4 553.9L1034.5 555L1034.5 556.1L1034.6 557.2L1034.7 558.3L1034.8 559.4L1034.9 560.5L1035 561.6L1035.1 562.7L1035.1 563.8L1035.2 564.9L1035.3 566L1035.4 567.1L1035.5 568.2L1035.6 569.3L1035.7 570.4L1035.8 571.5L1035.9 572.6L1035.9 573.7L1036 574.8L1036.1 575.9L1036.2 577L1036.3 578.1L1036.4 579.2L1036.5 580.3L1036.6 581.4L1036.7 582.5L1036.8 583.5L1036.9 584.6L1037 585.7L1037.1 586.8L1037.2 587.9L1037.2 589L1037.3 590.1L1037.4 591.2L1037.5 592.3L1037.6 593.4L1037.7 594.5L1037.8 595.6L1037.9 596.7L1038 597.8L1038.1 598.9L1038.2 600L1038.3 601.1L1038.4 602.2L1038.5 603.3L1038.6 604.4L1038.7 605.5L1038.8 606.6L1038.9 607.7L1039 608.8L1039.1 609.9L1039.2 611L1039.3 612.1L1039.4 613.2L1039.5 614.3L1039.6 615.4L1039.7 616.5L1039.8 617.6L1039.9 618.7L1040 619.7L1040.1 620.8L1040.2 621.9L1040.3 623L1040.4 624.1L1040.5 625.2L1040.6 626.3L1040.7 627.4L1040.8 628.5L1040.9 629.6L1041 630.7L1041.1 631.8L1041.2 632.9L1041.3 634L1041.4 635.1L1041.5 636.2L1041.6 637.3L1041.7 638.4L1041.8 639.5L1041.9 640.6L1042 641.7L1042.1 642.8L1042.2 643.9L1042.3 645L1042.4 646.1L1042.5 647.2L1042.6 648.3L1042.8 649.4L1042.9 650.4L1043 651.5L1043.1 652.6L1043.2 653.7L1043.3 654.8L1043.4 655.9L1043.5 657L1043.6 658.1L1043.7 659.2L1043.8 660.3L1043.9 661.4L1044 662.5L1044.2 663.6L1044.3 664.7L1044.4 665.8L1044.5 666.9L1044.6 668L1044.8 669.1L1044.9 670.2L1045 671.3L1045.2 672.3L1045.3 673.4L1045.4 674.5L1045.5 675.6L1045.7 676.7L1045.8 677.8L1045.9 678.9L1046.1 680L1046.2 681.1L1046.3 682.2L1046.5 683.3L1046.6 684.4L1046.8 685.5L1046.9 686.6L1047.1 687.7L1047.2 688.8L1047.4 689.9L1047.6 691L1047.7 692.1L1047.9 693.2L1048.1 694.2L1048.3 695.3L1048.5 696.4L1048.8 697.4L1049 698.5L1049.3 699.6L1049.5 700.6L1049.9 701.7L1050.2 702.7L1050.6 703.8L1051 704.8L1051.4 705.9L1051.8 706.9L1052.3 707.9L1052.7 708.9L1053.2 709.9L1053.7 710.8L1054.2 711.8L1054.8 712.7L1055.4 713.6L1056.1 714.5L1056.7 715.4L1057.4 716.3L1058.1 717.2L1058.7 718.1L1059.3 719L1059.9 719.9L1060.6 720.8L1061.2 721.8L1061.8 722.7L1062.5 723.5L1063.2 724.4L1064 725.4L1064.9 726.4L1065.7 727L1066.5 727.3L1067.2 726.8L1067.9 725.8L1068.7 724.8L1069.5 724.2L1070.6 723.7L1071.6 723.5L1072.5 723.9L1073.4 724.7L1074.3 725.5L1075.2 726.1L1076.3 726.4L1077.4 726.7L1078.4 727L1079.3 727.6L1080.1 728.5L1080.8 729.6L1081.5 730.4L1082.4 730.5L1083.6 730.5L1084.7 730.5L1085.8 730.6L1086.9 730.8L1087.9 731L1088.9 731.4L1089.7 732.1L1090.6 732.9L1091.5 733.7L1092.4 734.2L1093.4 734.7L1094.5 735.1L1095.6 735.4L1096.6 735.5L1097.5 735L1098.3 734.1L1099.2 733.4L1100.2 732.8L1101.1 732.5L1102 733.1L1102.9 733.9L1103.8 734.7L1104.8 735.3L1105.6 735.4L1106.4 734.9L1107.1 733.9L1107.8 732.8L1108.6 731.9L1109.3 731L1110.1 730.1L1111 729.4L1111.9 729.3L1113 729.4L1114.1 729.4L1115.3 729.5L1116.4 729.5L1117.5 729.4L1118.7 729.1L1119.8 728.8L1120.8 728.4L1121.6 727.9L1122.2 727.2L1122.8 726.3L1123.3 725.1L1123.8 724L1124.2 723L1124.7 722L1125.1 721L1125.5 720L1125.9 719L1126.3 717.9L1126.7 716.9L1127.1 715.9L1127.6 714.9L1128 713.9L1128.4 712.8L1128.9 711.8L1129.3 710.8L1129.8 709.8L1130.2 708.8L1130.7 707.8L1131.1 706.8L1131.6 705.8L1132 704.8L1132.5 703.8L1132.9 702.8L1133.3 701.8L1133.8 700.8L1134.2 699.7L1134.7 698.7L1135.1 697.7L1135.6 696.8L1136.1 695.8L1136.6 694.7L1137.1 693.4L1137.6 692.2L1138.1 690.9L1138.7 689.8L1139.2 688.7L1139.8 688L1140.4 687.5L1141.1 687.3L1141.8 687.6L1142.6 688.3L1143.5 689.3L1144.4 690.3L1145.1 691.1L1145.9 692L1146.6 692.8L1147.3 693.6L1148 694.5L1148.6 695.4L1149.2 696.3L1149.8 697.3L1150.3 698.2L1150.8 699.2L1151.3 700.2L1151.8 701.2L1152.3 702.2L1152.9 703.2L1153.4 704.4L1153.9 705.6L1154.5 706.8L1155.1 707.8L1155.6 708.4L1156.2 708.5L1156.8 707.9L1157.4 706.9L1158 705.7L1158.6 704.6L1159.3 703.6L1160 702.5L1160.7 701.5L1161.4 701L1162.2 701.3L1163.2 702.1L1164.1 702.8L1165.2 703.2L1166.4 703.4L1167.4 703.5L1168.2 703.4L1168.8 702.8L1169.4 701.8L1169.9 700.6L1170.4 699.3L1170.9 698.2L1171.5 697.2L1172.1 696L1172.7 694.8L1173.3 693.9L1173.9 693.5L1174.6 693.8L1175.3 694.6L1176 695.7L1176.8 696.8L1177.6 697.6L1178.4 698.5L1179.2 699.4L1180.1 699.8L1181 699.7L1182 699.3L1183 698.8L1184 698.2L1185 697.6L1186.1 697.1L1187.1 696.9L1188.3 696.6L1189.4 696.4L1190.5 696.2L1191.6 696.1L1192.6 696L1193.5 696.2L1194.3 697L1195 698L1195.8 698.9L1196.7 699.6L1197.6 700.3L1198.6 700.9L1199.6 701.1L1200.6 701.3L1201.8 701.4L1202.9 701.5L1204 701.4L1205.2 701.3L1206.2 701.1L1207 700.8L1207.6 700.2L1208.1 699.3L1208.6 698.3L1209 697.2L1209.4 696L1209.9 694.8L1210.3 693.6L1210.8 692.5L1211.3 691.4L1211.8 690.3L1212.4 689L1213 687.8L1213.6 686.7L1214.1 685.7L1214.7 685.1L1215.3 684.8L1215.8 685L1216.3 685.7L1216.8 686.6L1217.3 687.8L1217.8 689.1L1218.3 690.4L1218.8 691.6L1219.3 692.6L1219.8 693.8L1220.4 695L1220.9 696.3L1221.5 697.3L1222.1 698.1L1222.6 698.5L1223.2 698.3L1223.8 697.6L1224.5 696.5L1225.1 695.3L1225.8 694.2L1226.5 693.4L1227.2 692.5L1228 691.7L1228.9 691.1L1229.8 690.6L1230.9 690.3L1232 690L1233.1 690L1234.2 690.1L1235.3 690.4L1236.4 690.6L1237.3 691L1238.3 691.6L1239.3 692.2L1240.3 692.6L1241.4 693L1242.5 693.4L1243.5 693.5L1244.4 693.3L1245.1 692.7L1245.9 691.8L1246.6 690.8L1247.4 689.8L1248.1 688.8L1249 688.1L1249.8 687.2L1250.8 686.4L1251.7 685.6L1252.6 685L1253.4 684.8L1254.3 685L1255.1 685.6L1255.8 686.4L1256.6 687.4L1257.4 688.4L1258.2 689.3L1259.1 690L1259.9 690.9L1260.8 691.8L1261.7 692.6L1262.6 693.2L1263.4 693.5L1264.2 693.2L1264.9 692.2L1265.7 691.2L1266.6 690.6L1267.6 690L1268.6 689.8L1269.5 690.2L1270.4 691L1271.2 691.8L1272.1 692.6L1273 693.3L1274 694L1274.9 694.6L1275.9 694.8L1277 694.7L1278 694.5L1279.1 694.3L1280.2 693.9L1281.3 693.7L1282.4 693.4L1283.5 693.2L1284.6 693.1L1285.7 692.9L1286.8 692.7L1287.9 692.5L1288.8 692.2L1289.8 691.7L1290.6 691L1291.5 690.3L1292.3 689.5L1293.2 688.7L1294.1 688.1L1295 687.5L1296 686.8L1296.9 686.2L1297.8 685.5L1298.5 684.8L1299.1 683.9L1299.6 683L1300.1 682L1300.6 680.9L1301.2 680L1301.8 679.1L1302.5 678L1303.2 677L1304 676.3L1304.9 676L1305.9 676.2L1307.1 676.4L1308.2 676.5L1309.3 676.4L1310.4 676.2L1311.4 675.9L1312.4 675.4L1313.3 674.8L1314.2 674.1L1315.1 673.4L1316.1 672.8L1317 672.2L1317.9 671.6L1318.7 670.8L1319.3 670L1319.9 669.1L1320.5 668.2L1321.1 667.2L1321.6 666.2L1322.2 665.2L1322.7 664.3L1323.3 663.3L1323.8 662.4L1324.4 661.4L1324.9 660.4L1325.4 659.5L1326 658.5L1326.5 657.6L1327.1 656.6L1327.6 655.6L1328.2 654.7L1328.8 653.8L1329.4 652.9L1330.2 652.1L1330.9 651.3L1331.7 650.5L1332.4 649.7L1333.2 648.9L1334 648.2L1334.9 647.4L1335.7 646.7L1336.5 646L1337.4 645.3L1338.2 644.6L1339.1 643.9L1340 643.2L1340.8 642.5L1341.6 641.7L1342.3 640.8L1343 640L1343.8 639.3L1344.7 638.4L1345.6 637.9L1346.5 637.9L1347.3 638.5L1348.1 639.4L1348.9 640.4L1349.7 641.2L1350.5 642L1351.3 642.7L1352.1 643.5L1352.9 644.3L1353.7 645L1354.6 645.7L1355.4 646.4L1356.3 647L1357.2 647.7L1358 648.4L1358.9 649.1L1359.8 649.8L1360.6 650.5L1361.3 651.4L1362 652.2L1362.6 653.2L1363.1 654.1L1363.6 655.1L1364 656.2L1364.4 657.2L1364.7 658.2L1365 659.3L1365.3 660.4L1365.5 661.4L1365.7 662.5L1365.9 663.6L1366.1 664.7L1366.3 665.8L1366.5 666.9L1366.7 668L1366.9 669L1367.1 670.1L1367.3 671.2L1367.5 672.3L1367.8 673.4L1368 674.4L1368.3 675.5L1368.7 676.5L1369.1 677.5L1369.6 678.5L1370.1 679.5L1370.7 680.5L1371.2 681.4L1371.8 682.5L1372.3 683.6L1373 684.5L1373.7 684.9L1374.7 685.1L1375.8 685.2L1377 685.3L1378.2 685.5L1379.3 685.6L1380.4 685.7L1381.5 685.9L1382.6 686L1383.7 686L1384.7 685.6L1385.7 685L1386.7 684.8L1387.9 684.8L1389 684.8L1390 684.8L1390.9 685.2L1391.8 685.9L1392.6 686.7L1393.5 687.6L1394.4 688.3L1395.3 688.9L1396.2 689.5L1397.1 690.1L1398.1 690.7L1399 691.3L1399.9 691.9L1400.8 692.6L1401.7 693.2L1402.6 693.8L1403.5 694.4L1404.4 695.1L1405.3 695.7L1406.2 696.5L1407.2 697.3L1408.1 698.2L1409 698.9L1409.9 699.5L1410.7 699.8L1411.4 699.6L1412.1 698.7L1412.7 697.5L1413.3 696.5L1414 695.6L1414.7 694.9L1415.6 694.1L1416.6 693.5L1417.6 693.3L1418.7 693.3L1419.8 693.5" fill="none" stroke="#b63c9f" stroke-width="1.9" stroke-linejoin="round" stroke-linecap="round"/>
<line x1="73.6" y1="109" x2="73.6" y2="865.3" stroke="#00833e" stroke-width="2.3"/>
<line x1="73.5" y1="126" x2="87.9" y2="126" stroke="#00833e" stroke-width="2.1"/>
<line x1="73.5" y1="206.4" x2="87.9" y2="206.4" stroke="#00833e" stroke-width="2.1"/>
<line x1="73.5" y1="287.2" x2="87.9" y2="287.2" stroke="#00833e" stroke-width="2.1"/>
<line x1="73.5" y1="367.6" x2="87.9" y2="367.6" stroke="#00833e" stroke-width="2.1"/>
<line x1="73.5" y1="448.3" x2="87.9" y2="448.3" stroke="#00833e" stroke-width="2.1"/>
<line x1="73.5" y1="529" x2="87.9" y2="529" stroke="#00833e" stroke-width="2.1"/>
<line x1="73.5" y1="609.6" x2="87.9" y2="609.6" stroke="#00833e" stroke-width="2.1"/>
<line x1="73.5" y1="690.2" x2="87.9" y2="690.2" stroke="#00833e" stroke-width="2.1"/>
<line x1="73.5" y1="771" x2="87.9" y2="771" stroke="#00833e" stroke-width="2.1"/>
<line x1="73.5" y1="851.3" x2="87.9" y2="851.3" stroke="#00833e" stroke-width="2.1"/>
<text transform="translate(1.67 137.20) scale(0.9359 1.0500)" font-size="41.3" fill="#231f20">100</text>
<text transform="translate(17.84 218.20) scale(1.0102 1.0500)" font-size="41.3" fill="#231f20">90</text>
<text transform="translate(19.29 299.00) scale(0.9738 1.0500)" font-size="41.3" fill="#231f20">80</text>
<text transform="translate(19.58 379.40) scale(1.0144 1.0500)" font-size="41.3" fill="#231f20">70</text>
<text transform="translate(19.83 460.10) scale(1.0080 1.0500)" font-size="41.3" fill="#231f20">60</text>
<text transform="translate(19.91 540.80) scale(1.0060 1.0500)" font-size="41.3" fill="#231f20">50</text>
<text transform="translate(19.97 621.40) scale(1.0045 1.0500)" font-size="41.3" fill="#231f20">40</text>
<text transform="translate(20.35 702.05) scale(0.9950 1.0500)" font-size="41.3" fill="#231f20">30</text>
<text transform="translate(20.56 782.80) scale(0.9896 1.0500)" font-size="41.3" fill="#231f20">20</text>
<text transform="translate(23.27 863.10) scale(0.9215 1.0500)" font-size="41.3" fill="#231f20">10</text>
<line x1="72.5" y1="864.3" x2="1486.8" y2="864.3" stroke="#231f20" stroke-width="2.1"/>
<line x1="197.6" y1="850" x2="197.6" y2="864.3" stroke="#231f20" stroke-width="2.0"/>
<line x1="378.8" y1="850" x2="378.8" y2="864.3" stroke="#231f20" stroke-width="2.0"/>
<line x1="560" y1="850" x2="560" y2="864.3" stroke="#231f20" stroke-width="2.0"/>
<line x1="740.7" y1="850" x2="740.7" y2="864.3" stroke="#231f20" stroke-width="2.0"/>
<line x1="921.6" y1="850" x2="921.6" y2="864.3" stroke="#231f20" stroke-width="2.0"/>
<line x1="1102.8" y1="850" x2="1102.8" y2="864.3" stroke="#231f20" stroke-width="2.0"/>
<line x1="1284" y1="850" x2="1284" y2="864.3" stroke="#231f20" stroke-width="2.0"/>
<line x1="1464.4" y1="850" x2="1464.4" y2="864.3" stroke="#231f20" stroke-width="2.0"/>
<text transform="translate(169.46 911.20) scale(0.9509 1.0500)" font-size="41.3" fill="#231f20">100</text>
<text transform="translate(348.75 911.20) scale(0.9958 1.0500)" font-size="41.3" fill="#231f20">200</text>
<text transform="translate(529.74 911.20) scale(0.9993 1.0500)" font-size="41.3" fill="#231f20">300</text>
<text transform="translate(711.59 911.20) scale(0.9803 1.0500)" font-size="41.3" fill="#231f20">400</text>
<text transform="translate(890.91 911.20) scale(1.0064 1.0500)" font-size="41.3" fill="#231f20">500</text>
<text transform="translate(1072.75 911.20) scale(0.9958 1.0500)" font-size="41.3" fill="#231f20">600</text>
<text transform="translate(1252.98 911.20) scale(1.0118 1.0500)" font-size="41.3" fill="#231f20">700</text>
<text transform="translate(1434.56 911.20) scale(0.9923 1.0500)" font-size="41.3" fill="#231f20">800</text>
<line x1="1485.8" y1="109" x2="1485.8" y2="865.3" stroke="#231f20" stroke-width="2.1"/>
<line x1="1471.8" y1="156.3" x2="1485.8" y2="156.3" stroke="#231f20" stroke-width="2.0"/>
<line x1="1471.8" y1="330.3" x2="1485.8" y2="330.3" stroke="#231f20" stroke-width="2.0"/>
<line x1="1471.8" y1="501.5" x2="1485.8" y2="501.5" stroke="#231f20" stroke-width="2.0"/>
<line x1="1471.8" y1="673.8" x2="1485.8" y2="673.8" stroke="#231f20" stroke-width="2.0"/>
<line x1="1471.8" y1="848" x2="1485.8" y2="848" stroke="#231f20" stroke-width="2.0"/>
<text transform="translate(1496.21 169.60) scale(1.0203 1.0500)" font-size="41.3" fill="#231f20">2.0</text>
<text transform="translate(1499.60 343.60) scale(0.9124 1.0500)" font-size="41.3" fill="#231f20">1.5</text>
<text transform="translate(1499.61 514.80) scale(0.9104 1.0500)" font-size="41.3" fill="#231f20">1.0</text>
<text transform="translate(1496.42 687.10) scale(1.0181 1.0500)" font-size="41.3" fill="#231f20">0.5</text>
<text transform="translate(1497.91 861.30) scale(1.0255 1.0500)" font-size="41.3" fill="#231f20">0</text>
<line x1="1554.3" y1="109" x2="1554.3" y2="865.5" stroke="#231f20" stroke-width="2.1"/>
<line x1="1540.3" y1="132" x2="1554.3" y2="132" stroke="#231f20" stroke-width="2.0"/>
<line x1="1540.3" y1="309.7" x2="1554.3" y2="309.7" stroke="#231f20" stroke-width="2.0"/>
<line x1="1540.3" y1="491" x2="1554.3" y2="491" stroke="#231f20" stroke-width="2.0"/>
<line x1="1540.3" y1="670.6" x2="1554.3" y2="670.6" stroke="#231f20" stroke-width="2.0"/>
<line x1="1540.3" y1="851.3" x2="1554.3" y2="851.3" stroke="#231f20" stroke-width="2.0"/>
<text transform="translate(1567.74 145.30) scale(1.0084 1.0500)" font-size="41.3" fill="#231f20">0</text>
<line x1="1570.1" y1="312.6" x2="1594.8" y2="312.6" stroke="#231f20" stroke-width="2.1"/>
<text transform="translate(1596.75 323.30) scale(1.0016 1.0500)" font-size="41.3" fill="#231f20">0.5</text>
<line x1="1570.1" y1="493.9" x2="1594.8" y2="493.9" stroke="#231f20" stroke-width="2.1"/>
<text transform="translate(1598.82 504.60) scale(0.9083 1.0500)" font-size="41.3" fill="#231f20">1.0</text>
<line x1="1570.1" y1="673.5" x2="1594.8" y2="673.5" stroke="#231f20" stroke-width="2.1"/>
<text transform="translate(1598.81 684.20) scale(0.9103 1.0500)" font-size="41.3" fill="#231f20">1.5</text>
<line x1="1570.1" y1="854.2" x2="1594.8" y2="854.2" stroke="#231f20" stroke-width="2.1"/>
<text transform="translate(1596.56 864.90) scale(0.9934 1.0500)" font-size="41.3" fill="#231f20">2.0</text>
<text transform="translate(0.51 50.20) scale(1.0565 0.9987)" font-size="42.5" fill="#231f20">ТГ,</text>
<text transform="translate(69.92 51.20) scale(0.9346 1.0579)" font-size="42.5" fill="#231f20" font-style="italic">%</text>
<text transform="translate(1134.06 49.80) scale(1.0605 0.9446)" font-size="42.5" fill="#231f20">Ионный</text>
<text transform="translate(1302.24 49.80) scale(1.0388 0.8961)" font-size="42.5" fill="#231f20">ток</text>
<text transform="translate(1374.63 51.00) scale(1.0806 1.1200)" font-size="42.5" fill="#231f20">×</text>
<text transform="translate(1404.55 49.90) scale(0.8739 1.0119)" font-size="42.5" fill="#231f20">10</text>
<line x1="1444.2" y1="28.7" x2="1461" y2="28.7" stroke="#231f20" stroke-width="1.7"/>
<text transform="translate(1464.18 35.00) scale(0.9128 0.9889)" font-size="29" fill="#231f20">12</text>
<text transform="translate(1492.08 49.80) scale(1.0196 1.0000)" font-size="42.5" fill="#231f20">,</text>
<text transform="translate(1512.21 49.80) scale(0.9278 0.9626)" font-size="42.5" fill="#231f20">А</text>
<text transform="translate(1429.76 95.00) scale(0.9711 0.9378)" font-size="42.5" fill="#231f20" font-style="italic">d</text>
<text transform="translate(1453.04 95.00) scale(1.0281 0.9591)" font-size="42.5" fill="#231f20">ТГ,</text>
<text transform="translate(1521.24 95.80) scale(0.8821 1.0721)" font-size="42.5" fill="#231f20" font-style="italic">%</text>
<path d="M1555.9 102L1571.3 67.3" stroke="#231f20" stroke-width="2.3" fill="none"/>
<text transform="translate(1573.01 95.00) scale(1.0334 0.9258)" font-size="42.5" fill="#231f20">мин</text>
<text transform="translate(671.94 958.00) scale(1.0238 0.9591)" font-size="42.5" fill="#231f20">Температура,</text>
<text transform="translate(928.07 958.40) scale(1.1070 0.9943)" font-size="42.5" fill="#231f20">°С</text>
<line x1="960" y1="346" x2="960" y2="794.8" stroke="#00833e" stroke-width="2.0"/>
<line x1="960" y1="371.3" x2="974.3" y2="371.3" stroke="#00833e" stroke-width="1.9"/>
<line x1="960" y1="419.2" x2="974.3" y2="419.2" stroke="#00833e" stroke-width="1.9"/>
<line x1="960" y1="467.2" x2="974.3" y2="467.2" stroke="#00833e" stroke-width="1.9"/>
<line x1="960" y1="515.2" x2="974.3" y2="515.2" stroke="#00833e" stroke-width="1.9"/>
<line x1="960" y1="563" x2="974.3" y2="563" stroke="#00833e" stroke-width="1.9"/>
<line x1="960" y1="611" x2="974.3" y2="611" stroke="#00833e" stroke-width="1.9"/>
<line x1="960" y1="659" x2="974.3" y2="659" stroke="#00833e" stroke-width="1.9"/>
<line x1="960" y1="706.8" x2="974.3" y2="706.8" stroke="#00833e" stroke-width="1.9"/>
<line x1="960" y1="754.8" x2="974.3" y2="754.8" stroke="#00833e" stroke-width="1.9"/>
<line x1="959" y1="793.8" x2="1429.4" y2="793.8" stroke="#151213" stroke-width="2.3"/>
<line x1="1035.3" y1="780" x2="1035.3" y2="793.8" stroke="#151213" stroke-width="2.0"/>
<line x1="1143.3" y1="780" x2="1143.3" y2="793.8" stroke="#151213" stroke-width="2.0"/>
<line x1="1252.3" y1="780" x2="1252.3" y2="793.8" stroke="#151213" stroke-width="2.0"/>
<line x1="1360.5" y1="780" x2="1360.5" y2="793.8" stroke="#151213" stroke-width="2.0"/>
<text transform="translate(1012.86 828.60) scale(0.9645 1.0500)" font-size="32.5" fill="#231f20">100</text>
<text transform="translate(1119.17 828.60) scale(1.0358 1.0500)" font-size="32.5" fill="#231f20">200</text>
<text transform="translate(1228.00 828.60) scale(1.0394 1.0500)" font-size="32.5" fill="#231f20">300</text>
<text transform="translate(1337.14 828.60) scale(1.0196 1.0500)" font-size="32.5" fill="#231f20">400</text>
<line x1="1428.6" y1="344.9" x2="1428.6" y2="794.3" stroke="#b63c9f" stroke-width="2.2"/>
<line x1="1414.9" y1="346" x2="1428.6" y2="346" stroke="#b63c9f" stroke-width="2.2"/>
<line x1="1414.9" y1="427.6" x2="1428.6" y2="427.6" stroke="#b63c9f" stroke-width="2.2"/>
<line x1="1414.9" y1="514.9" x2="1428.6" y2="514.9" stroke="#b63c9f" stroke-width="2.2"/>
<line x1="1414.9" y1="600.9" x2="1428.6" y2="600.9" stroke="#b63c9f" stroke-width="2.2"/>
<line x1="1414.9" y1="689.9" x2="1428.6" y2="689.9" stroke="#b63c9f" stroke-width="2.2"/>
<line x1="1414.9" y1="773.9" x2="1428.6" y2="773.9" stroke="#b63c9f" stroke-width="2.2"/>
<text transform="translate(1432.40 358.90) scale(0.9382 1.0500)" font-size="32.5" fill="#231f20">210</text>
<text transform="translate(1432.32 440.90) scale(0.9967 1.0500)" font-size="32.5" fill="#231f20">200</text>
<text transform="translate(1433.33 528.70) scale(0.9757 1.0500)" font-size="32.5" fill="#231f20">190</text>
<text transform="translate(1433.41 614.20) scale(0.9443 1.0500)" font-size="32.5" fill="#231f20">180</text>
<text transform="translate(1433.51 701.90) scale(0.9108 1.0500)" font-size="32.5" fill="#231f20">170</text>
<text transform="translate(1433.31 786.70) scale(0.9824 1.0500)" font-size="32.5" fill="#231f20">160</text>
<text transform="translate(951.66 322.00) scale(1.1220 0.9724)" font-size="32.5" fill="#231f20">ТГ,</text>
<text transform="translate(1007.07 322.80) scale(0.9778 1.0688)" font-size="32.5" fill="#231f20" font-style="italic">%</text>
<text transform="translate(1137.91 322.00) scale(1.1041 0.9388)" font-size="32.5" fill="#231f20">Ионный</text>
<text transform="translate(1273.77 322.00) scale(1.0772 1.1064)" font-size="32.5" fill="#231f20">ток,</text>
<text transform="translate(1340.26 323.00) scale(1.1700 1.1000)" font-size="32.5" fill="#231f20">×</text>
<text transform="translate(1363.56 322.10) scale(0.9635 1.0457)" font-size="32.5" fill="#231f20">10</text>
<line x1="1396" y1="303.4" x2="1411" y2="303.4" stroke="#231f20" stroke-width="1.5"/>
<text transform="translate(1413.57 308.60) scale(1.1104 1.1354)" font-size="23" fill="#231f20">12</text>
<text transform="translate(1438.95 322.00) scale(1.2718 1.0000)" font-size="32.5" fill="#231f20">,</text>
<text transform="translate(1453.97 322.00) scale(1.0213 0.9557)" font-size="32.5" fill="#231f20">А</text>
<text transform="translate(775.53 266.00) scale(0.9553 1.0500)" font-size="41.3" fill="#2a6fb5">35</text>
<text transform="translate(672.38 724.80) scale(0.9943 1.0500)" font-size="41.3" fill="#1f2467">49</text>
<text transform="translate(780.24 722.10) scale(0.9008 1.0500)" font-size="41.3" fill="#c2256f">12</text>
<text transform="translate(517.94 797.60) scale(1.0143 1.0500)" font-size="41.3" fill="#9c3b3f">94</text>
<text transform="translate(1378.79 666.00) scale(0.8826 1.0500)" font-size="32.5" fill="#b2339a">18</text>
<path d="M768.4 288.6H787.6M778 279V298.2" stroke="#38393c" stroke-width="1.9" fill="none"/>
<path d="M664.3 759H683.3M673.8 749.5V768.5" stroke="#2b2829" stroke-width="1.8" fill="none"/>
<path d="M768.5 751.2H787.5M778 741.7V760.7" stroke="#2b2829" stroke-width="1.8" fill="none"/>
<path d="M510 827.3H528M519 818.3V836.3" stroke="#2b2829" stroke-width="1.8" fill="none"/>
<line x1="1381.5" y1="680.8" x2="1381.5" y2="692.2" stroke="#a9cfe6" stroke-width="0.9"/>
<line x1="1376.8" y1="686.4" x2="1387.2" y2="686.4" stroke="#2c2a55" stroke-width="1.4"/>
</svg>
</body></html>
